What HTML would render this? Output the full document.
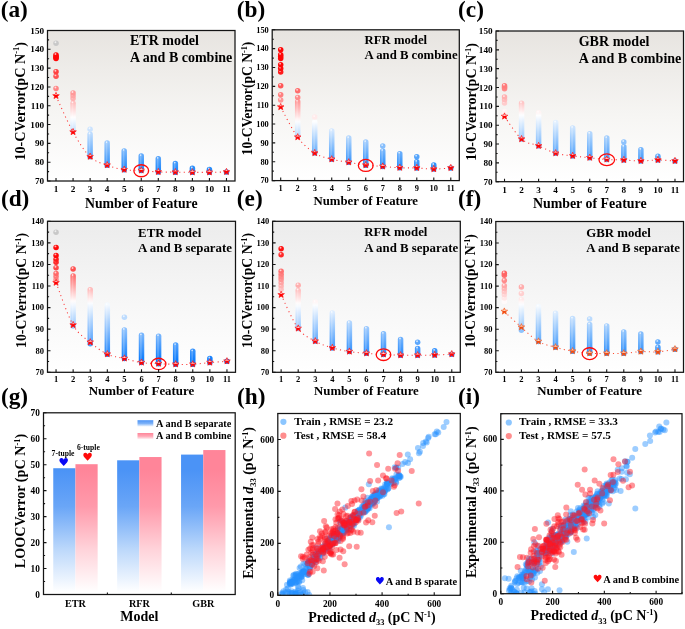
<!DOCTYPE html><html><head><meta charset="utf-8"><style>html,body{margin:0;padding:0;background:#fff;width:685px;height:629px;overflow:hidden}svg{display:block;font-family:"Liberation Serif", serif;will-change:transform}</style></head><body><svg width="685" height="629" viewBox="0 0 685 629"><defs><linearGradient id="bg1" x1="0" y1="0" x2="0" y2="1"><stop offset="0" stop-color="#e7e4e0"/><stop offset="0.55" stop-color="#f6f5f3"/><stop offset="1" stop-color="#ffffff"/></linearGradient>
<linearGradient id="cg2" gradientUnits="userSpaceOnUse" x1="0" y1="103.19" x2="0" y2="131.15"><stop offset="0" stop-color="#ffbfbf"/><stop offset="0.08" stop-color="#ffcaca"/><stop offset="0.17" stop-color="#ffd4d4"/><stop offset="0.25" stop-color="#ffdede"/><stop offset="0.33" stop-color="#ffe8e8"/><stop offset="0.42" stop-color="#fff3f3"/><stop offset="0.5" stop-color="#fffdfd"/><stop offset="0.58" stop-color="#f7fbff"/><stop offset="0.67" stop-color="#ecf5ff"/><stop offset="0.75" stop-color="#e2f0fe"/><stop offset="0.83" stop-color="#d8eafe"/><stop offset="0.92" stop-color="#cee5fe"/><stop offset="1" stop-color="#c4dffe"/></linearGradient>
<linearGradient id="cg3" gradientUnits="userSpaceOnUse" x1="0" y1="134.23" x2="0" y2="156.73"><stop offset="0" stop-color="#bcdbfe"/><stop offset="0.08" stop-color="#b3d6fd"/><stop offset="0.17" stop-color="#abd2fd"/><stop offset="0.25" stop-color="#a3cefd"/><stop offset="0.33" stop-color="#9ac9fd"/><stop offset="0.42" stop-color="#92c5fd"/><stop offset="0.5" stop-color="#8ac0fc"/><stop offset="0.58" stop-color="#81bcfc"/><stop offset="0.67" stop-color="#79b7fc"/><stop offset="0.75" stop-color="#71b3fc"/><stop offset="0.83" stop-color="#68aefc"/><stop offset="0.92" stop-color="#60aafc"/><stop offset="1" stop-color="#58a6fb"/></linearGradient>
<linearGradient id="cg4" gradientUnits="userSpaceOnUse" x1="0" y1="143.07" x2="0" y2="165.2"><stop offset="0" stop-color="#96c7fd"/><stop offset="0.08" stop-color="#8ec3fd"/><stop offset="0.17" stop-color="#86befc"/><stop offset="0.25" stop-color="#7ebafc"/><stop offset="0.33" stop-color="#76b5fc"/><stop offset="0.42" stop-color="#6db1fc"/><stop offset="0.5" stop-color="#65adfc"/><stop offset="0.58" stop-color="#5da8fb"/><stop offset="0.67" stop-color="#55a4fb"/><stop offset="0.75" stop-color="#4da0fb"/><stop offset="0.83" stop-color="#449bfb"/><stop offset="0.92" stop-color="#3c97fb"/><stop offset="1" stop-color="#3492fb"/></linearGradient>
<linearGradient id="cg5" gradientUnits="userSpaceOnUse" x1="0" y1="150.97" x2="0" y2="169.71"><stop offset="0" stop-color="#75b5fc"/><stop offset="0.08" stop-color="#6eb1fc"/><stop offset="0.17" stop-color="#67aefc"/><stop offset="0.25" stop-color="#60aafc"/><stop offset="0.33" stop-color="#59a6fb"/><stop offset="0.42" stop-color="#52a2fb"/><stop offset="0.5" stop-color="#4b9ffb"/><stop offset="0.58" stop-color="#449bfb"/><stop offset="0.67" stop-color="#3d97fb"/><stop offset="0.75" stop-color="#3693fb"/><stop offset="0.83" stop-color="#2f90fa"/><stop offset="0.92" stop-color="#288cfa"/><stop offset="1" stop-color="#2188fa"/></linearGradient>
<linearGradient id="cg6" gradientUnits="userSpaceOnUse" x1="0" y1="156.05" x2="0" y2="170.47"><stop offset="0" stop-color="#60aafc"/><stop offset="0.08" stop-color="#5aa7fb"/><stop offset="0.17" stop-color="#55a4fb"/><stop offset="0.25" stop-color="#4fa1fb"/><stop offset="0.33" stop-color="#4a9efb"/><stop offset="0.42" stop-color="#449bfb"/><stop offset="0.5" stop-color="#3f98fb"/><stop offset="0.58" stop-color="#3995fb"/><stop offset="0.67" stop-color="#3492fb"/><stop offset="0.75" stop-color="#2e8ffa"/><stop offset="0.83" stop-color="#298cfa"/><stop offset="0.92" stop-color="#2389fa"/><stop offset="1" stop-color="#1e87fa"/></linearGradient>
<linearGradient id="cg7" gradientUnits="userSpaceOnUse" x1="0" y1="158.87" x2="0" y2="171.97"><stop offset="0" stop-color="#54a3fb"/><stop offset="0.08" stop-color="#4fa1fb"/><stop offset="0.17" stop-color="#4a9efb"/><stop offset="0.25" stop-color="#459bfb"/><stop offset="0.33" stop-color="#4099fb"/><stop offset="0.42" stop-color="#3b96fb"/><stop offset="0.5" stop-color="#3693fb"/><stop offset="0.58" stop-color="#3191fb"/><stop offset="0.67" stop-color="#2c8efa"/><stop offset="0.75" stop-color="#268bfa"/><stop offset="0.83" stop-color="#2189fa"/><stop offset="0.92" stop-color="#1c86fa"/><stop offset="1" stop-color="#1984fa"/></linearGradient>
<linearGradient id="cg8" gradientUnits="userSpaceOnUse" x1="0" y1="163.58" x2="0" y2="172.16"><stop offset="0" stop-color="#4099fb"/><stop offset="0.08" stop-color="#3c97fb"/><stop offset="0.17" stop-color="#3995fb"/><stop offset="0.25" stop-color="#3693fb"/><stop offset="0.33" stop-color="#3291fb"/><stop offset="0.42" stop-color="#2f90fa"/><stop offset="0.5" stop-color="#2b8efa"/><stop offset="0.58" stop-color="#288cfa"/><stop offset="0.67" stop-color="#248afa"/><stop offset="0.75" stop-color="#2188fa"/><stop offset="0.83" stop-color="#1d86fa"/><stop offset="0.92" stop-color="#1a85fa"/><stop offset="1" stop-color="#1984fa"/></linearGradient>
<linearGradient id="cg9" gradientUnits="userSpaceOnUse" x1="0" y1="168.28" x2="0" y2="172.35"><stop offset="0" stop-color="#2c8efa"/><stop offset="0.08" stop-color="#2a8dfa"/><stop offset="0.17" stop-color="#288cfa"/><stop offset="0.25" stop-color="#268bfa"/><stop offset="0.33" stop-color="#258afa"/><stop offset="0.42" stop-color="#2389fa"/><stop offset="0.5" stop-color="#2188fa"/><stop offset="0.58" stop-color="#1f87fa"/><stop offset="0.67" stop-color="#1d86fa"/><stop offset="0.75" stop-color="#1b85fa"/><stop offset="0.83" stop-color="#1a84fa"/><stop offset="0.92" stop-color="#1984fa"/><stop offset="1" stop-color="#1984fa"/></linearGradient>
<linearGradient id="cg10" gradientUnits="userSpaceOnUse" x1="0" y1="169.41" x2="0" y2="172.35"><stop offset="0" stop-color="#278cfa"/><stop offset="0.08" stop-color="#268bfa"/><stop offset="0.17" stop-color="#248afa"/><stop offset="0.25" stop-color="#2389fa"/><stop offset="0.33" stop-color="#2189fa"/><stop offset="0.42" stop-color="#2088fa"/><stop offset="0.5" stop-color="#1f87fa"/><stop offset="0.58" stop-color="#1d86fa"/><stop offset="0.67" stop-color="#1c85fa"/><stop offset="0.75" stop-color="#1a85fa"/><stop offset="0.83" stop-color="#1984fa"/><stop offset="0.92" stop-color="#1984fa"/><stop offset="1" stop-color="#1984fa"/></linearGradient>
<linearGradient id="sg11" x1="0" y1="0" x2="0" y2="1"><stop offset="0" stop-color="#ffc8c8"/><stop offset="0.44" stop-color="#ffc8c8"/><stop offset="0.5" stop-color="#ff0000"/><stop offset="1" stop-color="#ff0000"/></linearGradient>
<linearGradient id="bg12" x1="0" y1="0" x2="0" y2="1"><stop offset="0" stop-color="#e7e4e0"/><stop offset="0.55" stop-color="#f6f5f3"/><stop offset="1" stop-color="#ffffff"/></linearGradient>
<linearGradient id="cg13" gradientUnits="userSpaceOnUse" x1="0" y1="101.69" x2="0" y2="136.3"><stop offset="0" stop-color="#ff9999"/><stop offset="0.08" stop-color="#ffa7a7"/><stop offset="0.17" stop-color="#ffb5b5"/><stop offset="0.25" stop-color="#ffc4c4"/><stop offset="0.33" stop-color="#ffd3d3"/><stop offset="0.42" stop-color="#ffe2e2"/><stop offset="0.5" stop-color="#fff3f3"/><stop offset="0.58" stop-color="#fafcff"/><stop offset="0.67" stop-color="#ecf5ff"/><stop offset="0.75" stop-color="#deedfe"/><stop offset="0.83" stop-color="#d0e6fe"/><stop offset="0.92" stop-color="#c2defe"/><stop offset="1" stop-color="#b4d7fd"/></linearGradient>
<linearGradient id="cg14" gradientUnits="userSpaceOnUse" x1="0" y1="122.05" x2="0" y2="153.08"><stop offset="0" stop-color="#fcfeff"/><stop offset="0.08" stop-color="#f0f7ff"/><stop offset="0.17" stop-color="#e3f0fe"/><stop offset="0.25" stop-color="#d7e9fe"/><stop offset="0.33" stop-color="#cae3fe"/><stop offset="0.42" stop-color="#bddcfe"/><stop offset="0.5" stop-color="#b1d5fd"/><stop offset="0.58" stop-color="#a4cefd"/><stop offset="0.67" stop-color="#97c8fd"/><stop offset="0.75" stop-color="#8bc1fc"/><stop offset="0.83" stop-color="#7ebafc"/><stop offset="0.92" stop-color="#72b3fc"/><stop offset="1" stop-color="#65adfc"/></linearGradient>
<linearGradient id="cg15" gradientUnits="userSpaceOnUse" x1="0" y1="130.9" x2="0" y2="159.3"><stop offset="0" stop-color="#d3e7fe"/><stop offset="0.08" stop-color="#c7e1fe"/><stop offset="0.17" stop-color="#bcdbfe"/><stop offset="0.25" stop-color="#b0d5fd"/><stop offset="0.33" stop-color="#a4cffd"/><stop offset="0.42" stop-color="#99c8fd"/><stop offset="0.5" stop-color="#8dc2fd"/><stop offset="0.58" stop-color="#82bcfc"/><stop offset="0.67" stop-color="#76b6fc"/><stop offset="0.75" stop-color="#6bb0fc"/><stop offset="0.83" stop-color="#5fa9fc"/><stop offset="0.92" stop-color="#53a3fb"/><stop offset="1" stop-color="#489dfb"/></linearGradient>
<linearGradient id="cg16" gradientUnits="userSpaceOnUse" x1="0" y1="138.07" x2="0" y2="162.32"><stop offset="0" stop-color="#b1d5fd"/><stop offset="0.08" stop-color="#a7d0fd"/><stop offset="0.17" stop-color="#9dcbfd"/><stop offset="0.25" stop-color="#93c5fd"/><stop offset="0.33" stop-color="#89c0fc"/><stop offset="0.42" stop-color="#7fbbfc"/><stop offset="0.5" stop-color="#75b5fc"/><stop offset="0.58" stop-color="#6bb0fc"/><stop offset="0.67" stop-color="#62abfc"/><stop offset="0.75" stop-color="#58a5fb"/><stop offset="0.83" stop-color="#4ea0fb"/><stop offset="0.92" stop-color="#449bfb"/><stop offset="1" stop-color="#3a96fb"/></linearGradient>
<linearGradient id="cg17" gradientUnits="userSpaceOnUse" x1="0" y1="142.03" x2="0" y2="165.14"><stop offset="0" stop-color="#9fcbfd"/><stop offset="0.08" stop-color="#95c6fd"/><stop offset="0.17" stop-color="#8cc1fc"/><stop offset="0.25" stop-color="#82bcfc"/><stop offset="0.33" stop-color="#79b7fc"/><stop offset="0.42" stop-color="#6fb2fc"/><stop offset="0.5" stop-color="#66adfc"/><stop offset="0.58" stop-color="#5ca8fb"/><stop offset="0.67" stop-color="#52a3fb"/><stop offset="0.75" stop-color="#499efb"/><stop offset="0.83" stop-color="#3f99fb"/><stop offset="0.92" stop-color="#3693fb"/><stop offset="1" stop-color="#2c8efa"/></linearGradient>
<linearGradient id="cg18" gradientUnits="userSpaceOnUse" x1="0" y1="150.89" x2="0" y2="166.46"><stop offset="0" stop-color="#75b5fc"/><stop offset="0.08" stop-color="#6eb2fc"/><stop offset="0.17" stop-color="#68aefc"/><stop offset="0.25" stop-color="#61abfc"/><stop offset="0.33" stop-color="#5ba7fb"/><stop offset="0.42" stop-color="#54a4fb"/><stop offset="0.5" stop-color="#4ea0fb"/><stop offset="0.58" stop-color="#479dfb"/><stop offset="0.67" stop-color="#4199fb"/><stop offset="0.75" stop-color="#3a96fb"/><stop offset="0.83" stop-color="#3392fb"/><stop offset="0.92" stop-color="#2d8ffa"/><stop offset="1" stop-color="#268bfa"/></linearGradient>
<linearGradient id="cg19" gradientUnits="userSpaceOnUse" x1="0" y1="153.71" x2="0" y2="167.78"><stop offset="0" stop-color="#68aefc"/><stop offset="0.08" stop-color="#62abfc"/><stop offset="0.17" stop-color="#5ca8fb"/><stop offset="0.25" stop-color="#56a5fb"/><stop offset="0.33" stop-color="#50a1fb"/><stop offset="0.42" stop-color="#4a9efb"/><stop offset="0.5" stop-color="#449bfb"/><stop offset="0.58" stop-color="#3e98fb"/><stop offset="0.67" stop-color="#3895fb"/><stop offset="0.75" stop-color="#3291fb"/><stop offset="0.83" stop-color="#2c8efa"/><stop offset="0.92" stop-color="#268bfa"/><stop offset="1" stop-color="#2088fa"/></linearGradient>
<linearGradient id="cg20" gradientUnits="userSpaceOnUse" x1="0" y1="161.82" x2="0" y2="167.97"><stop offset="0" stop-color="#429afb"/><stop offset="0.08" stop-color="#3f98fb"/><stop offset="0.17" stop-color="#3c97fb"/><stop offset="0.25" stop-color="#3995fb"/><stop offset="0.33" stop-color="#3694fb"/><stop offset="0.42" stop-color="#3392fb"/><stop offset="0.5" stop-color="#3091fb"/><stop offset="0.58" stop-color="#2e8ffa"/><stop offset="0.67" stop-color="#2b8dfa"/><stop offset="0.75" stop-color="#288cfa"/><stop offset="0.83" stop-color="#258afa"/><stop offset="0.92" stop-color="#2289fa"/><stop offset="1" stop-color="#1f87fa"/></linearGradient>
<linearGradient id="cg21" gradientUnits="userSpaceOnUse" x1="0" y1="165.02" x2="0" y2="169.1"><stop offset="0" stop-color="#3392fb"/><stop offset="0.08" stop-color="#3191fb"/><stop offset="0.17" stop-color="#2f90fa"/><stop offset="0.25" stop-color="#2c8efa"/><stop offset="0.33" stop-color="#2a8dfa"/><stop offset="0.42" stop-color="#288cfa"/><stop offset="0.5" stop-color="#268bfa"/><stop offset="0.58" stop-color="#248afa"/><stop offset="0.67" stop-color="#2289fa"/><stop offset="0.75" stop-color="#2088fa"/><stop offset="0.83" stop-color="#1e87fa"/><stop offset="0.92" stop-color="#1c86fa"/><stop offset="1" stop-color="#1a84fa"/></linearGradient>
<linearGradient id="sg22" x1="0" y1="0" x2="0" y2="1"><stop offset="0" stop-color="#ffc8c8"/><stop offset="0.44" stop-color="#ffc8c8"/><stop offset="0.5" stop-color="#ff0000"/><stop offset="1" stop-color="#ff0000"/></linearGradient>
<linearGradient id="bg23" x1="0" y1="0" x2="0" y2="1"><stop offset="0" stop-color="#e7e4e0"/><stop offset="0.55" stop-color="#f6f5f3"/><stop offset="1" stop-color="#ffffff"/></linearGradient>
<linearGradient id="cg24" gradientUnits="userSpaceOnUse" x1="0" y1="103.22" x2="0" y2="139.13"><stop offset="0" stop-color="#ffc7c7"/><stop offset="0.08" stop-color="#ffd6d6"/><stop offset="0.17" stop-color="#ffe4e4"/><stop offset="0.25" stop-color="#fff3f3"/><stop offset="0.33" stop-color="#fdfeff"/><stop offset="0.42" stop-color="#f0f7ff"/><stop offset="0.5" stop-color="#e4f0fe"/><stop offset="0.58" stop-color="#d7eafe"/><stop offset="0.67" stop-color="#cbe3fe"/><stop offset="0.75" stop-color="#bedcfe"/><stop offset="0.83" stop-color="#b1d6fd"/><stop offset="0.92" stop-color="#a5cffd"/><stop offset="1" stop-color="#98c8fd"/></linearGradient>
<linearGradient id="cg25" gradientUnits="userSpaceOnUse" x1="0" y1="112.82" x2="0" y2="145.91"><stop offset="0" stop-color="#fff4f4"/><stop offset="0.08" stop-color="#fdfeff"/><stop offset="0.17" stop-color="#f1f7ff"/><stop offset="0.25" stop-color="#e5f1fe"/><stop offset="0.33" stop-color="#daebfe"/><stop offset="0.42" stop-color="#cee5fe"/><stop offset="0.5" stop-color="#c2dffe"/><stop offset="0.58" stop-color="#b7d8fd"/><stop offset="0.67" stop-color="#abd2fd"/><stop offset="0.75" stop-color="#a0ccfd"/><stop offset="0.83" stop-color="#94c6fd"/><stop offset="0.92" stop-color="#88c0fc"/><stop offset="1" stop-color="#7db9fc"/></linearGradient>
<linearGradient id="cg26" gradientUnits="userSpaceOnUse" x1="0" y1="122.43" x2="0" y2="153.26"><stop offset="0" stop-color="#e1effe"/><stop offset="0.08" stop-color="#d6e9fe"/><stop offset="0.17" stop-color="#cbe3fe"/><stop offset="0.25" stop-color="#c1defe"/><stop offset="0.33" stop-color="#b6d8fd"/><stop offset="0.42" stop-color="#abd2fd"/><stop offset="0.5" stop-color="#a0ccfd"/><stop offset="0.58" stop-color="#95c6fd"/><stop offset="0.67" stop-color="#8ac1fc"/><stop offset="0.75" stop-color="#7fbbfc"/><stop offset="0.83" stop-color="#74b5fc"/><stop offset="0.92" stop-color="#6aaffc"/><stop offset="1" stop-color="#5fa9fc"/></linearGradient>
<linearGradient id="cg27" gradientUnits="userSpaceOnUse" x1="0" y1="127.89" x2="0" y2="155.89"><stop offset="0" stop-color="#cbe3fe"/><stop offset="0.08" stop-color="#c1defe"/><stop offset="0.17" stop-color="#b7d9fd"/><stop offset="0.25" stop-color="#add3fd"/><stop offset="0.33" stop-color="#a3cefd"/><stop offset="0.42" stop-color="#99c9fd"/><stop offset="0.5" stop-color="#8fc3fd"/><stop offset="0.58" stop-color="#86befc"/><stop offset="0.67" stop-color="#7cb9fc"/><stop offset="0.75" stop-color="#72b3fc"/><stop offset="0.83" stop-color="#68aefc"/><stop offset="0.92" stop-color="#5ea9fb"/><stop offset="1" stop-color="#54a4fb"/></linearGradient>
<linearGradient id="cg28" gradientUnits="userSpaceOnUse" x1="0" y1="133.73" x2="0" y2="157.78"><stop offset="0" stop-color="#b3d6fd"/><stop offset="0.08" stop-color="#abd2fd"/><stop offset="0.17" stop-color="#a2cdfd"/><stop offset="0.25" stop-color="#99c9fd"/><stop offset="0.33" stop-color="#91c4fd"/><stop offset="0.42" stop-color="#88c0fc"/><stop offset="0.5" stop-color="#80bbfc"/><stop offset="0.58" stop-color="#77b6fc"/><stop offset="0.67" stop-color="#6fb2fc"/><stop offset="0.75" stop-color="#66adfc"/><stop offset="0.83" stop-color="#5da9fb"/><stop offset="0.92" stop-color="#55a4fb"/><stop offset="1" stop-color="#4c9ffb"/></linearGradient>
<linearGradient id="cg29" gradientUnits="userSpaceOnUse" x1="0" y1="138.07" x2="0" y2="159.47"><stop offset="0" stop-color="#a1cdfd"/><stop offset="0.08" stop-color="#9ac9fd"/><stop offset="0.17" stop-color="#92c5fd"/><stop offset="0.25" stop-color="#8ac1fc"/><stop offset="0.33" stop-color="#83bdfc"/><stop offset="0.42" stop-color="#7bb8fc"/><stop offset="0.5" stop-color="#73b4fc"/><stop offset="0.58" stop-color="#6cb0fc"/><stop offset="0.67" stop-color="#64acfc"/><stop offset="0.75" stop-color="#5ca8fb"/><stop offset="0.83" stop-color="#55a4fb"/><stop offset="0.92" stop-color="#4da0fb"/><stop offset="1" stop-color="#459cfb"/></linearGradient>
<linearGradient id="cg30" gradientUnits="userSpaceOnUse" x1="0" y1="146.73" x2="0" y2="160.04"><stop offset="0" stop-color="#7ebafc"/><stop offset="0.08" stop-color="#79b7fc"/><stop offset="0.17" stop-color="#74b5fc"/><stop offset="0.25" stop-color="#6fb2fc"/><stop offset="0.33" stop-color="#6bb0fc"/><stop offset="0.42" stop-color="#66adfc"/><stop offset="0.5" stop-color="#61aafc"/><stop offset="0.58" stop-color="#5ca8fb"/><stop offset="0.67" stop-color="#57a5fb"/><stop offset="0.75" stop-color="#52a2fb"/><stop offset="0.83" stop-color="#4da0fb"/><stop offset="0.92" stop-color="#489dfb"/><stop offset="1" stop-color="#439bfb"/></linearGradient>
<linearGradient id="cg31" gradientUnits="userSpaceOnUse" x1="0" y1="149.75" x2="0" y2="160.98"><stop offset="0" stop-color="#72b4fc"/><stop offset="0.08" stop-color="#6eb1fc"/><stop offset="0.17" stop-color="#6aaffc"/><stop offset="0.25" stop-color="#65adfc"/><stop offset="0.33" stop-color="#61abfc"/><stop offset="0.42" stop-color="#5da8fb"/><stop offset="0.5" stop-color="#59a6fb"/><stop offset="0.58" stop-color="#54a4fb"/><stop offset="0.67" stop-color="#50a2fb"/><stop offset="0.75" stop-color="#4c9ffb"/><stop offset="0.83" stop-color="#489dfb"/><stop offset="0.92" stop-color="#449bfb"/><stop offset="1" stop-color="#3f98fb"/></linearGradient>
<linearGradient id="cg32" gradientUnits="userSpaceOnUse" x1="0" y1="156.15" x2="0" y2="160.04"><stop offset="0" stop-color="#58a6fb"/><stop offset="0.08" stop-color="#56a5fb"/><stop offset="0.17" stop-color="#54a4fb"/><stop offset="0.25" stop-color="#53a3fb"/><stop offset="0.33" stop-color="#51a2fb"/><stop offset="0.42" stop-color="#4fa1fb"/><stop offset="0.5" stop-color="#4ea0fb"/><stop offset="0.58" stop-color="#4c9ffb"/><stop offset="0.67" stop-color="#4a9efb"/><stop offset="0.75" stop-color="#489dfb"/><stop offset="0.83" stop-color="#479cfb"/><stop offset="0.92" stop-color="#459bfb"/><stop offset="1" stop-color="#439bfb"/></linearGradient>
<linearGradient id="sg33" x1="0" y1="0" x2="0" y2="1"><stop offset="0" stop-color="#ffc8c8"/><stop offset="0.44" stop-color="#ffc8c8"/><stop offset="0.5" stop-color="#ff0000"/><stop offset="1" stop-color="#ff0000"/></linearGradient>
<linearGradient id="bg34" x1="0" y1="0" x2="0" y2="1"><stop offset="0" stop-color="#ececec"/><stop offset="0.55" stop-color="#f7f7f7"/><stop offset="1" stop-color="#ffffff"/></linearGradient>
<linearGradient id="cg35" gradientUnits="userSpaceOnUse" x1="0" y1="276" x2="0" y2="325.92"><stop offset="0" stop-color="#ff7070"/><stop offset="0.08" stop-color="#ff8787"/><stop offset="0.17" stop-color="#ff9e9e"/><stop offset="0.25" stop-color="#ffb5b5"/><stop offset="0.33" stop-color="#ffcccc"/><stop offset="0.42" stop-color="#ffe4e4"/><stop offset="0.5" stop-color="#fffbfb"/><stop offset="0.58" stop-color="#f1f7ff"/><stop offset="0.67" stop-color="#dfeeff"/><stop offset="0.75" stop-color="#cde4fe"/><stop offset="0.83" stop-color="#bcdbfe"/><stop offset="0.92" stop-color="#aad1fe"/><stop offset="1" stop-color="#99c8fe"/></linearGradient>
<linearGradient id="cg36" gradientUnits="userSpaceOnUse" x1="0" y1="289.8" x2="0" y2="343.83"><stop offset="0" stop-color="#ffbbbb"/><stop offset="0.08" stop-color="#ffd4d4"/><stop offset="0.17" stop-color="#ffeded"/><stop offset="0.25" stop-color="#fafcff"/><stop offset="0.33" stop-color="#e7f2ff"/><stop offset="0.42" stop-color="#d4e8fe"/><stop offset="0.5" stop-color="#c1ddfe"/><stop offset="0.58" stop-color="#aed3fe"/><stop offset="0.67" stop-color="#9bc9fe"/><stop offset="0.75" stop-color="#88befe"/><stop offset="0.83" stop-color="#75b4fd"/><stop offset="0.92" stop-color="#62aafd"/><stop offset="1" stop-color="#4fa0fd"/></linearGradient>
<linearGradient id="cg37" gradientUnits="userSpaceOnUse" x1="0" y1="305.12" x2="0" y2="354.18"><stop offset="0" stop-color="#f3f9ff"/><stop offset="0.08" stop-color="#e2efff"/><stop offset="0.17" stop-color="#d1e6fe"/><stop offset="0.25" stop-color="#c0ddfe"/><stop offset="0.33" stop-color="#aed3fe"/><stop offset="0.42" stop-color="#9dcafe"/><stop offset="0.5" stop-color="#8cc1fe"/><stop offset="0.58" stop-color="#7bb7fd"/><stop offset="0.67" stop-color="#69aefd"/><stop offset="0.75" stop-color="#58a5fd"/><stop offset="0.83" stop-color="#479bfd"/><stop offset="0.92" stop-color="#3692fc"/><stop offset="1" stop-color="#2489fc"/></linearGradient>
<linearGradient id="cg38" gradientUnits="userSpaceOnUse" x1="0" y1="329.93" x2="0" y2="358.49"><stop offset="0" stop-color="#8dc1fe"/><stop offset="0.08" stop-color="#83bcfd"/><stop offset="0.17" stop-color="#79b6fd"/><stop offset="0.25" stop-color="#6fb1fd"/><stop offset="0.33" stop-color="#64abfd"/><stop offset="0.42" stop-color="#5aa6fd"/><stop offset="0.5" stop-color="#50a0fd"/><stop offset="0.58" stop-color="#469bfd"/><stop offset="0.67" stop-color="#3b95fd"/><stop offset="0.75" stop-color="#3190fc"/><stop offset="0.83" stop-color="#278afc"/><stop offset="0.92" stop-color="#1d84fc"/><stop offset="1" stop-color="#137ffc"/></linearGradient>
<linearGradient id="cg39" gradientUnits="userSpaceOnUse" x1="0" y1="335.32" x2="0" y2="362.59"><stop offset="0" stop-color="#77b5fd"/><stop offset="0.08" stop-color="#6db0fd"/><stop offset="0.17" stop-color="#63abfd"/><stop offset="0.25" stop-color="#5aa5fd"/><stop offset="0.33" stop-color="#50a0fd"/><stop offset="0.42" stop-color="#469bfd"/><stop offset="0.5" stop-color="#3c96fd"/><stop offset="0.58" stop-color="#3390fc"/><stop offset="0.67" stop-color="#298bfc"/><stop offset="0.75" stop-color="#1f86fc"/><stop offset="0.83" stop-color="#1580fc"/><stop offset="0.92" stop-color="#0f7dfc"/><stop offset="1" stop-color="#0f7dfc"/></linearGradient>
<linearGradient id="cg40" gradientUnits="userSpaceOnUse" x1="0" y1="336.18" x2="0" y2="363.67"><stop offset="0" stop-color="#73b3fd"/><stop offset="0.08" stop-color="#6aaefd"/><stop offset="0.17" stop-color="#60a9fd"/><stop offset="0.25" stop-color="#56a3fd"/><stop offset="0.33" stop-color="#4c9efd"/><stop offset="0.42" stop-color="#4299fd"/><stop offset="0.5" stop-color="#3893fd"/><stop offset="0.58" stop-color="#2e8efc"/><stop offset="0.67" stop-color="#2589fc"/><stop offset="0.75" stop-color="#1b83fc"/><stop offset="0.83" stop-color="#117efc"/><stop offset="0.92" stop-color="#0f7dfc"/><stop offset="1" stop-color="#0f7dfc"/></linearGradient>
<linearGradient id="cg41" gradientUnits="userSpaceOnUse" x1="0" y1="345.03" x2="0" y2="364.32"><stop offset="0" stop-color="#4fa0fd"/><stop offset="0.08" stop-color="#489cfd"/><stop offset="0.17" stop-color="#4198fd"/><stop offset="0.25" stop-color="#3a94fd"/><stop offset="0.33" stop-color="#3390fc"/><stop offset="0.42" stop-color="#2c8dfc"/><stop offset="0.5" stop-color="#2589fc"/><stop offset="0.58" stop-color="#1e85fc"/><stop offset="0.67" stop-color="#1781fc"/><stop offset="0.75" stop-color="#107dfc"/><stop offset="0.83" stop-color="#0f7dfc"/><stop offset="0.92" stop-color="#0f7dfc"/><stop offset="1" stop-color="#0f7dfc"/></linearGradient>
<linearGradient id="cg42" gradientUnits="userSpaceOnUse" x1="0" y1="351.28" x2="0" y2="364.32"><stop offset="0" stop-color="#3592fc"/><stop offset="0.08" stop-color="#308ffc"/><stop offset="0.17" stop-color="#2b8cfc"/><stop offset="0.25" stop-color="#278afc"/><stop offset="0.33" stop-color="#2287fc"/><stop offset="0.42" stop-color="#1d84fc"/><stop offset="0.5" stop-color="#1882fc"/><stop offset="0.58" stop-color="#137ffc"/><stop offset="0.67" stop-color="#0f7dfc"/><stop offset="0.75" stop-color="#0f7dfc"/><stop offset="0.83" stop-color="#0f7dfc"/><stop offset="0.92" stop-color="#0f7dfc"/><stop offset="1" stop-color="#0f7dfc"/></linearGradient>
<linearGradient id="cg43" gradientUnits="userSpaceOnUse" x1="0" y1="358.4" x2="0" y2="362.59"><stop offset="0" stop-color="#1882fc"/><stop offset="0.08" stop-color="#1681fc"/><stop offset="0.17" stop-color="#1480fc"/><stop offset="0.25" stop-color="#127ffc"/><stop offset="0.33" stop-color="#107efc"/><stop offset="0.42" stop-color="#0f7dfc"/><stop offset="0.5" stop-color="#0f7dfc"/><stop offset="0.58" stop-color="#0f7dfc"/><stop offset="0.67" stop-color="#0f7dfc"/><stop offset="0.75" stop-color="#0f7dfc"/><stop offset="0.83" stop-color="#0f7dfc"/><stop offset="0.92" stop-color="#0f7dfc"/><stop offset="1" stop-color="#0f7dfc"/></linearGradient>
<linearGradient id="sg44" x1="0" y1="0" x2="0" y2="1"><stop offset="0" stop-color="#ffc8c8"/><stop offset="0.44" stop-color="#ffc8c8"/><stop offset="0.5" stop-color="#ff0000"/><stop offset="1" stop-color="#ff0000"/></linearGradient>
<linearGradient id="bg45" x1="0" y1="0" x2="0" y2="1"><stop offset="0" stop-color="#ececec"/><stop offset="0.55" stop-color="#f7f7f7"/><stop offset="1" stop-color="#ffffff"/></linearGradient>
<linearGradient id="cg46" gradientUnits="userSpaceOnUse" x1="0" y1="290.45" x2="0" y2="328.51"><stop offset="0" stop-color="#ffc1c1"/><stop offset="0.08" stop-color="#ffd0d0"/><stop offset="0.17" stop-color="#ffdede"/><stop offset="0.25" stop-color="#ffecec"/><stop offset="0.33" stop-color="#fffbfb"/><stop offset="0.42" stop-color="#f5faff"/><stop offset="0.5" stop-color="#e8f2ff"/><stop offset="0.58" stop-color="#daebff"/><stop offset="0.67" stop-color="#cce3fe"/><stop offset="0.75" stop-color="#bedcfe"/><stop offset="0.83" stop-color="#b1d5fe"/><stop offset="0.92" stop-color="#a3cdfe"/><stop offset="1" stop-color="#95c6fe"/></linearGradient>
<linearGradient id="cg47" gradientUnits="userSpaceOnUse" x1="0" y1="302.1" x2="0" y2="341.24"><stop offset="0" stop-color="#fff5f5"/><stop offset="0.08" stop-color="#fbfdff"/><stop offset="0.17" stop-color="#edf5ff"/><stop offset="0.25" stop-color="#dfeeff"/><stop offset="0.33" stop-color="#d1e6fe"/><stop offset="0.42" stop-color="#c3defe"/><stop offset="0.5" stop-color="#b4d7fe"/><stop offset="0.58" stop-color="#a6cffe"/><stop offset="0.67" stop-color="#98c7fe"/><stop offset="0.75" stop-color="#8ac0fe"/><stop offset="0.83" stop-color="#7cb8fd"/><stop offset="0.92" stop-color="#6eb1fd"/><stop offset="1" stop-color="#60a9fd"/></linearGradient>
<linearGradient id="cg48" gradientUnits="userSpaceOnUse" x1="0" y1="312.88" x2="0" y2="347.92"><stop offset="0" stop-color="#dcecff"/><stop offset="0.08" stop-color="#cfe5fe"/><stop offset="0.17" stop-color="#c2defe"/><stop offset="0.25" stop-color="#b6d7fe"/><stop offset="0.33" stop-color="#a9d1fe"/><stop offset="0.42" stop-color="#9ccafe"/><stop offset="0.5" stop-color="#90c3fe"/><stop offset="0.58" stop-color="#83bcfd"/><stop offset="0.67" stop-color="#77b5fd"/><stop offset="0.75" stop-color="#6aaefd"/><stop offset="0.83" stop-color="#5da8fd"/><stop offset="0.92" stop-color="#51a1fd"/><stop offset="1" stop-color="#449afd"/></linearGradient>
<linearGradient id="cg49" gradientUnits="userSpaceOnUse" x1="0" y1="323.02" x2="0" y2="351.59"><stop offset="0" stop-color="#b1d5fe"/><stop offset="0.08" stop-color="#a7cffe"/><stop offset="0.17" stop-color="#9ccafe"/><stop offset="0.25" stop-color="#92c4fe"/><stop offset="0.33" stop-color="#88bffd"/><stop offset="0.42" stop-color="#7db9fd"/><stop offset="0.5" stop-color="#73b3fd"/><stop offset="0.58" stop-color="#69aefd"/><stop offset="0.67" stop-color="#5ea8fd"/><stop offset="0.75" stop-color="#54a2fd"/><stop offset="0.83" stop-color="#499dfd"/><stop offset="0.92" stop-color="#3f97fd"/><stop offset="1" stop-color="#3592fc"/></linearGradient>
<linearGradient id="cg50" gradientUnits="userSpaceOnUse" x1="0" y1="328.63" x2="0" y2="353.32"><stop offset="0" stop-color="#9ac8fe"/><stop offset="0.08" stop-color="#91c3fe"/><stop offset="0.17" stop-color="#88bffd"/><stop offset="0.25" stop-color="#7fbafd"/><stop offset="0.33" stop-color="#76b5fd"/><stop offset="0.42" stop-color="#6db0fd"/><stop offset="0.5" stop-color="#64abfd"/><stop offset="0.58" stop-color="#5aa6fd"/><stop offset="0.67" stop-color="#51a1fd"/><stop offset="0.75" stop-color="#489cfd"/><stop offset="0.83" stop-color="#3f97fd"/><stop offset="0.92" stop-color="#3693fc"/><stop offset="1" stop-color="#2d8efc"/></linearGradient>
<linearGradient id="cg51" gradientUnits="userSpaceOnUse" x1="0" y1="333.81" x2="0" y2="354.4"><stop offset="0" stop-color="#84bdfd"/><stop offset="0.08" stop-color="#7cb8fd"/><stop offset="0.17" stop-color="#75b4fd"/><stop offset="0.25" stop-color="#6db0fd"/><stop offset="0.33" stop-color="#66acfd"/><stop offset="0.42" stop-color="#5ea8fd"/><stop offset="0.5" stop-color="#56a4fd"/><stop offset="0.58" stop-color="#4fa0fd"/><stop offset="0.67" stop-color="#479cfd"/><stop offset="0.75" stop-color="#4098fd"/><stop offset="0.83" stop-color="#3893fc"/><stop offset="0.92" stop-color="#308ffc"/><stop offset="1" stop-color="#298bfc"/></linearGradient>
<linearGradient id="cg52" gradientUnits="userSpaceOnUse" x1="0" y1="339.42" x2="0" y2="355.26"><stop offset="0" stop-color="#6db0fd"/><stop offset="0.08" stop-color="#67adfd"/><stop offset="0.17" stop-color="#61a9fd"/><stop offset="0.25" stop-color="#5ba6fd"/><stop offset="0.33" stop-color="#55a3fd"/><stop offset="0.42" stop-color="#4fa0fd"/><stop offset="0.5" stop-color="#499dfd"/><stop offset="0.58" stop-color="#4399fd"/><stop offset="0.67" stop-color="#3d96fd"/><stop offset="0.75" stop-color="#3793fc"/><stop offset="0.83" stop-color="#3190fc"/><stop offset="0.92" stop-color="#2b8cfc"/><stop offset="1" stop-color="#2589fc"/></linearGradient>
<linearGradient id="cg53" gradientUnits="userSpaceOnUse" x1="0" y1="348.48" x2="0" y2="355.26"><stop offset="0" stop-color="#479bfd"/><stop offset="0.08" stop-color="#449afd"/><stop offset="0.17" stop-color="#4198fd"/><stop offset="0.25" stop-color="#3e97fd"/><stop offset="0.33" stop-color="#3b95fd"/><stop offset="0.42" stop-color="#3994fc"/><stop offset="0.5" stop-color="#3692fc"/><stop offset="0.58" stop-color="#3391fc"/><stop offset="0.67" stop-color="#308ffc"/><stop offset="0.75" stop-color="#2e8efc"/><stop offset="0.83" stop-color="#2b8cfc"/><stop offset="0.92" stop-color="#288bfc"/><stop offset="1" stop-color="#2589fc"/></linearGradient>
<linearGradient id="cg54" gradientUnits="userSpaceOnUse" x1="0" y1="350.85" x2="0" y2="355.04"><stop offset="0" stop-color="#3d96fd"/><stop offset="0.08" stop-color="#3b95fc"/><stop offset="0.17" stop-color="#3994fc"/><stop offset="0.25" stop-color="#3793fc"/><stop offset="0.33" stop-color="#3592fc"/><stop offset="0.42" stop-color="#3391fc"/><stop offset="0.5" stop-color="#3190fc"/><stop offset="0.58" stop-color="#2f8ffc"/><stop offset="0.67" stop-color="#2e8efc"/><stop offset="0.75" stop-color="#2c8dfc"/><stop offset="0.83" stop-color="#2a8cfc"/><stop offset="0.92" stop-color="#288bfc"/><stop offset="1" stop-color="#268afc"/></linearGradient>
<linearGradient id="sg55" x1="0" y1="0" x2="0" y2="1"><stop offset="0" stop-color="#ffc8c8"/><stop offset="0.44" stop-color="#ffc8c8"/><stop offset="0.5" stop-color="#ff0000"/><stop offset="1" stop-color="#ff0000"/></linearGradient>
<linearGradient id="bg56" x1="0" y1="0" x2="0" y2="1"><stop offset="0" stop-color="#ececec"/><stop offset="0.55" stop-color="#f7f7f7"/><stop offset="1" stop-color="#ffffff"/></linearGradient>
<linearGradient id="cg57" gradientUnits="userSpaceOnUse" x1="0" y1="299.39" x2="0" y2="330.29"><stop offset="0" stop-color="#ffe9e9"/><stop offset="0.08" stop-color="#fff7f7"/><stop offset="0.17" stop-color="#fafcff"/><stop offset="0.25" stop-color="#eff7ff"/><stop offset="0.33" stop-color="#e4f1fe"/><stop offset="0.42" stop-color="#daebfe"/><stop offset="0.5" stop-color="#cfe5fe"/><stop offset="0.58" stop-color="#c4dffe"/><stop offset="0.67" stop-color="#b9dafd"/><stop offset="0.75" stop-color="#aed4fd"/><stop offset="0.83" stop-color="#a4cefd"/><stop offset="0.92" stop-color="#99c8fd"/><stop offset="1" stop-color="#8ec3fd"/></linearGradient>
<linearGradient id="cg58" gradientUnits="userSpaceOnUse" x1="0" y1="306.5" x2="0" y2="341.49"><stop offset="0" stop-color="#f3f9ff"/><stop offset="0.08" stop-color="#e7f2fe"/><stop offset="0.17" stop-color="#dbecfe"/><stop offset="0.25" stop-color="#cee5fe"/><stop offset="0.33" stop-color="#c2dffe"/><stop offset="0.42" stop-color="#b6d8fd"/><stop offset="0.5" stop-color="#aad2fd"/><stop offset="0.58" stop-color="#9ecbfd"/><stop offset="0.67" stop-color="#92c5fd"/><stop offset="0.75" stop-color="#85befc"/><stop offset="0.83" stop-color="#79b8fc"/><stop offset="0.92" stop-color="#6db1fc"/><stop offset="1" stop-color="#61abfc"/></linearGradient>
<linearGradient id="cg59" gradientUnits="userSpaceOnUse" x1="0" y1="313.18" x2="0" y2="347.31"><stop offset="0" stop-color="#d8eafe"/><stop offset="0.08" stop-color="#cce4fe"/><stop offset="0.17" stop-color="#c0ddfe"/><stop offset="0.25" stop-color="#b4d7fd"/><stop offset="0.33" stop-color="#a8d1fd"/><stop offset="0.42" stop-color="#9dcafd"/><stop offset="0.5" stop-color="#91c4fd"/><stop offset="0.58" stop-color="#85befc"/><stop offset="0.67" stop-color="#79b7fc"/><stop offset="0.75" stop-color="#6db1fc"/><stop offset="0.83" stop-color="#61abfc"/><stop offset="0.92" stop-color="#55a4fb"/><stop offset="1" stop-color="#4a9efb"/></linearGradient>
<linearGradient id="cg60" gradientUnits="userSpaceOnUse" x1="0" y1="318.57" x2="0" y2="351.19"><stop offset="0" stop-color="#c2dffe"/><stop offset="0.08" stop-color="#b7d8fd"/><stop offset="0.17" stop-color="#acd2fd"/><stop offset="0.25" stop-color="#a0ccfd"/><stop offset="0.33" stop-color="#95c6fd"/><stop offset="0.42" stop-color="#89c0fc"/><stop offset="0.5" stop-color="#7ebafc"/><stop offset="0.58" stop-color="#73b4fc"/><stop offset="0.67" stop-color="#67aefc"/><stop offset="0.75" stop-color="#5ca8fb"/><stop offset="0.83" stop-color="#51a2fb"/><stop offset="0.92" stop-color="#459cfb"/><stop offset="1" stop-color="#3a96fb"/></linearGradient>
<linearGradient id="cg61" gradientUnits="userSpaceOnUse" x1="0" y1="324.38" x2="0" y2="353.34"><stop offset="0" stop-color="#abd2fd"/><stop offset="0.08" stop-color="#a1cdfd"/><stop offset="0.17" stop-color="#97c7fd"/><stop offset="0.25" stop-color="#8cc2fd"/><stop offset="0.33" stop-color="#82bcfc"/><stop offset="0.42" stop-color="#78b7fc"/><stop offset="0.5" stop-color="#6eb1fc"/><stop offset="0.58" stop-color="#64acfc"/><stop offset="0.67" stop-color="#5aa7fb"/><stop offset="0.75" stop-color="#50a1fb"/><stop offset="0.83" stop-color="#469cfb"/><stop offset="0.92" stop-color="#3b96fb"/><stop offset="1" stop-color="#3191fb"/></linearGradient>
<linearGradient id="cg62" gradientUnits="userSpaceOnUse" x1="0" y1="325.89" x2="0" y2="353.34"><stop offset="0" stop-color="#a5cffd"/><stop offset="0.08" stop-color="#9bcafd"/><stop offset="0.17" stop-color="#91c4fd"/><stop offset="0.25" stop-color="#88bffc"/><stop offset="0.33" stop-color="#7ebafc"/><stop offset="0.42" stop-color="#75b5fc"/><stop offset="0.5" stop-color="#6bb0fc"/><stop offset="0.58" stop-color="#61abfc"/><stop offset="0.67" stop-color="#58a6fb"/><stop offset="0.75" stop-color="#4ea0fb"/><stop offset="0.83" stop-color="#459bfb"/><stop offset="0.92" stop-color="#3b96fb"/><stop offset="1" stop-color="#3191fb"/></linearGradient>
<linearGradient id="cg63" gradientUnits="userSpaceOnUse" x1="0" y1="331.92" x2="0" y2="353.34"><stop offset="0" stop-color="#8cc2fd"/><stop offset="0.08" stop-color="#85befc"/><stop offset="0.17" stop-color="#7dbafc"/><stop offset="0.25" stop-color="#76b6fc"/><stop offset="0.33" stop-color="#6eb1fc"/><stop offset="0.42" stop-color="#66adfc"/><stop offset="0.5" stop-color="#5fa9fc"/><stop offset="0.58" stop-color="#57a5fb"/><stop offset="0.67" stop-color="#50a1fb"/><stop offset="0.75" stop-color="#489dfb"/><stop offset="0.83" stop-color="#4099fb"/><stop offset="0.92" stop-color="#3995fb"/><stop offset="1" stop-color="#3191fb"/></linearGradient>
<linearGradient id="cg64" gradientUnits="userSpaceOnUse" x1="0" y1="334.08" x2="0" y2="351.62"><stop offset="0" stop-color="#84bdfc"/><stop offset="0.08" stop-color="#7dbafc"/><stop offset="0.17" stop-color="#77b6fc"/><stop offset="0.25" stop-color="#71b3fc"/><stop offset="0.33" stop-color="#6bb0fc"/><stop offset="0.42" stop-color="#64acfc"/><stop offset="0.5" stop-color="#5ea9fc"/><stop offset="0.58" stop-color="#58a6fb"/><stop offset="0.67" stop-color="#51a2fb"/><stop offset="0.75" stop-color="#4b9ffb"/><stop offset="0.83" stop-color="#459bfb"/><stop offset="0.92" stop-color="#3f98fb"/><stop offset="1" stop-color="#3895fb"/></linearGradient>
<linearGradient id="cg65" gradientUnits="userSpaceOnUse" x1="0" y1="347.22" x2="0" y2="351.83"><stop offset="0" stop-color="#4fa1fb"/><stop offset="0.08" stop-color="#4da0fb"/><stop offset="0.17" stop-color="#4b9ffb"/><stop offset="0.25" stop-color="#499efb"/><stop offset="0.33" stop-color="#479dfb"/><stop offset="0.42" stop-color="#459cfb"/><stop offset="0.5" stop-color="#439bfb"/><stop offset="0.58" stop-color="#4199fb"/><stop offset="0.67" stop-color="#3f98fb"/><stop offset="0.75" stop-color="#3d97fb"/><stop offset="0.83" stop-color="#3b96fb"/><stop offset="0.92" stop-color="#3995fb"/><stop offset="1" stop-color="#3794fb"/></linearGradient>
<linearGradient id="sg66" x1="0" y1="0" x2="0" y2="1"><stop offset="0" stop-color="#ffd8c0"/><stop offset="0.44" stop-color="#ffd8c0"/><stop offset="0.5" stop-color="#f24a10"/><stop offset="1" stop-color="#f24a10"/></linearGradient>
<linearGradient id="gb" gradientUnits="userSpaceOnUse" x1="0" y1="470" x2="0" y2="592"><stop offset="0" stop-color="#4b93f6"/><stop offset="0.3" stop-color="#6aa6f7"/><stop offset="0.65" stop-color="#bcd8fb"/><stop offset="1" stop-color="#ffffff"/></linearGradient>
<linearGradient id="gp" gradientUnits="userSpaceOnUse" x1="0" y1="470" x2="0" y2="592"><stop offset="0" stop-color="#ff8599"/><stop offset="0.3" stop-color="#ff9aab"/><stop offset="0.65" stop-color="#ffd3da"/><stop offset="1" stop-color="#ffffff"/></linearGradient>
<linearGradient id="lgb" x1="0" y1="0" x2="0" y2="1"><stop offset="0" stop-color="#4b93f6"/><stop offset="0.5" stop-color="#7db2f8"/><stop offset="1" stop-color="#ffffff"/></linearGradient>
<linearGradient id="lgp" x1="0" y1="0" x2="0" y2="1"><stop offset="0" stop-color="#ff8599"/><stop offset="0.5" stop-color="#ffa9b7"/><stop offset="1" stop-color="#ffffff"/></linearGradient>
<clipPath id="clip67"><rect x="277.8" y="413.5" width="182.5" height="181.8"/></clipPath>
<clipPath id="clip68"><rect x="500.8" y="413.7" width="181.2" height="180"/></clipPath></defs><rect x="47.5" y="30.5" width="187.5" height="150.5" fill="url(#bg1)"/>
<circle cx="56.02" cy="88.44" r="2.75" fill="#ff8686"/>
<circle cx="55.42" cy="87.44" r="0.95" fill="#fff" opacity="0.7"/>
<circle cx="56.02" cy="76.21" r="2.75" fill="#ff5252"/>
<circle cx="55.42" cy="75.21" r="0.95" fill="#fff" opacity="0.7"/>
<circle cx="56.02" cy="71.7" r="2.75" fill="#ff3f3f"/>
<circle cx="55.42" cy="70.7" r="0.95" fill="#fff" opacity="0.7"/>
<circle cx="56.02" cy="58.53" r="2.75" fill="#ff0808"/>
<circle cx="55.42" cy="57.53" r="0.95" fill="#fff" opacity="0.7"/>
<circle cx="56.02" cy="57.59" r="2.75" fill="#ff0808"/>
<circle cx="55.42" cy="56.59" r="0.95" fill="#fff" opacity="0.7"/>
<circle cx="56.02" cy="56.27" r="2.75" fill="#ff0808"/>
<circle cx="55.42" cy="55.27" r="0.95" fill="#fff" opacity="0.7"/>
<circle cx="56.02" cy="54.96" r="2.75" fill="#ff0808"/>
<circle cx="55.42" cy="53.96" r="0.95" fill="#fff" opacity="0.7"/>
<circle cx="56.02" cy="43.29" r="2.75" fill="#c8c8c8"/>
<circle cx="55.42" cy="42.29" r="0.95" fill="#fff" opacity="0.7"/>
<rect x="70.32" y="100.44" width="5.5" height="33.46" rx="2.75" fill="url(#cg2)"/>
<rect x="71.67" y="102.69" width="1.6" height="27.96" rx="0.8" fill="#fff" opacity="0.22"/>
<circle cx="72.47" cy="102.19" r="0.9" fill="#fff" opacity="0.75"/>
<circle cx="73.07" cy="98.6" r="2.75" fill="#ffb1b1"/>
<circle cx="72.47" cy="97.6" r="0.95" fill="#fff" opacity="0.7"/>
<circle cx="73.07" cy="95.78" r="2.75" fill="#ffa5a5"/>
<circle cx="72.47" cy="94.78" r="0.95" fill="#fff" opacity="0.7"/>
<circle cx="73.07" cy="92.96" r="2.75" fill="#ff9999"/>
<circle cx="72.47" cy="91.96" r="0.95" fill="#fff" opacity="0.7"/>
<rect x="87.36" y="131.48" width="5.5" height="28" rx="2.75" fill="url(#cg3)"/>
<rect x="88.71" y="133.73" width="1.6" height="22.5" rx="0.8" fill="#fff" opacity="0.22"/>
<circle cx="89.51" cy="133.23" r="0.9" fill="#fff" opacity="0.75"/>
<circle cx="90.11" cy="129.27" r="2.75" fill="#cbe3fe"/>
<circle cx="89.51" cy="128.27" r="0.95" fill="#fff" opacity="0.7"/>
<rect x="104.41" y="140.32" width="5.5" height="27.63" rx="2.75" fill="url(#cg4)"/>
<rect x="105.76" y="142.57" width="1.6" height="22.13" rx="0.8" fill="#fff" opacity="0.22"/>
<circle cx="106.56" cy="142.07" r="0.9" fill="#fff" opacity="0.75"/>
<rect x="121.45" y="148.22" width="5.5" height="24.24" rx="2.75" fill="url(#cg5)"/>
<rect x="122.8" y="150.47" width="1.6" height="18.74" rx="0.8" fill="#fff" opacity="0.22"/>
<circle cx="123.6" cy="149.97" r="0.9" fill="#fff" opacity="0.75"/>
<rect x="138.5" y="153.3" width="5.5" height="19.91" rx="2.75" fill="url(#cg6)"/>
<rect x="139.85" y="155.55" width="1.6" height="14.41" rx="0.8" fill="#fff" opacity="0.22"/>
<circle cx="140.65" cy="155.05" r="0.9" fill="#fff" opacity="0.75"/>
<rect x="155.55" y="156.12" width="5.5" height="18.6" rx="2.75" fill="url(#cg7)"/>
<rect x="156.9" y="158.37" width="1.6" height="13.1" rx="0.8" fill="#fff" opacity="0.22"/>
<circle cx="157.7" cy="157.87" r="0.9" fill="#fff" opacity="0.75"/>
<rect x="172.59" y="160.83" width="5.5" height="14.08" rx="2.75" fill="url(#cg8)"/>
<rect x="173.94" y="163.08" width="1.6" height="8.58" rx="0.8" fill="#fff" opacity="0.22"/>
<circle cx="174.74" cy="162.58" r="0.9" fill="#fff" opacity="0.75"/>
<rect x="189.64" y="165.53" width="5.5" height="9.57" rx="2.75" fill="url(#cg9)"/>
<rect x="190.99" y="167.78" width="1.6" height="4.07" rx="0.8" fill="#fff" opacity="0.22"/>
<circle cx="191.79" cy="167.28" r="0.9" fill="#fff" opacity="0.75"/>
<rect x="206.68" y="166.66" width="5.5" height="8.44" rx="2.75" fill="url(#cg10)"/>
<rect x="208.03" y="168.91" width="1.6" height="2.94" rx="0.8" fill="#fff" opacity="0.22"/>
<circle cx="208.83" cy="168.41" r="0.9" fill="#fff" opacity="0.75"/>
<circle cx="226.48" cy="171.97" r="2.75" fill="#1984fa"/>
<circle cx="225.88" cy="170.97" r="0.95" fill="#fff" opacity="0.7"/>
<path d="M56.02,95.97 C58.86,101.99 67.39,121.96 73.07,132.09 C78.75,142.21 84.43,151.21 90.11,156.73 C95.8,162.25 101.48,163.03 107.16,165.2 C112.84,167.36 118.52,168.83 124.2,169.71 C129.89,170.59 135.57,170.09 141.25,170.47 C146.93,170.84 152.61,171.69 158.3,171.97 C163.98,172.25 169.66,172.1 175.34,172.16 C181.02,172.22 186.7,172.31 192.39,172.35 C198.07,172.38 203.75,172.41 209.43,172.35 C215.11,172.28 223.64,172.03 226.48,171.97" fill="none" stroke="#ff2020" stroke-width="1.05" stroke-dasharray="1.1 3.4" opacity="0.9"/>
<path d="M56.02,92.32 L56.9,94.55 L59.3,94.7 L57.45,96.23 L58.05,98.56 L56.02,97.27 L53.99,98.56 L54.6,96.23 L52.74,94.7 L55.14,94.55Z" fill="url(#sg11)" stroke="#ff1010" stroke-width="0.7" stroke-linejoin="round"/>
<path d="M73.07,128.44 L73.95,130.67 L76.35,130.82 L74.49,132.35 L75.1,134.68 L73.07,133.39 L71.04,134.68 L71.64,132.35 L69.79,130.82 L72.19,130.67Z" fill="url(#sg11)" stroke="#ff1010" stroke-width="0.7" stroke-linejoin="round"/>
<path d="M90.11,153.08 L91,155.32 L93.39,155.47 L91.54,157 L92.14,159.32 L90.11,158.03 L88.09,159.32 L88.69,157 L86.83,155.47 L89.23,155.32Z" fill="url(#sg11)" stroke="#ff1010" stroke-width="0.7" stroke-linejoin="round"/>
<path d="M107.16,161.55 L108.04,163.78 L110.44,163.93 L108.59,165.46 L109.19,167.79 L107.16,166.5 L105.13,167.79 L105.73,165.46 L103.88,163.93 L106.28,163.78Z" fill="url(#sg11)" stroke="#ff1010" stroke-width="0.7" stroke-linejoin="round"/>
<path d="M124.2,166.06 L125.09,168.3 L127.49,168.45 L125.63,169.98 L126.23,172.3 L124.2,171.01 L122.18,172.3 L122.78,169.98 L120.92,168.45 L123.32,168.3Z" fill="url(#sg11)" stroke="#ff1010" stroke-width="0.7" stroke-linejoin="round"/>
<path d="M141.25,166.82 L142.13,169.05 L144.53,169.2 L142.68,170.73 L143.28,173.06 L141.25,171.77 L139.22,173.06 L139.82,170.73 L137.97,169.2 L140.37,169.05Z" fill="url(#sg11)" stroke="#ff1010" stroke-width="0.7" stroke-linejoin="round"/>
<path d="M158.3,168.32 L159.18,170.56 L161.58,170.7 L159.72,172.23 L160.32,174.56 L158.3,173.27 L156.27,174.56 L156.87,172.23 L155.01,170.7 L157.41,170.56Z" fill="url(#sg11)" stroke="#ff1010" stroke-width="0.7" stroke-linejoin="round"/>
<path d="M175.34,168.51 L176.22,170.74 L178.62,170.89 L176.77,172.42 L177.37,174.75 L175.34,173.46 L173.31,174.75 L173.91,172.42 L172.06,170.89 L174.46,170.74Z" fill="url(#sg11)" stroke="#ff1010" stroke-width="0.7" stroke-linejoin="round"/>
<path d="M192.39,168.7 L193.27,170.93 L195.67,171.08 L193.81,172.61 L194.41,174.94 L192.39,173.65 L190.36,174.94 L190.96,172.61 L189.11,171.08 L191.5,170.93Z" fill="url(#sg11)" stroke="#ff1010" stroke-width="0.7" stroke-linejoin="round"/>
<path d="M209.43,168.7 L210.31,170.93 L212.71,171.08 L210.86,172.61 L211.46,174.94 L209.43,173.65 L207.4,174.94 L208.01,172.61 L206.15,171.08 L208.55,170.93Z" fill="url(#sg11)" stroke="#ff1010" stroke-width="0.7" stroke-linejoin="round"/>
<path d="M226.48,168.32 L227.36,170.56 L229.76,170.7 L227.9,172.23 L228.51,174.56 L226.48,173.27 L224.45,174.56 L225.05,172.23 L223.2,170.7 L225.6,170.56Z" fill="url(#sg11)" stroke="#ff1010" stroke-width="0.7" stroke-linejoin="round"/>
<ellipse cx="141.25" cy="170.77" rx="7.4" ry="6" fill="none" stroke="#ff0a0a" stroke-width="1.3"/>
<rect x="47.5" y="30.5" width="187.5" height="150.5" fill="none" stroke="#141414" stroke-width="1.25"/>
<path d="M56.02,181v-3 M73.07,181v-3 M90.11,181v-3 M107.16,181v-3 M124.2,181v-3 M141.25,181v-3 M158.3,181v-3 M175.34,181v-3 M192.39,181v-3 M209.43,181v-3 M226.48,181v-3 M47.5,181h3 M47.5,171.59h1.6 M47.5,162.19h3 M47.5,152.78h1.6 M47.5,143.38h3 M47.5,133.97h1.6 M47.5,124.56h3 M47.5,115.16h1.6 M47.5,105.75h3 M47.5,96.34h1.6 M47.5,86.94h3 M47.5,77.53h1.6 M47.5,68.12h3 M47.5,58.72h1.6 M47.5,49.31h3 M47.5,39.91h1.6 M47.5,30.5h3" stroke="#141414" stroke-width="1.1" fill="none"/>
<text x="44.1" y="184.04" font-size="9.2" text-anchor="end" font-weight="bold" fill="#000" >70</text>
<text x="44.1" y="165.22" font-size="9.2" text-anchor="end" font-weight="bold" fill="#000" >80</text>
<text x="44.1" y="146.41" font-size="9.2" text-anchor="end" font-weight="bold" fill="#000" >90</text>
<text x="44.1" y="127.6" font-size="9.2" text-anchor="end" font-weight="bold" fill="#000" >100</text>
<text x="44.1" y="108.79" font-size="9.2" text-anchor="end" font-weight="bold" fill="#000" >110</text>
<text x="44.1" y="89.97" font-size="9.2" text-anchor="end" font-weight="bold" fill="#000" >120</text>
<text x="44.1" y="71.16" font-size="9.2" text-anchor="end" font-weight="bold" fill="#000" >130</text>
<text x="44.1" y="52.35" font-size="9.2" text-anchor="end" font-weight="bold" fill="#000" >140</text>
<text x="44.1" y="33.54" font-size="9.2" text-anchor="end" font-weight="bold" fill="#000" >150</text>
<text x="56.02" y="192.4" font-size="9.2" text-anchor="middle" font-weight="bold" fill="#000" >1</text>
<text x="73.07" y="192.4" font-size="9.2" text-anchor="middle" font-weight="bold" fill="#000" >2</text>
<text x="90.11" y="192.4" font-size="9.2" text-anchor="middle" font-weight="bold" fill="#000" >3</text>
<text x="107.16" y="192.4" font-size="9.2" text-anchor="middle" font-weight="bold" fill="#000" >4</text>
<text x="124.2" y="192.4" font-size="9.2" text-anchor="middle" font-weight="bold" fill="#000" >5</text>
<text x="141.25" y="192.4" font-size="9.2" text-anchor="middle" font-weight="bold" fill="#000" >6</text>
<text x="158.3" y="192.4" font-size="9.2" text-anchor="middle" font-weight="bold" fill="#000" >7</text>
<text x="175.34" y="192.4" font-size="9.2" text-anchor="middle" font-weight="bold" fill="#000" >8</text>
<text x="192.39" y="192.4" font-size="9.2" text-anchor="middle" font-weight="bold" fill="#000" >9</text>
<text x="209.43" y="192.4" font-size="9.2" text-anchor="middle" font-weight="bold" fill="#000" >10</text>
<text x="226.48" y="192.4" font-size="9.2" text-anchor="middle" font-weight="bold" fill="#000" >11</text>
<text x="141.25" y="207.8" font-size="13.76" text-anchor="middle" font-weight="bold" fill="#000" >Number of Feature</text>
<text transform="translate(24.6,101.3) rotate(-90)" font-size="14.2" font-weight="bold" text-anchor="middle">10-CVerror(pC N<tspan font-size="8.52" dy="-5.11">-1</tspan><tspan dy="5.11">)</tspan></text>
<text x="130" y="45.2" font-size="14" text-anchor="start" font-weight="bold" fill="#000" >ETR model</text>
<text x="130" y="62.2" font-size="14" text-anchor="start" font-weight="bold" fill="#000" >A and B combine</text>
<rect x="272.2" y="29.8" width="187.1" height="150.8" fill="url(#bg12)"/>
<circle cx="280.7" cy="99.92" r="2.75" fill="#ff9696"/>
<circle cx="280.1" cy="98.92" r="0.95" fill="#fff" opacity="0.7"/>
<circle cx="280.7" cy="94.83" r="2.75" fill="#ff7f7f"/>
<circle cx="280.1" cy="93.83" r="0.95" fill="#fff" opacity="0.7"/>
<circle cx="280.7" cy="85.78" r="2.75" fill="#ff5757"/>
<circle cx="280.1" cy="84.78" r="0.95" fill="#fff" opacity="0.7"/>
<circle cx="280.7" cy="72.02" r="2.75" fill="#ff1b1b"/>
<circle cx="280.1" cy="71.02" r="0.95" fill="#fff" opacity="0.7"/>
<circle cx="280.7" cy="68.44" r="2.75" fill="#ff0c0c"/>
<circle cx="280.1" cy="67.44" r="0.95" fill="#fff" opacity="0.7"/>
<circle cx="280.7" cy="64.67" r="2.75" fill="#ff0808"/>
<circle cx="280.1" cy="63.67" r="0.95" fill="#fff" opacity="0.7"/>
<circle cx="280.7" cy="58.45" r="2.75" fill="#ff0808"/>
<circle cx="280.1" cy="57.45" r="0.95" fill="#fff" opacity="0.7"/>
<circle cx="280.7" cy="56.57" r="2.75" fill="#ff0808"/>
<circle cx="280.1" cy="55.57" r="0.95" fill="#fff" opacity="0.7"/>
<circle cx="280.7" cy="54.87" r="2.75" fill="#ff0808"/>
<circle cx="280.1" cy="53.87" r="0.95" fill="#fff" opacity="0.7"/>
<circle cx="280.7" cy="49.78" r="2.75" fill="#ff0808"/>
<circle cx="280.1" cy="48.78" r="0.95" fill="#fff" opacity="0.7"/>
<rect x="294.96" y="98.94" width="5.5" height="40.12" rx="2.75" fill="url(#cg13)"/>
<rect x="296.31" y="101.19" width="1.6" height="34.62" rx="0.8" fill="#fff" opacity="0.22"/>
<circle cx="297.11" cy="100.69" r="0.9" fill="#fff" opacity="0.75"/>
<circle cx="297.71" cy="97.47" r="2.75" fill="#ff8b8b"/>
<circle cx="297.11" cy="96.47" r="0.95" fill="#fff" opacity="0.7"/>
<circle cx="297.71" cy="90.87" r="2.75" fill="#ff6d6d"/>
<circle cx="297.11" cy="89.87" r="0.95" fill="#fff" opacity="0.7"/>
<rect x="311.97" y="119.3" width="5.5" height="36.53" rx="2.75" fill="url(#cg14)"/>
<rect x="313.32" y="121.55" width="1.6" height="31.03" rx="0.8" fill="#fff" opacity="0.22"/>
<circle cx="314.12" cy="121.05" r="0.9" fill="#fff" opacity="0.75"/>
<circle cx="314.72" cy="117.08" r="2.75" fill="#ffebeb"/>
<circle cx="314.12" cy="116.08" r="0.95" fill="#fff" opacity="0.7"/>
<rect x="328.98" y="128.15" width="5.5" height="33.89" rx="2.75" fill="url(#cg15)"/>
<rect x="330.33" y="130.4" width="1.6" height="28.39" rx="0.8" fill="#fff" opacity="0.22"/>
<circle cx="331.13" cy="129.9" r="0.9" fill="#fff" opacity="0.75"/>
<rect x="345.99" y="135.32" width="5.5" height="29.75" rx="2.75" fill="url(#cg16)"/>
<rect x="347.34" y="137.57" width="1.6" height="24.25" rx="0.8" fill="#fff" opacity="0.22"/>
<circle cx="348.14" cy="137.07" r="0.9" fill="#fff" opacity="0.75"/>
<rect x="363" y="139.28" width="5.5" height="28.62" rx="2.75" fill="url(#cg17)"/>
<rect x="364.35" y="141.53" width="1.6" height="23.12" rx="0.8" fill="#fff" opacity="0.22"/>
<circle cx="365.15" cy="141.03" r="0.9" fill="#fff" opacity="0.75"/>
<rect x="380.01" y="148.14" width="5.5" height="21.08" rx="2.75" fill="url(#cg18)"/>
<rect x="381.36" y="150.39" width="1.6" height="15.58" rx="0.8" fill="#fff" opacity="0.22"/>
<circle cx="382.16" cy="149.89" r="0.9" fill="#fff" opacity="0.75"/>
<circle cx="382.76" cy="146.1" r="2.75" fill="#86befc"/>
<circle cx="382.16" cy="145.1" r="0.95" fill="#fff" opacity="0.7"/>
<rect x="397.02" y="150.96" width="5.5" height="19.57" rx="2.75" fill="url(#cg19)"/>
<rect x="398.37" y="153.21" width="1.6" height="14.07" rx="0.8" fill="#fff" opacity="0.22"/>
<circle cx="399.17" cy="152.71" r="0.9" fill="#fff" opacity="0.75"/>
<rect x="414.03" y="159.07" width="5.5" height="11.65" rx="2.75" fill="url(#cg20)"/>
<rect x="415.38" y="161.32" width="1.6" height="6.15" rx="0.8" fill="#fff" opacity="0.22"/>
<circle cx="416.18" cy="160.82" r="0.9" fill="#fff" opacity="0.75"/>
<circle cx="416.78" cy="156.66" r="2.75" fill="#54a4fb"/>
<circle cx="416.18" cy="155.66" r="0.95" fill="#fff" opacity="0.7"/>
<rect x="431.04" y="162.27" width="5.5" height="9.58" rx="2.75" fill="url(#cg21)"/>
<rect x="432.39" y="164.52" width="1.6" height="4.08" rx="0.8" fill="#fff" opacity="0.22"/>
<circle cx="433.19" cy="164.02" r="0.9" fill="#fff" opacity="0.75"/>
<circle cx="450.8" cy="167.97" r="2.75" fill="#1f87fa"/>
<circle cx="450.2" cy="166.97" r="0.95" fill="#fff" opacity="0.7"/>
<path d="M280.7,107.09 C283.54,112.11 292.04,129.58 297.71,137.25 C303.38,144.91 309.05,149.4 314.72,153.08 C320.39,156.75 326.06,157.76 331.73,159.3 C337.4,160.84 343.07,161.34 348.74,162.32 C354.41,163.29 360.08,164.45 365.75,165.14 C371.42,165.83 377.09,166.02 382.76,166.46 C388.43,166.9 394.1,167.53 399.77,167.78 C405.44,168.03 411.11,167.75 416.78,167.97 C422.45,168.19 428.12,169.1 433.79,169.1 C439.46,169.1 447.96,168.16 450.8,167.97" fill="none" stroke="#ff2020" stroke-width="1.05" stroke-dasharray="1.1 3.4" opacity="0.9"/>
<path d="M280.7,103.44 L281.59,105.67 L283.99,105.82 L282.13,107.35 L282.73,109.68 L280.7,108.39 L278.68,109.68 L279.28,107.35 L277.42,105.82 L279.82,105.67Z" fill="url(#sg22)" stroke="#ff1010" stroke-width="0.7" stroke-linejoin="round"/>
<path d="M297.71,133.6 L298.6,135.83 L300.99,135.98 L299.14,137.51 L299.74,139.84 L297.71,138.55 L295.69,139.84 L296.29,137.51 L294.43,135.98 L296.83,135.83Z" fill="url(#sg22)" stroke="#ff1010" stroke-width="0.7" stroke-linejoin="round"/>
<path d="M314.72,149.43 L315.6,151.67 L318,151.81 L316.15,153.34 L316.75,155.67 L314.72,154.38 L312.69,155.67 L313.3,153.34 L311.44,151.81 L313.84,151.67Z" fill="url(#sg22)" stroke="#ff1010" stroke-width="0.7" stroke-linejoin="round"/>
<path d="M331.73,155.65 L332.61,157.89 L335.01,158.03 L333.16,159.56 L333.76,161.89 L331.73,160.6 L329.7,161.89 L330.31,159.56 L328.45,158.03 L330.85,157.89Z" fill="url(#sg22)" stroke="#ff1010" stroke-width="0.7" stroke-linejoin="round"/>
<path d="M348.74,158.67 L349.62,160.9 L352.02,161.05 L350.17,162.58 L350.77,164.91 L348.74,163.62 L346.71,164.91 L347.31,162.58 L345.46,161.05 L347.86,160.9Z" fill="url(#sg22)" stroke="#ff1010" stroke-width="0.7" stroke-linejoin="round"/>
<path d="M365.75,161.49 L366.63,163.73 L369.03,163.88 L367.18,165.41 L367.78,167.73 L365.75,166.44 L363.72,167.73 L364.32,165.41 L362.47,163.88 L364.87,163.73Z" fill="url(#sg22)" stroke="#ff1010" stroke-width="0.7" stroke-linejoin="round"/>
<path d="M382.76,162.81 L383.64,165.05 L386.04,165.2 L384.19,166.73 L384.79,169.05 L382.76,167.76 L380.73,169.05 L381.33,166.73 L379.48,165.2 L381.88,165.05Z" fill="url(#sg22)" stroke="#ff1010" stroke-width="0.7" stroke-linejoin="round"/>
<path d="M399.77,164.13 L400.65,166.37 L403.05,166.52 L401.19,168.05 L401.8,170.37 L399.77,169.08 L397.74,170.37 L398.34,168.05 L396.49,166.52 L398.89,166.37Z" fill="url(#sg22)" stroke="#ff1010" stroke-width="0.7" stroke-linejoin="round"/>
<path d="M416.78,164.32 L417.66,166.56 L420.06,166.7 L418.2,168.23 L418.81,170.56 L416.78,169.27 L414.75,170.56 L415.35,168.23 L413.5,166.7 L415.9,166.56Z" fill="url(#sg22)" stroke="#ff1010" stroke-width="0.7" stroke-linejoin="round"/>
<path d="M433.79,165.45 L434.67,167.69 L437.07,167.84 L435.21,169.37 L435.81,171.69 L433.79,170.4 L431.76,171.69 L432.36,169.37 L430.51,167.84 L432.9,167.69Z" fill="url(#sg22)" stroke="#ff1010" stroke-width="0.7" stroke-linejoin="round"/>
<path d="M450.8,164.32 L451.68,166.56 L454.08,166.7 L452.22,168.23 L452.82,170.56 L450.8,169.27 L448.77,170.56 L449.37,168.23 L447.51,166.7 L449.91,166.56Z" fill="url(#sg22)" stroke="#ff1010" stroke-width="0.7" stroke-linejoin="round"/>
<ellipse cx="365.75" cy="165.44" rx="7.4" ry="6" fill="none" stroke="#ff0a0a" stroke-width="1.3"/>
<rect x="272.2" y="29.8" width="187.1" height="150.8" fill="none" stroke="#141414" stroke-width="1.25"/>
<path d="M280.7,180.6v-3 M297.71,180.6v-3 M314.72,180.6v-3 M331.73,180.6v-3 M348.74,180.6v-3 M365.75,180.6v-3 M382.76,180.6v-3 M399.77,180.6v-3 M416.78,180.6v-3 M433.79,180.6v-3 M450.8,180.6v-3 M272.2,180.6h3 M272.2,171.17h1.6 M272.2,161.75h3 M272.2,152.32h1.6 M272.2,142.9h3 M272.2,133.47h1.6 M272.2,124.05h3 M272.2,114.62h1.6 M272.2,105.2h3 M272.2,95.78h1.6 M272.2,86.35h3 M272.2,76.93h1.6 M272.2,67.5h3 M272.2,58.08h1.6 M272.2,48.65h3 M272.2,39.23h1.6 M272.2,29.8h3" stroke="#141414" stroke-width="1.1" fill="none"/>
<text x="268.8" y="183.37" font-size="8.4" text-anchor="end" font-weight="bold" fill="#000" >70</text>
<text x="268.8" y="164.52" font-size="8.4" text-anchor="end" font-weight="bold" fill="#000" >80</text>
<text x="268.8" y="145.67" font-size="8.4" text-anchor="end" font-weight="bold" fill="#000" >90</text>
<text x="268.8" y="126.82" font-size="8.4" text-anchor="end" font-weight="bold" fill="#000" >100</text>
<text x="268.8" y="107.97" font-size="8.4" text-anchor="end" font-weight="bold" fill="#000" >110</text>
<text x="268.8" y="89.12" font-size="8.4" text-anchor="end" font-weight="bold" fill="#000" >120</text>
<text x="268.8" y="70.27" font-size="8.4" text-anchor="end" font-weight="bold" fill="#000" >130</text>
<text x="268.8" y="51.42" font-size="8.4" text-anchor="end" font-weight="bold" fill="#000" >140</text>
<text x="268.8" y="32.57" font-size="8.4" text-anchor="end" font-weight="bold" fill="#000" >150</text>
<text x="280.7" y="191.1" font-size="8.4" text-anchor="middle" font-weight="bold" fill="#000" >1</text>
<text x="297.71" y="191.1" font-size="8.4" text-anchor="middle" font-weight="bold" fill="#000" >2</text>
<text x="314.72" y="191.1" font-size="8.4" text-anchor="middle" font-weight="bold" fill="#000" >3</text>
<text x="331.73" y="191.1" font-size="8.4" text-anchor="middle" font-weight="bold" fill="#000" >4</text>
<text x="348.74" y="191.1" font-size="8.4" text-anchor="middle" font-weight="bold" fill="#000" >5</text>
<text x="365.75" y="191.1" font-size="8.4" text-anchor="middle" font-weight="bold" fill="#000" >6</text>
<text x="382.76" y="191.1" font-size="8.4" text-anchor="middle" font-weight="bold" fill="#000" >7</text>
<text x="399.77" y="191.1" font-size="8.4" text-anchor="middle" font-weight="bold" fill="#000" >8</text>
<text x="416.78" y="191.1" font-size="8.4" text-anchor="middle" font-weight="bold" fill="#000" >9</text>
<text x="433.79" y="191.1" font-size="8.4" text-anchor="middle" font-weight="bold" fill="#000" >10</text>
<text x="450.8" y="191.1" font-size="8.4" text-anchor="middle" font-weight="bold" fill="#000" >11</text>
<text x="365.75" y="205.1" font-size="12.77" text-anchor="middle" font-weight="bold" fill="#000" >Number of Feature</text>
<text transform="translate(252.3,98.5) rotate(-90)" font-size="13.6" font-weight="bold" text-anchor="middle">10-CVerror(pC N<tspan font-size="8.16" dy="-4.9">-1</tspan><tspan dy="4.9">)</tspan></text>
<text x="364.6" y="43.9" font-size="12.72" text-anchor="start" font-weight="bold" fill="#000" >RFR model</text>
<text x="364.6" y="59.4" font-size="12.72" text-anchor="start" font-weight="bold" fill="#000" >A and B combine</text>
<rect x="496" y="31" width="187.5" height="150.7" fill="url(#bg23)"/>
<circle cx="504.52" cy="111.62" r="2.75" fill="#fff4f4"/>
<circle cx="503.92" cy="110.62" r="0.95" fill="#fff" opacity="0.7"/>
<circle cx="504.52" cy="102.96" r="2.75" fill="#ffcccc"/>
<circle cx="503.92" cy="101.96" r="0.95" fill="#fff" opacity="0.7"/>
<circle cx="504.52" cy="99.76" r="2.75" fill="#ffbdbd"/>
<circle cx="503.92" cy="98.76" r="0.95" fill="#fff" opacity="0.7"/>
<circle cx="504.52" cy="97.12" r="2.75" fill="#ffb0b0"/>
<circle cx="503.92" cy="96.12" r="0.95" fill="#fff" opacity="0.7"/>
<circle cx="504.52" cy="88.83" r="2.75" fill="#ff8a8a"/>
<circle cx="503.92" cy="87.83" r="0.95" fill="#fff" opacity="0.7"/>
<circle cx="504.52" cy="87.14" r="2.75" fill="#ff8282"/>
<circle cx="503.92" cy="86.14" r="0.95" fill="#fff" opacity="0.7"/>
<circle cx="504.52" cy="85.63" r="2.75" fill="#ff7b7b"/>
<circle cx="503.92" cy="84.63" r="0.95" fill="#fff" opacity="0.7"/>
<rect x="518.82" y="100.47" width="5.5" height="41.41" rx="2.75" fill="url(#cg24)"/>
<rect x="520.17" y="102.72" width="1.6" height="35.91" rx="0.8" fill="#fff" opacity="0.22"/>
<circle cx="520.97" cy="102.22" r="0.9" fill="#fff" opacity="0.75"/>
<rect x="535.86" y="110.07" width="5.5" height="38.58" rx="2.75" fill="url(#cg25)"/>
<rect x="537.21" y="112.32" width="1.6" height="33.08" rx="0.8" fill="#fff" opacity="0.22"/>
<circle cx="538.01" cy="111.82" r="0.9" fill="#fff" opacity="0.75"/>
<rect x="552.91" y="119.68" width="5.5" height="36.32" rx="2.75" fill="url(#cg26)"/>
<rect x="554.26" y="121.93" width="1.6" height="30.82" rx="0.8" fill="#fff" opacity="0.22"/>
<circle cx="555.06" cy="121.43" r="0.9" fill="#fff" opacity="0.75"/>
<rect x="569.95" y="125.14" width="5.5" height="33.5" rx="2.75" fill="url(#cg27)"/>
<rect x="571.3" y="127.39" width="1.6" height="28" rx="0.8" fill="#fff" opacity="0.22"/>
<circle cx="572.1" cy="126.89" r="0.9" fill="#fff" opacity="0.75"/>
<rect x="587" y="130.98" width="5.5" height="29.54" rx="2.75" fill="url(#cg28)"/>
<rect x="588.35" y="133.23" width="1.6" height="24.04" rx="0.8" fill="#fff" opacity="0.22"/>
<circle cx="589.15" cy="132.73" r="0.9" fill="#fff" opacity="0.75"/>
<rect x="604.05" y="135.32" width="5.5" height="26.91" rx="2.75" fill="url(#cg29)"/>
<rect x="605.4" y="137.57" width="1.6" height="21.41" rx="0.8" fill="#fff" opacity="0.22"/>
<circle cx="606.2" cy="137.07" r="0.9" fill="#fff" opacity="0.75"/>
<rect x="621.09" y="143.98" width="5.5" height="18.8" rx="2.75" fill="url(#cg30)"/>
<rect x="622.44" y="146.23" width="1.6" height="13.3" rx="0.8" fill="#fff" opacity="0.22"/>
<circle cx="623.24" cy="145.73" r="0.9" fill="#fff" opacity="0.75"/>
<circle cx="623.84" cy="141.95" r="2.75" fill="#8dc2fd"/>
<circle cx="623.24" cy="140.95" r="0.95" fill="#fff" opacity="0.7"/>
<rect x="638.14" y="147" width="5.5" height="16.73" rx="2.75" fill="url(#cg31)"/>
<rect x="639.49" y="149.25" width="1.6" height="11.23" rx="0.8" fill="#fff" opacity="0.22"/>
<circle cx="640.29" cy="148.75" r="0.9" fill="#fff" opacity="0.75"/>
<rect x="655.18" y="153.4" width="5.5" height="9.39" rx="2.75" fill="url(#cg32)"/>
<rect x="656.53" y="155.65" width="1.6" height="3.89" rx="0.8" fill="#fff" opacity="0.22"/>
<circle cx="657.33" cy="155.15" r="0.9" fill="#fff" opacity="0.75"/>
<circle cx="674.98" cy="160.98" r="2.75" fill="#3f98fb"/>
<circle cx="674.38" cy="159.98" r="0.95" fill="#fff" opacity="0.7"/>
<path d="M504.52,116.52 C507.36,120.29 515.89,134.23 521.57,139.13 C527.25,144.03 532.93,143.55 538.61,145.91 C544.3,148.26 549.98,151.59 555.66,153.26 C561.34,154.92 567.02,155.14 572.7,155.89 C578.39,156.65 584.07,157.18 589.75,157.78 C595.43,158.37 601.11,159.09 606.8,159.47 C612.48,159.85 618.16,159.79 623.84,160.04 C629.52,160.29 635.2,160.98 640.89,160.98 C646.57,160.98 652.25,160.04 657.93,160.04 C663.61,160.04 672.14,160.82 674.98,160.98" fill="none" stroke="#ff2020" stroke-width="1.05" stroke-dasharray="1.1 3.4" opacity="0.9"/>
<path d="M504.52,112.87 L505.4,115.11 L507.8,115.26 L505.95,116.79 L506.55,119.11 L504.52,117.82 L502.49,119.11 L503.1,116.79 L501.24,115.26 L503.64,115.11Z" fill="url(#sg33)" stroke="#ff1010" stroke-width="0.7" stroke-linejoin="round"/>
<path d="M521.57,135.48 L522.45,137.71 L524.85,137.86 L522.99,139.39 L523.6,141.72 L521.57,140.43 L519.54,141.72 L520.14,139.39 L518.29,137.86 L520.69,137.71Z" fill="url(#sg33)" stroke="#ff1010" stroke-width="0.7" stroke-linejoin="round"/>
<path d="M538.61,142.26 L539.5,144.5 L541.89,144.64 L540.04,146.17 L540.64,148.5 L538.61,147.21 L536.59,148.5 L537.19,146.17 L535.33,144.64 L537.73,144.5Z" fill="url(#sg33)" stroke="#ff1010" stroke-width="0.7" stroke-linejoin="round"/>
<path d="M555.66,149.61 L556.54,151.84 L558.94,151.99 L557.09,153.52 L557.69,155.85 L555.66,154.56 L553.63,155.85 L554.23,153.52 L552.38,151.99 L554.78,151.84Z" fill="url(#sg33)" stroke="#ff1010" stroke-width="0.7" stroke-linejoin="round"/>
<path d="M572.7,152.24 L573.59,154.48 L575.99,154.63 L574.13,156.16 L574.73,158.48 L572.7,157.19 L570.68,158.48 L571.28,156.16 L569.42,154.63 L571.82,154.48Z" fill="url(#sg33)" stroke="#ff1010" stroke-width="0.7" stroke-linejoin="round"/>
<path d="M589.75,154.13 L590.63,156.36 L593.03,156.51 L591.18,158.04 L591.78,160.37 L589.75,159.08 L587.72,160.37 L588.32,158.04 L586.47,156.51 L588.87,156.36Z" fill="url(#sg33)" stroke="#ff1010" stroke-width="0.7" stroke-linejoin="round"/>
<path d="M606.8,155.82 L607.68,158.06 L610.08,158.21 L608.22,159.74 L608.82,162.06 L606.8,160.77 L604.77,162.06 L605.37,159.74 L603.51,158.21 L605.91,158.06Z" fill="url(#sg33)" stroke="#ff1010" stroke-width="0.7" stroke-linejoin="round"/>
<path d="M623.84,156.39 L624.72,158.62 L627.12,158.77 L625.27,160.3 L625.87,162.63 L623.84,161.34 L621.81,162.63 L622.41,160.3 L620.56,158.77 L622.96,158.62Z" fill="url(#sg33)" stroke="#ff1010" stroke-width="0.7" stroke-linejoin="round"/>
<path d="M640.89,157.33 L641.77,159.57 L644.17,159.71 L642.31,161.24 L642.91,163.57 L640.89,162.28 L638.86,163.57 L639.46,161.24 L637.61,159.71 L640,159.57Z" fill="url(#sg33)" stroke="#ff1010" stroke-width="0.7" stroke-linejoin="round"/>
<path d="M657.93,156.39 L658.81,158.62 L661.21,158.77 L659.36,160.3 L659.96,162.63 L657.93,161.34 L655.9,162.63 L656.51,160.3 L654.65,158.77 L657.05,158.62Z" fill="url(#sg33)" stroke="#ff1010" stroke-width="0.7" stroke-linejoin="round"/>
<path d="M674.98,157.33 L675.86,159.57 L678.26,159.71 L676.4,161.24 L677.01,163.57 L674.98,162.28 L672.95,163.57 L673.55,161.24 L671.7,159.71 L674.1,159.57Z" fill="url(#sg33)" stroke="#ff1010" stroke-width="0.7" stroke-linejoin="round"/>
<ellipse cx="606.8" cy="159.77" rx="7.8" ry="5.8" fill="none" stroke="#ff0a0a" stroke-width="1.3"/>
<rect x="496" y="31" width="187.5" height="150.7" fill="none" stroke="#141414" stroke-width="1.25"/>
<path d="M504.52,181.7v-3 M521.57,181.7v-3 M538.61,181.7v-3 M555.66,181.7v-3 M572.7,181.7v-3 M589.75,181.7v-3 M606.8,181.7v-3 M623.84,181.7v-3 M640.89,181.7v-3 M657.93,181.7v-3 M674.98,181.7v-3 M496,181.7h3 M496,172.28h1.6 M496,162.86h3 M496,153.44h1.6 M496,144.02h3 M496,134.61h1.6 M496,125.19h3 M496,115.77h1.6 M496,106.35h3 M496,96.93h1.6 M496,87.51h3 M496,78.09h1.6 M496,68.67h3 M496,59.26h1.6 M496,49.84h3 M496,40.42h1.6 M496,31h3" stroke="#141414" stroke-width="1.1" fill="none"/>
<text x="492.6" y="184.74" font-size="9.2" text-anchor="end" font-weight="bold" fill="#000" >70</text>
<text x="492.6" y="165.9" font-size="9.2" text-anchor="end" font-weight="bold" fill="#000" >80</text>
<text x="492.6" y="147.06" font-size="9.2" text-anchor="end" font-weight="bold" fill="#000" >90</text>
<text x="492.6" y="128.22" font-size="9.2" text-anchor="end" font-weight="bold" fill="#000" >100</text>
<text x="492.6" y="109.39" font-size="9.2" text-anchor="end" font-weight="bold" fill="#000" >110</text>
<text x="492.6" y="90.55" font-size="9.2" text-anchor="end" font-weight="bold" fill="#000" >120</text>
<text x="492.6" y="71.71" font-size="9.2" text-anchor="end" font-weight="bold" fill="#000" >130</text>
<text x="492.6" y="52.87" font-size="9.2" text-anchor="end" font-weight="bold" fill="#000" >140</text>
<text x="492.6" y="34.04" font-size="9.2" text-anchor="end" font-weight="bold" fill="#000" >150</text>
<text x="504.52" y="193.1" font-size="9.2" text-anchor="middle" font-weight="bold" fill="#000" >1</text>
<text x="521.57" y="193.1" font-size="9.2" text-anchor="middle" font-weight="bold" fill="#000" >2</text>
<text x="538.61" y="193.1" font-size="9.2" text-anchor="middle" font-weight="bold" fill="#000" >3</text>
<text x="555.66" y="193.1" font-size="9.2" text-anchor="middle" font-weight="bold" fill="#000" >4</text>
<text x="572.7" y="193.1" font-size="9.2" text-anchor="middle" font-weight="bold" fill="#000" >5</text>
<text x="589.75" y="193.1" font-size="9.2" text-anchor="middle" font-weight="bold" fill="#000" >6</text>
<text x="606.8" y="193.1" font-size="9.2" text-anchor="middle" font-weight="bold" fill="#000" >7</text>
<text x="623.84" y="193.1" font-size="9.2" text-anchor="middle" font-weight="bold" fill="#000" >8</text>
<text x="640.89" y="193.1" font-size="9.2" text-anchor="middle" font-weight="bold" fill="#000" >9</text>
<text x="657.93" y="193.1" font-size="9.2" text-anchor="middle" font-weight="bold" fill="#000" >10</text>
<text x="674.98" y="193.1" font-size="9.2" text-anchor="middle" font-weight="bold" fill="#000" >11</text>
<text x="589.75" y="208.4" font-size="13.9" text-anchor="middle" font-weight="bold" fill="#000" >Number of Feature</text>
<text transform="translate(475.6,101.9) rotate(-90)" font-size="14.1" font-weight="bold" text-anchor="middle">10-CVerror(pC N<tspan font-size="8.46" dy="-5.08">-1</tspan><tspan dy="5.08">)</tspan></text>
<text x="578.7" y="46.3" font-size="14.05" text-anchor="start" font-weight="bold" fill="#000" >GBR model</text>
<text x="578.7" y="63" font-size="14.05" text-anchor="start" font-weight="bold" fill="#000" >A and B combine</text>
<rect x="47.5" y="221.3" width="188" height="151" fill="url(#bg34)"/>
<circle cx="56.05" cy="279.76" r="2.75" fill="#ff8b8b"/>
<circle cx="55.45" cy="278.76" r="0.95" fill="#fff" opacity="0.7"/>
<circle cx="56.05" cy="276.52" r="2.75" fill="#ff7979"/>
<circle cx="55.45" cy="275.52" r="0.95" fill="#fff" opacity="0.7"/>
<circle cx="56.05" cy="273.5" r="2.75" fill="#ff6868"/>
<circle cx="55.45" cy="272.5" r="0.95" fill="#fff" opacity="0.7"/>
<circle cx="56.05" cy="267.68" r="2.75" fill="#ff4949"/>
<circle cx="55.45" cy="266.68" r="0.95" fill="#fff" opacity="0.7"/>
<circle cx="56.05" cy="262.29" r="2.75" fill="#ff2b2b"/>
<circle cx="55.45" cy="261.29" r="0.95" fill="#fff" opacity="0.7"/>
<circle cx="56.05" cy="259.27" r="2.75" fill="#ff1b1b"/>
<circle cx="55.45" cy="258.27" r="0.95" fill="#fff" opacity="0.7"/>
<circle cx="56.05" cy="255.38" r="2.75" fill="#ff0808"/>
<circle cx="55.45" cy="254.38" r="0.95" fill="#fff" opacity="0.7"/>
<circle cx="56.05" cy="247.4" r="2.75" fill="#ff0808"/>
<circle cx="55.45" cy="246.4" r="0.95" fill="#fff" opacity="0.7"/>
<circle cx="56.05" cy="232.3" r="2.75" fill="#c8c8c8"/>
<circle cx="55.45" cy="231.3" r="0.95" fill="#fff" opacity="0.7"/>
<rect x="70.39" y="273.25" width="5.5" height="55.42" rx="2.75" fill="url(#cg35)"/>
<rect x="71.74" y="275.5" width="1.6" height="49.92" rx="0.8" fill="#fff" opacity="0.22"/>
<circle cx="72.54" cy="275" r="0.9" fill="#fff" opacity="0.75"/>
<circle cx="73.14" cy="268.97" r="2.75" fill="#ff5050"/>
<circle cx="72.54" cy="267.97" r="0.95" fill="#fff" opacity="0.7"/>
<rect x="87.48" y="287.05" width="5.5" height="59.52" rx="2.75" fill="url(#cg36)"/>
<rect x="88.83" y="289.3" width="1.6" height="54.02" rx="0.8" fill="#fff" opacity="0.22"/>
<circle cx="89.63" cy="288.8" r="0.9" fill="#fff" opacity="0.75"/>
<rect x="104.57" y="302.37" width="5.5" height="54.56" rx="2.75" fill="url(#cg37)"/>
<rect x="105.92" y="304.62" width="1.6" height="49.06" rx="0.8" fill="#fff" opacity="0.22"/>
<circle cx="106.72" cy="304.12" r="0.9" fill="#fff" opacity="0.75"/>
<rect x="121.66" y="327.18" width="5.5" height="34.07" rx="2.75" fill="url(#cg38)"/>
<rect x="123.01" y="329.43" width="1.6" height="28.57" rx="0.8" fill="#fff" opacity="0.22"/>
<circle cx="123.81" cy="328.93" r="0.9" fill="#fff" opacity="0.75"/>
<circle cx="124.41" cy="317.29" r="2.75" fill="#bcdbfe"/>
<circle cx="123.81" cy="316.29" r="0.95" fill="#fff" opacity="0.7"/>
<rect x="138.75" y="332.57" width="5.5" height="32.77" rx="2.75" fill="url(#cg39)"/>
<rect x="140.1" y="334.82" width="1.6" height="27.27" rx="0.8" fill="#fff" opacity="0.22"/>
<circle cx="140.9" cy="334.32" r="0.9" fill="#fff" opacity="0.75"/>
<rect x="155.84" y="333.43" width="5.5" height="32.99" rx="2.75" fill="url(#cg40)"/>
<rect x="157.19" y="335.68" width="1.6" height="27.49" rx="0.8" fill="#fff" opacity="0.22"/>
<circle cx="157.99" cy="335.18" r="0.9" fill="#fff" opacity="0.75"/>
<rect x="172.93" y="342.28" width="5.5" height="24.79" rx="2.75" fill="url(#cg41)"/>
<rect x="174.28" y="344.53" width="1.6" height="19.29" rx="0.8" fill="#fff" opacity="0.22"/>
<circle cx="175.08" cy="344.03" r="0.9" fill="#fff" opacity="0.75"/>
<rect x="190.02" y="348.53" width="5.5" height="18.54" rx="2.75" fill="url(#cg42)"/>
<rect x="191.37" y="350.78" width="1.6" height="13.04" rx="0.8" fill="#fff" opacity="0.22"/>
<circle cx="192.17" cy="350.28" r="0.9" fill="#fff" opacity="0.75"/>
<rect x="207.11" y="355.65" width="5.5" height="9.69" rx="2.75" fill="url(#cg43)"/>
<rect x="208.46" y="357.9" width="1.6" height="4.19" rx="0.8" fill="#fff" opacity="0.22"/>
<circle cx="209.26" cy="357.4" r="0.9" fill="#fff" opacity="0.75"/>
<circle cx="226.95" cy="361.3" r="2.75" fill="#0f7dfc"/>
<circle cx="226.35" cy="360.3" r="0.95" fill="#fff" opacity="0.7"/>
<path d="M56.05,282.78 C58.89,289.83 67.44,315.14 73.14,325.06 C78.83,334.98 84.53,337.46 90.23,342.32 C95.92,347.17 101.62,351.48 107.32,354.18 C113.02,356.88 118.71,357.09 124.41,358.49 C130.11,359.9 135.8,361.73 141.5,362.59 C147.2,363.46 152.89,363.38 158.59,363.67 C164.29,363.96 169.98,364.21 175.68,364.32 C181.38,364.43 187.08,364.61 192.77,364.32 C198.47,364.03 204.17,363.1 209.86,362.59 C215.56,362.09 224.11,361.51 226.95,361.3" fill="none" stroke="#ff2020" stroke-width="1.05" stroke-dasharray="1.1 3.4" opacity="0.9"/>
<path d="M56.05,279.13 L56.93,281.37 L59.33,281.51 L57.47,283.04 L58.07,285.37 L56.05,284.08 L54.02,285.37 L54.62,283.04 L52.76,281.51 L55.16,281.37Z" fill="url(#sg44)" stroke="#ff1010" stroke-width="0.7" stroke-linejoin="round"/>
<path d="M73.14,321.41 L74.02,323.65 L76.42,323.79 L74.56,325.32 L75.16,327.65 L73.14,326.36 L71.11,327.65 L71.71,325.32 L69.86,323.79 L72.25,323.65Z" fill="url(#sg44)" stroke="#ff1010" stroke-width="0.7" stroke-linejoin="round"/>
<path d="M90.23,338.67 L91.11,340.9 L93.51,341.05 L91.65,342.58 L92.26,344.91 L90.23,343.62 L88.2,344.91 L88.8,342.58 L86.95,341.05 L89.35,340.9Z" fill="url(#sg44)" stroke="#ff1010" stroke-width="0.7" stroke-linejoin="round"/>
<path d="M107.32,350.53 L108.2,352.77 L110.6,352.91 L108.74,354.44 L109.35,356.77 L107.32,355.48 L105.29,356.77 L105.89,354.44 L104.04,352.91 L106.44,352.77Z" fill="url(#sg44)" stroke="#ff1010" stroke-width="0.7" stroke-linejoin="round"/>
<path d="M124.41,354.84 L125.29,357.08 L127.69,357.23 L125.84,358.76 L126.44,361.09 L124.41,359.79 L122.38,361.09 L122.98,358.76 L121.13,357.23 L123.53,357.08Z" fill="url(#sg44)" stroke="#ff1010" stroke-width="0.7" stroke-linejoin="round"/>
<path d="M141.5,358.94 L142.38,361.18 L144.78,361.33 L142.93,362.86 L143.53,365.18 L141.5,363.89 L139.47,365.18 L140.07,362.86 L138.22,361.33 L140.62,361.18Z" fill="url(#sg44)" stroke="#ff1010" stroke-width="0.7" stroke-linejoin="round"/>
<path d="M158.59,360.02 L159.47,362.26 L161.87,362.41 L160.02,363.93 L160.62,366.26 L158.59,364.97 L156.56,366.26 L157.16,363.93 L155.31,362.41 L157.71,362.26Z" fill="url(#sg44)" stroke="#ff1010" stroke-width="0.7" stroke-linejoin="round"/>
<path d="M175.68,360.67 L176.56,362.91 L178.96,363.05 L177.11,364.58 L177.71,366.91 L175.68,365.62 L173.65,366.91 L174.26,364.58 L172.4,363.05 L174.8,362.91Z" fill="url(#sg44)" stroke="#ff1010" stroke-width="0.7" stroke-linejoin="round"/>
<path d="M192.77,360.67 L193.65,362.91 L196.05,363.05 L194.2,364.58 L194.8,366.91 L192.77,365.62 L190.74,366.91 L191.35,364.58 L189.49,363.05 L191.89,362.91Z" fill="url(#sg44)" stroke="#ff1010" stroke-width="0.7" stroke-linejoin="round"/>
<path d="M209.86,358.94 L210.75,361.18 L213.14,361.33 L211.29,362.86 L211.89,365.18 L209.86,363.89 L207.84,365.18 L208.44,362.86 L206.58,361.33 L208.98,361.18Z" fill="url(#sg44)" stroke="#ff1010" stroke-width="0.7" stroke-linejoin="round"/>
<path d="M226.95,357.65 L227.84,359.89 L230.24,360.03 L228.38,361.56 L228.98,363.89 L226.95,362.6 L224.93,363.89 L225.53,361.56 L223.67,360.03 L226.07,359.89Z" fill="url(#sg44)" stroke="#ff1010" stroke-width="0.7" stroke-linejoin="round"/>
<ellipse cx="158.59" cy="363.97" rx="7.3" ry="5.7" fill="none" stroke="#ff0a0a" stroke-width="1.3"/>
<rect x="47.5" y="221.3" width="188" height="151" fill="none" stroke="#141414" stroke-width="1.25"/>
<path d="M56.05,372.3v-3 M73.14,372.3v-3 M90.23,372.3v-3 M107.32,372.3v-3 M124.41,372.3v-3 M141.5,372.3v-3 M158.59,372.3v-3 M175.68,372.3v-3 M192.77,372.3v-3 M209.86,372.3v-3 M226.95,372.3v-3 M47.5,372.3h3 M47.5,361.51h1.6 M47.5,350.73h3 M47.5,339.94h1.6 M47.5,329.16h3 M47.5,318.37h1.6 M47.5,307.59h3 M47.5,296.8h1.6 M47.5,286.01h3 M47.5,275.23h1.6 M47.5,264.44h3 M47.5,253.66h1.6 M47.5,242.87h3 M47.5,232.09h1.6 M47.5,221.3h3" stroke="#141414" stroke-width="1.1" fill="none"/>
<text x="44.1" y="375.11" font-size="8.5" text-anchor="end" font-weight="bold" fill="#000" >70</text>
<text x="44.1" y="353.53" font-size="8.5" text-anchor="end" font-weight="bold" fill="#000" >80</text>
<text x="44.1" y="331.96" font-size="8.5" text-anchor="end" font-weight="bold" fill="#000" >90</text>
<text x="44.1" y="310.39" font-size="8.5" text-anchor="end" font-weight="bold" fill="#000" >100</text>
<text x="44.1" y="288.82" font-size="8.5" text-anchor="end" font-weight="bold" fill="#000" >110</text>
<text x="44.1" y="267.25" font-size="8.5" text-anchor="end" font-weight="bold" fill="#000" >120</text>
<text x="44.1" y="245.68" font-size="8.5" text-anchor="end" font-weight="bold" fill="#000" >130</text>
<text x="44.1" y="224.11" font-size="8.5" text-anchor="end" font-weight="bold" fill="#000" >140</text>
<text x="56.05" y="382.3" font-size="8.5" text-anchor="middle" font-weight="bold" fill="#000" >1</text>
<text x="73.14" y="382.3" font-size="8.5" text-anchor="middle" font-weight="bold" fill="#000" >2</text>
<text x="90.23" y="382.3" font-size="8.5" text-anchor="middle" font-weight="bold" fill="#000" >3</text>
<text x="107.32" y="382.3" font-size="8.5" text-anchor="middle" font-weight="bold" fill="#000" >4</text>
<text x="124.41" y="382.3" font-size="8.5" text-anchor="middle" font-weight="bold" fill="#000" >5</text>
<text x="141.5" y="382.3" font-size="8.5" text-anchor="middle" font-weight="bold" fill="#000" >6</text>
<text x="158.59" y="382.3" font-size="8.5" text-anchor="middle" font-weight="bold" fill="#000" >7</text>
<text x="175.68" y="382.3" font-size="8.5" text-anchor="middle" font-weight="bold" fill="#000" >8</text>
<text x="192.77" y="382.3" font-size="8.5" text-anchor="middle" font-weight="bold" fill="#000" >9</text>
<text x="209.86" y="382.3" font-size="8.5" text-anchor="middle" font-weight="bold" fill="#000" >10</text>
<text x="226.95" y="382.3" font-size="8.5" text-anchor="middle" font-weight="bold" fill="#000" >11</text>
<text x="141.5" y="394.9" font-size="12.9" text-anchor="middle" font-weight="bold" fill="#000" >Number of Feature</text>
<text transform="translate(25.8,290.4) rotate(-90)" font-size="13.75" font-weight="bold" text-anchor="middle">10-CVerror(pC N<tspan font-size="8.25" dy="-4.95">-1</tspan><tspan dy="4.95">)</tspan></text>
<text x="138.1" y="236.5" font-size="12.85" text-anchor="start" font-weight="bold" fill="#000" >ETR model</text>
<text x="138.1" y="251.9" font-size="12.85" text-anchor="start" font-weight="bold" fill="#000" >A and B separate</text>
<rect x="272.6" y="221.3" width="187.7" height="151" fill="url(#bg45)"/>
<circle cx="281.13" cy="289.25" r="2.75" fill="#ffc1c1"/>
<circle cx="280.53" cy="288.25" r="0.95" fill="#fff" opacity="0.7"/>
<circle cx="281.13" cy="286.01" r="2.75" fill="#ffb3b3"/>
<circle cx="280.53" cy="285.01" r="0.95" fill="#fff" opacity="0.7"/>
<circle cx="281.13" cy="282.78" r="2.75" fill="#ffa5a5"/>
<circle cx="280.53" cy="281.78" r="0.95" fill="#fff" opacity="0.7"/>
<circle cx="281.13" cy="279.54" r="2.75" fill="#ff9696"/>
<circle cx="280.53" cy="278.54" r="0.95" fill="#fff" opacity="0.7"/>
<circle cx="281.13" cy="276.95" r="2.75" fill="#ff8b8b"/>
<circle cx="280.53" cy="275.95" r="0.95" fill="#fff" opacity="0.7"/>
<circle cx="281.13" cy="274.15" r="2.75" fill="#ff7f7f"/>
<circle cx="280.53" cy="273.15" r="0.95" fill="#fff" opacity="0.7"/>
<circle cx="281.13" cy="271.35" r="2.75" fill="#ff7272"/>
<circle cx="280.53" cy="270.35" r="0.95" fill="#fff" opacity="0.7"/>
<circle cx="281.13" cy="254.74" r="2.75" fill="#ff2929"/>
<circle cx="280.53" cy="253.74" r="0.95" fill="#fff" opacity="0.7"/>
<circle cx="281.13" cy="248.7" r="2.75" fill="#ff0f0f"/>
<circle cx="280.53" cy="247.7" r="0.95" fill="#fff" opacity="0.7"/>
<rect x="295.45" y="287.7" width="5.5" height="43.56" rx="2.75" fill="url(#cg46)"/>
<rect x="296.8" y="289.95" width="1.6" height="38.06" rx="0.8" fill="#fff" opacity="0.22"/>
<circle cx="297.6" cy="289.45" r="0.9" fill="#fff" opacity="0.75"/>
<circle cx="298.2" cy="285.15" r="2.75" fill="#ffafaf"/>
<circle cx="297.6" cy="284.15" r="0.95" fill="#fff" opacity="0.7"/>
<rect x="312.51" y="299.35" width="5.5" height="44.64" rx="2.75" fill="url(#cg47)"/>
<rect x="313.86" y="301.6" width="1.6" height="39.14" rx="0.8" fill="#fff" opacity="0.22"/>
<circle cx="314.66" cy="301.1" r="0.9" fill="#fff" opacity="0.75"/>
<rect x="329.57" y="310.13" width="5.5" height="40.54" rx="2.75" fill="url(#cg48)"/>
<rect x="330.92" y="312.38" width="1.6" height="35.04" rx="0.8" fill="#fff" opacity="0.22"/>
<circle cx="331.72" cy="311.88" r="0.9" fill="#fff" opacity="0.75"/>
<rect x="346.64" y="320.27" width="5.5" height="34.07" rx="2.75" fill="url(#cg49)"/>
<rect x="347.99" y="322.52" width="1.6" height="28.57" rx="0.8" fill="#fff" opacity="0.22"/>
<circle cx="348.79" cy="322.02" r="0.9" fill="#fff" opacity="0.75"/>
<rect x="363.7" y="325.88" width="5.5" height="30.19" rx="2.75" fill="url(#cg50)"/>
<rect x="365.05" y="328.13" width="1.6" height="24.69" rx="0.8" fill="#fff" opacity="0.22"/>
<circle cx="365.85" cy="327.63" r="0.9" fill="#fff" opacity="0.75"/>
<rect x="380.76" y="331.06" width="5.5" height="26.09" rx="2.75" fill="url(#cg51)"/>
<rect x="382.11" y="333.31" width="1.6" height="20.59" rx="0.8" fill="#fff" opacity="0.22"/>
<circle cx="382.91" cy="332.81" r="0.9" fill="#fff" opacity="0.75"/>
<rect x="397.83" y="336.67" width="5.5" height="21.34" rx="2.75" fill="url(#cg52)"/>
<rect x="399.18" y="338.92" width="1.6" height="15.84" rx="0.8" fill="#fff" opacity="0.22"/>
<circle cx="399.98" cy="338.42" r="0.9" fill="#fff" opacity="0.75"/>
<rect x="414.89" y="345.73" width="5.5" height="12.28" rx="2.75" fill="url(#cg53)"/>
<rect x="416.24" y="347.98" width="1.6" height="6.78" rx="0.8" fill="#fff" opacity="0.22"/>
<circle cx="417.04" cy="347.48" r="0.9" fill="#fff" opacity="0.75"/>
<circle cx="417.64" cy="342.32" r="2.75" fill="#5ba7fd"/>
<circle cx="417.04" cy="341.32" r="0.95" fill="#fff" opacity="0.7"/>
<rect x="431.95" y="348.1" width="5.5" height="9.69" rx="2.75" fill="url(#cg54)"/>
<rect x="433.3" y="350.35" width="1.6" height="4.19" rx="0.8" fill="#fff" opacity="0.22"/>
<circle cx="434.1" cy="349.85" r="0.9" fill="#fff" opacity="0.75"/>
<circle cx="451.77" cy="354.18" r="2.75" fill="#2a8cfc"/>
<circle cx="451.17" cy="353.18" r="0.95" fill="#fff" opacity="0.7"/>
<path d="M281.13,294.86 C283.98,300.47 292.51,320.78 298.2,328.51 C303.88,336.24 309.57,338 315.26,341.24 C320.95,344.47 326.63,346.2 332.32,347.92 C338.01,349.65 343.7,350.69 349.39,351.59 C355.07,352.49 360.76,352.85 366.45,353.32 C372.14,353.78 377.83,354.07 383.51,354.4 C389.2,354.72 394.89,355.11 400.58,355.26 C406.27,355.4 411.95,355.29 417.64,355.26 C423.33,355.22 429.02,355.22 434.7,355.04 C440.39,354.86 448.92,354.32 451.77,354.18" fill="none" stroke="#ff2020" stroke-width="1.05" stroke-dasharray="1.1 3.4" opacity="0.9"/>
<path d="M281.13,291.21 L282.01,293.45 L284.41,293.59 L282.56,295.12 L283.16,297.45 L281.13,296.16 L279.1,297.45 L279.71,295.12 L277.85,293.59 L280.25,293.45Z" fill="url(#sg55)" stroke="#ff1010" stroke-width="0.7" stroke-linejoin="round"/>
<path d="M298.2,324.86 L299.08,327.1 L301.48,327.24 L299.62,328.77 L300.22,331.1 L298.2,329.81 L296.17,331.1 L296.77,328.77 L294.91,327.24 L297.31,327.1Z" fill="url(#sg55)" stroke="#ff1010" stroke-width="0.7" stroke-linejoin="round"/>
<path d="M315.26,337.59 L316.14,339.82 L318.54,339.97 L316.69,341.5 L317.29,343.83 L315.26,342.54 L313.23,343.83 L313.83,341.5 L311.98,339.97 L314.38,339.82Z" fill="url(#sg55)" stroke="#ff1010" stroke-width="0.7" stroke-linejoin="round"/>
<path d="M332.32,344.27 L333.2,346.51 L335.6,346.66 L333.75,348.19 L334.35,350.52 L332.32,349.22 L330.29,350.52 L330.9,348.19 L329.04,346.66 L331.44,346.51Z" fill="url(#sg55)" stroke="#ff1010" stroke-width="0.7" stroke-linejoin="round"/>
<path d="M349.39,347.94 L350.27,350.18 L352.67,350.33 L350.81,351.85 L351.41,354.18 L349.39,352.89 L347.36,354.18 L347.96,351.85 L346.11,350.33 L348.5,350.18Z" fill="url(#sg55)" stroke="#ff1010" stroke-width="0.7" stroke-linejoin="round"/>
<path d="M366.45,349.67 L367.33,351.9 L369.73,352.05 L367.88,353.58 L368.48,355.91 L366.45,354.62 L364.42,355.91 L365.02,353.58 L363.17,352.05 L365.57,351.9Z" fill="url(#sg55)" stroke="#ff1010" stroke-width="0.7" stroke-linejoin="round"/>
<path d="M383.51,350.75 L384.4,352.98 L386.79,353.13 L384.94,354.66 L385.54,356.99 L383.51,355.7 L381.49,356.99 L382.09,354.66 L380.23,353.13 L382.63,352.98Z" fill="url(#sg55)" stroke="#ff1010" stroke-width="0.7" stroke-linejoin="round"/>
<path d="M400.58,351.61 L401.46,353.85 L403.86,353.99 L402,355.52 L402.61,357.85 L400.58,356.56 L398.55,357.85 L399.15,355.52 L397.3,353.99 L399.7,353.85Z" fill="url(#sg55)" stroke="#ff1010" stroke-width="0.7" stroke-linejoin="round"/>
<path d="M417.64,351.61 L418.52,353.85 L420.92,353.99 L419.07,355.52 L419.67,357.85 L417.64,356.56 L415.61,357.85 L416.21,355.52 L414.36,353.99 L416.76,353.85Z" fill="url(#sg55)" stroke="#ff1010" stroke-width="0.7" stroke-linejoin="round"/>
<path d="M434.7,351.39 L435.59,353.63 L437.99,353.78 L436.13,355.31 L436.73,357.63 L434.7,356.34 L432.68,357.63 L433.28,355.31 L431.42,353.78 L433.82,353.63Z" fill="url(#sg55)" stroke="#ff1010" stroke-width="0.7" stroke-linejoin="round"/>
<path d="M451.77,350.53 L452.65,352.77 L455.05,352.91 L453.19,354.44 L453.8,356.77 L451.77,355.48 L449.74,356.77 L450.34,354.44 L448.49,352.91 L450.89,352.77Z" fill="url(#sg55)" stroke="#ff1010" stroke-width="0.7" stroke-linejoin="round"/>
<ellipse cx="383.51" cy="354.7" rx="7.3" ry="5.8" fill="none" stroke="#ff0a0a" stroke-width="1.3"/>
<rect x="272.6" y="221.3" width="187.7" height="151" fill="none" stroke="#141414" stroke-width="1.25"/>
<path d="M281.13,372.3v-3 M298.2,372.3v-3 M315.26,372.3v-3 M332.32,372.3v-3 M349.39,372.3v-3 M366.45,372.3v-3 M383.51,372.3v-3 M400.58,372.3v-3 M417.64,372.3v-3 M434.7,372.3v-3 M451.77,372.3v-3 M272.6,372.3h3 M272.6,361.51h1.6 M272.6,350.73h3 M272.6,339.94h1.6 M272.6,329.16h3 M272.6,318.37h1.6 M272.6,307.59h3 M272.6,296.8h1.6 M272.6,286.01h3 M272.6,275.23h1.6 M272.6,264.44h3 M272.6,253.66h1.6 M272.6,242.87h3 M272.6,232.09h1.6 M272.6,221.3h3" stroke="#141414" stroke-width="1.1" fill="none"/>
<text x="269.2" y="375.11" font-size="8.5" text-anchor="end" font-weight="bold" fill="#000" >70</text>
<text x="269.2" y="353.53" font-size="8.5" text-anchor="end" font-weight="bold" fill="#000" >80</text>
<text x="269.2" y="331.96" font-size="8.5" text-anchor="end" font-weight="bold" fill="#000" >90</text>
<text x="269.2" y="310.39" font-size="8.5" text-anchor="end" font-weight="bold" fill="#000" >100</text>
<text x="269.2" y="288.82" font-size="8.5" text-anchor="end" font-weight="bold" fill="#000" >110</text>
<text x="269.2" y="267.25" font-size="8.5" text-anchor="end" font-weight="bold" fill="#000" >120</text>
<text x="269.2" y="245.68" font-size="8.5" text-anchor="end" font-weight="bold" fill="#000" >130</text>
<text x="269.2" y="224.11" font-size="8.5" text-anchor="end" font-weight="bold" fill="#000" >140</text>
<text x="281.13" y="382.3" font-size="8.5" text-anchor="middle" font-weight="bold" fill="#000" >1</text>
<text x="298.2" y="382.3" font-size="8.5" text-anchor="middle" font-weight="bold" fill="#000" >2</text>
<text x="315.26" y="382.3" font-size="8.5" text-anchor="middle" font-weight="bold" fill="#000" >3</text>
<text x="332.32" y="382.3" font-size="8.5" text-anchor="middle" font-weight="bold" fill="#000" >4</text>
<text x="349.39" y="382.3" font-size="8.5" text-anchor="middle" font-weight="bold" fill="#000" >5</text>
<text x="366.45" y="382.3" font-size="8.5" text-anchor="middle" font-weight="bold" fill="#000" >6</text>
<text x="383.51" y="382.3" font-size="8.5" text-anchor="middle" font-weight="bold" fill="#000" >7</text>
<text x="400.58" y="382.3" font-size="8.5" text-anchor="middle" font-weight="bold" fill="#000" >8</text>
<text x="417.64" y="382.3" font-size="8.5" text-anchor="middle" font-weight="bold" fill="#000" >9</text>
<text x="434.7" y="382.3" font-size="8.5" text-anchor="middle" font-weight="bold" fill="#000" >10</text>
<text x="451.77" y="382.3" font-size="8.5" text-anchor="middle" font-weight="bold" fill="#000" >11</text>
<text x="366.45" y="394.8" font-size="12.8" text-anchor="middle" font-weight="bold" fill="#000" >Number of Feature</text>
<text transform="translate(252.4,290.4) rotate(-90)" font-size="13.75" font-weight="bold" text-anchor="middle">10-CVerror(pC N<tspan font-size="8.25" dy="-4.95">-1</tspan><tspan dy="4.95">)</tspan></text>
<text x="364.3" y="236.3" font-size="12.85" text-anchor="start" font-weight="bold" fill="#000" >RFR model</text>
<text x="364.3" y="251.7" font-size="12.85" text-anchor="start" font-weight="bold" fill="#000" >A and B separate</text>
<rect x="495.8" y="221.5" width="187.7" height="150.8" fill="url(#bg56)"/>
<circle cx="504.33" cy="301.42" r="2.75" fill="#fffafa"/>
<circle cx="503.73" cy="300.42" r="0.95" fill="#fff" opacity="0.7"/>
<circle cx="504.33" cy="297.98" r="2.75" fill="#ffe8e8"/>
<circle cx="503.73" cy="296.98" r="0.95" fill="#fff" opacity="0.7"/>
<circle cx="504.33" cy="294.75" r="2.75" fill="#ffd7d7"/>
<circle cx="503.73" cy="293.75" r="0.95" fill="#fff" opacity="0.7"/>
<circle cx="504.33" cy="291.73" r="2.75" fill="#ffc7c7"/>
<circle cx="503.73" cy="290.73" r="0.95" fill="#fff" opacity="0.7"/>
<circle cx="504.33" cy="288.71" r="2.75" fill="#ffb7b7"/>
<circle cx="503.73" cy="287.71" r="0.95" fill="#fff" opacity="0.7"/>
<circle cx="504.33" cy="285.7" r="2.75" fill="#ffa7a7"/>
<circle cx="503.73" cy="284.7" r="0.95" fill="#fff" opacity="0.7"/>
<circle cx="504.33" cy="280.53" r="2.75" fill="#ff8b8b"/>
<circle cx="503.73" cy="279.53" r="0.95" fill="#fff" opacity="0.7"/>
<circle cx="504.33" cy="275.14" r="2.75" fill="#ff6e6e"/>
<circle cx="503.73" cy="274.14" r="0.95" fill="#fff" opacity="0.7"/>
<circle cx="504.33" cy="273.2" r="2.75" fill="#ff6464"/>
<circle cx="503.73" cy="272.2" r="0.95" fill="#fff" opacity="0.7"/>
<rect x="518.65" y="296.64" width="5.5" height="36.4" rx="2.75" fill="url(#cg57)"/>
<rect x="520" y="298.89" width="1.6" height="30.9" rx="0.8" fill="#fff" opacity="0.22"/>
<circle cx="520.8" cy="298.39" r="0.9" fill="#fff" opacity="0.75"/>
<circle cx="521.4" cy="293.45" r="2.75" fill="#ffd0d0"/>
<circle cx="520.8" cy="292.45" r="0.95" fill="#fff" opacity="0.7"/>
<circle cx="521.4" cy="286.99" r="2.75" fill="#ffadad"/>
<circle cx="520.8" cy="285.99" r="0.95" fill="#fff" opacity="0.7"/>
<rect x="535.71" y="303.75" width="5.5" height="40.49" rx="2.75" fill="url(#cg58)"/>
<rect x="537.06" y="306" width="1.6" height="34.99" rx="0.8" fill="#fff" opacity="0.22"/>
<circle cx="537.86" cy="305.5" r="0.9" fill="#fff" opacity="0.75"/>
<rect x="552.77" y="310.43" width="5.5" height="39.63" rx="2.75" fill="url(#cg59)"/>
<rect x="554.12" y="312.68" width="1.6" height="34.13" rx="0.8" fill="#fff" opacity="0.22"/>
<circle cx="554.92" cy="312.18" r="0.9" fill="#fff" opacity="0.75"/>
<rect x="569.84" y="315.82" width="5.5" height="38.12" rx="2.75" fill="url(#cg60)"/>
<rect x="571.19" y="318.07" width="1.6" height="32.62" rx="0.8" fill="#fff" opacity="0.22"/>
<circle cx="571.99" cy="317.57" r="0.9" fill="#fff" opacity="0.75"/>
<rect x="586.9" y="321.63" width="5.5" height="34.46" rx="2.75" fill="url(#cg61)"/>
<rect x="588.25" y="323.88" width="1.6" height="28.96" rx="0.8" fill="#fff" opacity="0.22"/>
<circle cx="589.05" cy="323.38" r="0.9" fill="#fff" opacity="0.75"/>
<circle cx="589.65" cy="319.09" r="2.75" fill="#bbdbfe"/>
<circle cx="589.05" cy="318.09" r="0.95" fill="#fff" opacity="0.7"/>
<rect x="603.96" y="323.14" width="5.5" height="32.95" rx="2.75" fill="url(#cg62)"/>
<rect x="605.31" y="325.39" width="1.6" height="27.45" rx="0.8" fill="#fff" opacity="0.22"/>
<circle cx="606.11" cy="324.89" r="0.9" fill="#fff" opacity="0.75"/>
<rect x="621.03" y="329.17" width="5.5" height="26.92" rx="2.75" fill="url(#cg63)"/>
<rect x="622.38" y="331.42" width="1.6" height="21.42" rx="0.8" fill="#fff" opacity="0.22"/>
<circle cx="623.18" cy="330.92" r="0.9" fill="#fff" opacity="0.75"/>
<rect x="638.09" y="331.33" width="5.5" height="23.04" rx="2.75" fill="url(#cg64)"/>
<rect x="639.44" y="333.58" width="1.6" height="17.54" rx="0.8" fill="#fff" opacity="0.22"/>
<circle cx="640.24" cy="333.08" r="0.9" fill="#fff" opacity="0.75"/>
<rect x="655.15" y="344.47" width="5.5" height="10.12" rx="2.75" fill="url(#cg65)"/>
<rect x="656.5" y="346.72" width="1.6" height="4.62" rx="0.8" fill="#fff" opacity="0.22"/>
<circle cx="657.3" cy="346.22" r="0.9" fill="#fff" opacity="0.75"/>
<circle cx="657.9" cy="341.92" r="2.75" fill="#5faafc"/>
<circle cx="657.3" cy="340.92" r="0.95" fill="#fff" opacity="0.7"/>
<circle cx="674.97" cy="349.25" r="2.75" fill="#429afb"/>
<circle cx="674.37" cy="348.25" r="0.95" fill="#fff" opacity="0.7"/>
<path d="M504.33,311.55 C507.18,314.17 515.71,322.28 521.4,327.28 C527.08,332.27 532.77,338.15 538.46,341.49 C544.15,344.83 549.83,345.69 555.52,347.31 C561.21,348.93 566.9,350.18 572.59,351.19 C578.27,352.19 583.96,352.98 589.65,353.34 C595.34,353.7 601.03,353.34 606.71,353.34 C612.4,353.34 618.09,353.63 623.78,353.34 C629.47,353.06 635.15,351.87 640.84,351.62 C646.53,351.37 652.22,352.23 657.9,351.83 C663.59,351.44 672.12,349.68 674.97,349.25" fill="none" stroke="#ff3a1a" stroke-width="1.05" stroke-dasharray="1.1 3.4" opacity="0.9"/>
<path d="M504.33,307.9 L505.21,310.14 L507.61,310.28 L505.76,311.81 L506.36,314.14 L504.33,312.85 L502.3,314.14 L502.91,311.81 L501.05,310.28 L503.45,310.14Z" fill="url(#sg66)" stroke="#f25a20" stroke-width="0.7" stroke-linejoin="round"/>
<path d="M521.4,323.63 L522.28,325.86 L524.68,326.01 L522.82,327.54 L523.42,329.87 L521.4,328.58 L519.37,329.87 L519.97,327.54 L518.11,326.01 L520.51,325.86Z" fill="url(#sg66)" stroke="#f25a20" stroke-width="0.7" stroke-linejoin="round"/>
<path d="M538.46,337.84 L539.34,340.08 L541.74,340.23 L539.89,341.76 L540.49,344.08 L538.46,342.79 L536.43,344.08 L537.03,341.76 L535.18,340.23 L537.58,340.08Z" fill="url(#sg66)" stroke="#f25a20" stroke-width="0.7" stroke-linejoin="round"/>
<path d="M555.52,343.66 L556.4,345.9 L558.8,346.04 L556.95,347.57 L557.55,349.9 L555.52,348.61 L553.49,349.9 L554.1,347.57 L552.24,346.04 L554.64,345.9Z" fill="url(#sg66)" stroke="#f25a20" stroke-width="0.7" stroke-linejoin="round"/>
<path d="M572.59,347.54 L573.47,349.77 L575.87,349.92 L574.01,351.45 L574.61,353.78 L572.59,352.49 L570.56,353.78 L571.16,351.45 L569.31,349.92 L571.7,349.77Z" fill="url(#sg66)" stroke="#f25a20" stroke-width="0.7" stroke-linejoin="round"/>
<path d="M589.65,349.69 L590.53,351.93 L592.93,352.08 L591.08,353.61 L591.68,355.93 L589.65,354.64 L587.62,355.93 L588.22,353.61 L586.37,352.08 L588.77,351.93Z" fill="url(#sg66)" stroke="#f25a20" stroke-width="0.7" stroke-linejoin="round"/>
<path d="M606.71,349.69 L607.6,351.93 L609.99,352.08 L608.14,353.61 L608.74,355.93 L606.71,354.64 L604.69,355.93 L605.29,353.61 L603.43,352.08 L605.83,351.93Z" fill="url(#sg66)" stroke="#f25a20" stroke-width="0.7" stroke-linejoin="round"/>
<path d="M623.78,349.69 L624.66,351.93 L627.06,352.08 L625.2,353.61 L625.81,355.93 L623.78,354.64 L621.75,355.93 L622.35,353.61 L620.5,352.08 L622.9,351.93Z" fill="url(#sg66)" stroke="#f25a20" stroke-width="0.7" stroke-linejoin="round"/>
<path d="M640.84,347.97 L641.72,350.21 L644.12,350.35 L642.27,351.88 L642.87,354.21 L640.84,352.92 L638.81,354.21 L639.41,351.88 L637.56,350.35 L639.96,350.21Z" fill="url(#sg66)" stroke="#f25a20" stroke-width="0.7" stroke-linejoin="round"/>
<path d="M657.9,348.18 L658.79,350.42 L661.19,350.57 L659.33,352.1 L659.93,354.43 L657.9,353.13 L655.88,354.43 L656.48,352.1 L654.62,350.57 L657.02,350.42Z" fill="url(#sg66)" stroke="#f25a20" stroke-width="0.7" stroke-linejoin="round"/>
<path d="M674.97,345.6 L675.85,347.84 L678.25,347.98 L676.39,349.51 L677,351.84 L674.97,350.55 L672.94,351.84 L673.54,349.51 L671.69,347.98 L674.09,347.84Z" fill="url(#sg66)" stroke="#f25a20" stroke-width="0.7" stroke-linejoin="round"/>
<ellipse cx="589.65" cy="353.64" rx="7.5" ry="5.9" fill="none" stroke="#ff0a0a" stroke-width="1.3"/>
<rect x="495.8" y="221.5" width="187.7" height="150.8" fill="none" stroke="#141414" stroke-width="1.25"/>
<path d="M504.33,372.3v-3 M521.4,372.3v-3 M538.46,372.3v-3 M555.52,372.3v-3 M572.59,372.3v-3 M589.65,372.3v-3 M606.71,372.3v-3 M623.78,372.3v-3 M640.84,372.3v-3 M657.9,372.3v-3 M674.97,372.3v-3 M495.8,372.3h3 M495.8,361.53h1.6 M495.8,350.76h3 M495.8,339.99h1.6 M495.8,329.21h3 M495.8,318.44h1.6 M495.8,307.67h3 M495.8,296.9h1.6 M495.8,286.13h3 M495.8,275.36h1.6 M495.8,264.59h3 M495.8,253.81h1.6 M495.8,243.04h3 M495.8,232.27h1.6 M495.8,221.5h3" stroke="#141414" stroke-width="1.1" fill="none"/>
<text x="492.4" y="375.11" font-size="8.5" text-anchor="end" font-weight="bold" fill="#000" >70</text>
<text x="492.4" y="353.56" font-size="8.5" text-anchor="end" font-weight="bold" fill="#000" >80</text>
<text x="492.4" y="332.02" font-size="8.5" text-anchor="end" font-weight="bold" fill="#000" >90</text>
<text x="492.4" y="310.48" font-size="8.5" text-anchor="end" font-weight="bold" fill="#000" >100</text>
<text x="492.4" y="288.93" font-size="8.5" text-anchor="end" font-weight="bold" fill="#000" >110</text>
<text x="492.4" y="267.39" font-size="8.5" text-anchor="end" font-weight="bold" fill="#000" >120</text>
<text x="492.4" y="245.85" font-size="8.5" text-anchor="end" font-weight="bold" fill="#000" >130</text>
<text x="492.4" y="224.31" font-size="8.5" text-anchor="end" font-weight="bold" fill="#000" >140</text>
<text x="504.33" y="382.3" font-size="8.5" text-anchor="middle" font-weight="bold" fill="#000" >1</text>
<text x="521.4" y="382.3" font-size="8.5" text-anchor="middle" font-weight="bold" fill="#000" >2</text>
<text x="538.46" y="382.3" font-size="8.5" text-anchor="middle" font-weight="bold" fill="#000" >3</text>
<text x="555.52" y="382.3" font-size="8.5" text-anchor="middle" font-weight="bold" fill="#000" >4</text>
<text x="572.59" y="382.3" font-size="8.5" text-anchor="middle" font-weight="bold" fill="#000" >5</text>
<text x="589.65" y="382.3" font-size="8.5" text-anchor="middle" font-weight="bold" fill="#000" >6</text>
<text x="606.71" y="382.3" font-size="8.5" text-anchor="middle" font-weight="bold" fill="#000" >7</text>
<text x="623.78" y="382.3" font-size="8.5" text-anchor="middle" font-weight="bold" fill="#000" >8</text>
<text x="640.84" y="382.3" font-size="8.5" text-anchor="middle" font-weight="bold" fill="#000" >9</text>
<text x="657.9" y="382.3" font-size="8.5" text-anchor="middle" font-weight="bold" fill="#000" >10</text>
<text x="674.97" y="382.3" font-size="8.5" text-anchor="middle" font-weight="bold" fill="#000" >11</text>
<text x="589.65" y="394.8" font-size="12.8" text-anchor="middle" font-weight="bold" fill="#000" >Number of Feature</text>
<text transform="translate(475.3,291) rotate(-90)" font-size="13.6" font-weight="bold" text-anchor="middle">10-CVerror(pC N<tspan font-size="8.16" dy="-4.9">-1</tspan><tspan dy="4.9">)</tspan></text>
<text x="586.2" y="236.9" font-size="12.85" text-anchor="start" font-weight="bold" fill="#000" >GBR model</text>
<text x="586.2" y="252.2" font-size="12.85" text-anchor="start" font-weight="bold" fill="#000" >A and B separate</text>
<rect x="53.25" y="468.22" width="22.2" height="126.28" fill="url(#gb)"/>
<rect x="75.45" y="464.2" width="22.2" height="130.3" fill="url(#gp)"/>
<rect x="117.15" y="460.3" width="22.2" height="134.2" fill="url(#gb)"/>
<rect x="139.35" y="457.03" width="22.2" height="137.47" fill="url(#gp)"/>
<rect x="181.05" y="454.59" width="22.2" height="139.91" fill="url(#gb)"/>
<rect x="203.25" y="450.05" width="22.2" height="144.45" fill="url(#gp)"/>
<rect x="43.5" y="412.8" width="191.7" height="181.7" fill="none" stroke="#141414" stroke-width="1.25"/>
<path d="M43.5,594.5h3 M43.5,581.52h1.6 M43.5,568.54h3 M43.5,555.56h1.6 M43.5,542.59h3 M43.5,529.61h1.6 M43.5,516.63h3 M43.5,503.65h1.6 M43.5,490.67h3 M43.5,477.69h1.6 M43.5,464.71h3 M43.5,451.74h1.6 M43.5,438.76h3 M43.5,425.78h1.6 M43.5,412.8h3 M107.4,594.5v-2 M171.3,594.5v-2" stroke="#141414" stroke-width="1.1" fill="none"/>
<text x="39.9" y="597.57" font-size="9.3" text-anchor="end" font-weight="bold" fill="#000" >0</text>
<text x="39.9" y="571.61" font-size="9.3" text-anchor="end" font-weight="bold" fill="#000" >10</text>
<text x="39.9" y="545.65" font-size="9.3" text-anchor="end" font-weight="bold" fill="#000" >20</text>
<text x="39.9" y="519.7" font-size="9.3" text-anchor="end" font-weight="bold" fill="#000" >30</text>
<text x="39.9" y="493.74" font-size="9.3" text-anchor="end" font-weight="bold" fill="#000" >40</text>
<text x="39.9" y="467.78" font-size="9.3" text-anchor="end" font-weight="bold" fill="#000" >50</text>
<text x="39.9" y="441.83" font-size="9.3" text-anchor="end" font-weight="bold" fill="#000" >60</text>
<text x="39.9" y="415.87" font-size="9.3" text-anchor="end" font-weight="bold" fill="#000" >70</text>
<text x="75.45" y="606.6" font-size="10.2" text-anchor="middle" font-weight="bold" fill="#000" >ETR</text>
<text x="139.35" y="606.6" font-size="10.2" text-anchor="middle" font-weight="bold" fill="#000" >RFR</text>
<text x="203.25" y="606.6" font-size="10.2" text-anchor="middle" font-weight="bold" fill="#000" >GBR</text>
<text x="139.35" y="620.7" font-size="14" text-anchor="middle" font-weight="bold" fill="#000" >Model</text>
<text transform="translate(24.7,501) rotate(-90)" font-size="14.2" font-weight="bold" text-anchor="middle">LOOCVerror (pC N<tspan font-size="8.4" dy="-5">-1</tspan><tspan dy="5">)</tspan></text>
<rect x="137.5" y="420.2" width="15.8" height="6.6" fill="url(#lgb)"/>
<rect x="137.5" y="433" width="15.8" height="6.6" fill="url(#lgp)"/>
<text x="156.1" y="426.6" font-size="10.3" text-anchor="start" font-weight="bold" fill="#000" >A and B separate</text>
<text x="156.1" y="439.4" font-size="10.3" text-anchor="start" font-weight="bold" fill="#000" >A and B combine</text>
<text x="63" y="456" font-size="7.6" text-anchor="middle" font-weight="bold" fill="#000" >7-tuple</text>
<text x="88.4" y="449.9" font-size="7.6" text-anchor="middle" font-weight="bold" fill="#000" >6-tuple</text>
<path transform="translate(59.4,457.7) scale(8.6)" d="M0.5,0.97 L0.12,0.56 C-0.06,0.37 -0.02,0.06 0.23,0.04 C0.36,0.03 0.46,0.12 0.5,0.23 C0.54,0.12 0.64,0.03 0.77,0.04 C1.02,0.06 1.06,0.37 0.88,0.56 Z" fill="#0808f5"/>
<path transform="translate(83.3,452.5) scale(8.6)" d="M0.5,0.97 L0.12,0.56 C-0.06,0.37 -0.02,0.06 0.23,0.04 C0.36,0.03 0.46,0.12 0.5,0.23 C0.54,0.12 0.64,0.03 0.77,0.04 C1.02,0.06 1.06,0.37 0.88,0.56 Z" fill="#ff0a0a"/>
<g clip-path="url(#clip67)">
<g fill="#2591ff" fill-opacity="0.45">
<circle cx="282.3" cy="594.37" r="3"/>
<circle cx="289.94" cy="593.44" r="3"/>
<circle cx="291.71" cy="591.26" r="3"/>
<circle cx="282.77" cy="593.76" r="3"/>
<circle cx="286.23" cy="589.24" r="3"/>
<circle cx="305.12" cy="592.19" r="3"/>
<circle cx="307.57" cy="592.07" r="3"/>
<circle cx="287.96" cy="593.6" r="3"/>
<circle cx="301.68" cy="594.18" r="3"/>
<circle cx="295.57" cy="593.87" r="3"/>
<circle cx="282.04" cy="593.04" r="3"/>
<circle cx="285.78" cy="592.61" r="3"/>
<circle cx="295.67" cy="593.67" r="3"/>
<circle cx="288.22" cy="591.82" r="3"/>
<circle cx="295.38" cy="593.75" r="3"/>
<circle cx="303.22" cy="589.88" r="3"/>
<circle cx="309.25" cy="594.91" r="3"/>
<circle cx="300.15" cy="592.33" r="3"/>
<circle cx="297.83" cy="592.87" r="3"/>
<circle cx="295.35" cy="591.86" r="3"/>
<circle cx="295.9" cy="593.06" r="3"/>
<circle cx="292.3" cy="593.08" r="3"/>
<circle cx="297.72" cy="590.61" r="3"/>
<circle cx="298.7" cy="587.91" r="3"/>
<circle cx="287.83" cy="588.39" r="3"/>
<circle cx="297.84" cy="586.14" r="3"/>
<circle cx="283.46" cy="591.29" r="3"/>
<circle cx="300.44" cy="594.73" r="3"/>
<circle cx="303.13" cy="593.41" r="3"/>
<circle cx="292.12" cy="593.31" r="3"/>
<circle cx="302.93" cy="588.12" r="3"/>
<circle cx="291.23" cy="593" r="3"/>
<circle cx="362.26" cy="506.29" r="3"/>
<circle cx="292" cy="584" r="3"/>
<circle cx="348.55" cy="524.28" r="3"/>
<circle cx="336.36" cy="534.16" r="3"/>
<circle cx="383.56" cy="488.28" r="3"/>
<circle cx="354.68" cy="517.81" r="3"/>
<circle cx="367.86" cy="506.06" r="3"/>
<circle cx="340.38" cy="530.39" r="3"/>
<circle cx="303.21" cy="571.51" r="3"/>
<circle cx="291.1" cy="583.11" r="3"/>
<circle cx="290.62" cy="584.68" r="3"/>
<circle cx="369.54" cy="504.23" r="3"/>
<circle cx="379.24" cy="495.32" r="3"/>
<circle cx="332.98" cy="540.81" r="3"/>
<circle cx="387.06" cy="485.82" r="3"/>
<circle cx="344.1" cy="529.36" r="3"/>
<circle cx="339.4" cy="538.28" r="3"/>
<circle cx="376.18" cy="497.7" r="3"/>
<circle cx="351.69" cy="523.77" r="3"/>
<circle cx="307.95" cy="574.41" r="3"/>
<circle cx="331.99" cy="539.75" r="3"/>
<circle cx="373.14" cy="495.39" r="3"/>
<circle cx="332.52" cy="541.07" r="3"/>
<circle cx="399.8" cy="476.08" r="3"/>
<circle cx="350.26" cy="522.48" r="3"/>
<circle cx="325.66" cy="546.72" r="3"/>
<circle cx="293.63" cy="581.19" r="3"/>
<circle cx="385.4" cy="486.83" r="3"/>
<circle cx="328.93" cy="543.36" r="3"/>
<circle cx="340.45" cy="534.07" r="3"/>
<circle cx="309.42" cy="559.37" r="3"/>
<circle cx="350.93" cy="522.41" r="3"/>
<circle cx="391.24" cy="483.71" r="3"/>
<circle cx="371.7" cy="497.01" r="3"/>
<circle cx="353.37" cy="523.63" r="3"/>
<circle cx="343.74" cy="522.51" r="3"/>
<circle cx="310.06" cy="566.29" r="3"/>
<circle cx="375.93" cy="498.22" r="3"/>
<circle cx="309.08" cy="564.13" r="3"/>
<circle cx="367.36" cy="509.33" r="3"/>
<circle cx="333.1" cy="538.38" r="3"/>
<circle cx="309.96" cy="562.33" r="3"/>
<circle cx="337.19" cy="534.61" r="3"/>
<circle cx="353.99" cy="515.38" r="3"/>
<circle cx="339.26" cy="535.72" r="3"/>
<circle cx="325.82" cy="545.9" r="3"/>
<circle cx="364.77" cy="512.32" r="3"/>
<circle cx="318.15" cy="555.48" r="3"/>
<circle cx="345.78" cy="529.84" r="3"/>
<circle cx="317.94" cy="554.16" r="3"/>
<circle cx="301.15" cy="576.8" r="3"/>
<circle cx="334.38" cy="534.3" r="3"/>
<circle cx="339.96" cy="531.41" r="3"/>
<circle cx="354.3" cy="518.84" r="3"/>
<circle cx="330.02" cy="542.78" r="3"/>
<circle cx="379.34" cy="490.3" r="3"/>
<circle cx="372.65" cy="502.69" r="3"/>
<circle cx="359.9" cy="509.88" r="3"/>
<circle cx="367.46" cy="502.4" r="3"/>
<circle cx="346.71" cy="529.89" r="3"/>
<circle cx="365.04" cy="509.76" r="3"/>
<circle cx="337.61" cy="539.86" r="3"/>
<circle cx="336.26" cy="534.81" r="3"/>
<circle cx="298.97" cy="582.24" r="3"/>
<circle cx="382.93" cy="492.38" r="3"/>
<circle cx="393.27" cy="483.1" r="3"/>
<circle cx="395.59" cy="478.66" r="3"/>
<circle cx="367.28" cy="497.8" r="3"/>
<circle cx="376.07" cy="498.34" r="3"/>
<circle cx="350.45" cy="521.5" r="3"/>
<circle cx="345.9" cy="526.85" r="3"/>
<circle cx="333.72" cy="538.61" r="3"/>
<circle cx="336.11" cy="534.48" r="3"/>
<circle cx="308.57" cy="561.94" r="3"/>
<circle cx="377.56" cy="495.19" r="3"/>
<circle cx="364.7" cy="509.32" r="3"/>
<circle cx="350.48" cy="524.36" r="3"/>
<circle cx="373.96" cy="497.16" r="3"/>
<circle cx="305.3" cy="563.74" r="3"/>
<circle cx="363.53" cy="507.65" r="3"/>
<circle cx="373.12" cy="502.52" r="3"/>
<circle cx="372.01" cy="499.9" r="3"/>
<circle cx="399.36" cy="475.79" r="3"/>
<circle cx="329.5" cy="546.07" r="3"/>
<circle cx="371.65" cy="502.64" r="3"/>
<circle cx="339.04" cy="535.02" r="3"/>
<circle cx="347.77" cy="525.62" r="3"/>
<circle cx="332.44" cy="544.48" r="3"/>
<circle cx="327.45" cy="545.32" r="3"/>
<circle cx="349.27" cy="523.81" r="3"/>
<circle cx="305.36" cy="568.82" r="3"/>
<circle cx="371.99" cy="504.72" r="3"/>
<circle cx="350.21" cy="517.73" r="3"/>
<circle cx="334.2" cy="534.64" r="3"/>
<circle cx="367.51" cy="502.72" r="3"/>
<circle cx="392.02" cy="479.26" r="3"/>
<circle cx="326.52" cy="547.54" r="3"/>
<circle cx="306.2" cy="568.6" r="3"/>
<circle cx="365.66" cy="509.78" r="3"/>
<circle cx="363.69" cy="507.37" r="3"/>
<circle cx="335.39" cy="540.19" r="3"/>
<circle cx="301.79" cy="576.65" r="3"/>
<circle cx="377.31" cy="495.89" r="3"/>
<circle cx="377.76" cy="495.13" r="3"/>
<circle cx="334.77" cy="535" r="3"/>
<circle cx="339.92" cy="532.64" r="3"/>
<circle cx="339.42" cy="535.61" r="3"/>
<circle cx="324.13" cy="550.03" r="3"/>
<circle cx="319.11" cy="551.99" r="3"/>
<circle cx="355.19" cy="514.24" r="3"/>
<circle cx="362.83" cy="511.56" r="3"/>
<circle cx="388.1" cy="488.27" r="3"/>
<circle cx="398.69" cy="475.69" r="3"/>
<circle cx="351.84" cy="517.99" r="3"/>
<circle cx="384.77" cy="490.65" r="3"/>
<circle cx="347.57" cy="521.24" r="3"/>
<circle cx="342.18" cy="527.88" r="3"/>
<circle cx="365.76" cy="505.4" r="3"/>
<circle cx="332.9" cy="543.8" r="3"/>
<circle cx="352.92" cy="517.42" r="3"/>
<circle cx="356.45" cy="516.22" r="3"/>
<circle cx="371.18" cy="501.72" r="3"/>
<circle cx="318.23" cy="553.99" r="3"/>
<circle cx="366.66" cy="506.25" r="3"/>
<circle cx="343.17" cy="529.44" r="3"/>
<circle cx="364.51" cy="511.4" r="3"/>
<circle cx="330.55" cy="538.33" r="3"/>
<circle cx="371.22" cy="498.95" r="3"/>
<circle cx="286.98" cy="584.79" r="3"/>
<circle cx="368.09" cy="508.01" r="3"/>
<circle cx="316.91" cy="553.95" r="3"/>
<circle cx="350.92" cy="521.15" r="3"/>
<circle cx="354.2" cy="517.39" r="3"/>
<circle cx="374.91" cy="500.3" r="3"/>
<circle cx="292.59" cy="581.68" r="3"/>
<circle cx="344.42" cy="528.21" r="3"/>
<circle cx="381.75" cy="492.07" r="3"/>
<circle cx="307.69" cy="574.52" r="3"/>
<circle cx="300.82" cy="566.44" r="3"/>
<circle cx="370.14" cy="503.44" r="3"/>
<circle cx="370.64" cy="502.52" r="3"/>
<circle cx="335.34" cy="535.36" r="3"/>
<circle cx="295.95" cy="579.43" r="3"/>
<circle cx="395.08" cy="477.99" r="3"/>
<circle cx="399.09" cy="478.02" r="3"/>
<circle cx="379.55" cy="492.17" r="3"/>
<circle cx="302.2" cy="580.24" r="3"/>
<circle cx="326.87" cy="546.81" r="3"/>
<circle cx="380.14" cy="491.48" r="3"/>
<circle cx="372.66" cy="499.98" r="3"/>
<circle cx="351.3" cy="517.02" r="3"/>
<circle cx="398.15" cy="476.28" r="3"/>
<circle cx="355.47" cy="520.46" r="3"/>
<circle cx="368.58" cy="508.37" r="3"/>
<circle cx="345.07" cy="527.83" r="3"/>
<circle cx="320.43" cy="557.97" r="3"/>
<circle cx="300.77" cy="575.93" r="3"/>
<circle cx="327.18" cy="538.5" r="3"/>
<circle cx="328.04" cy="542.91" r="3"/>
<circle cx="330.76" cy="542.99" r="3"/>
<circle cx="351.61" cy="526.7" r="3"/>
<circle cx="349.19" cy="529.22" r="3"/>
<circle cx="364.1" cy="509.25" r="3"/>
<circle cx="350.58" cy="523.56" r="3"/>
<circle cx="295.95" cy="582.29" r="3"/>
<circle cx="387.43" cy="483.28" r="3"/>
<circle cx="343.97" cy="527.17" r="3"/>
<circle cx="299.36" cy="581.24" r="3"/>
<circle cx="295.42" cy="575.08" r="3"/>
<circle cx="314.59" cy="558.16" r="3"/>
<circle cx="357.9" cy="519.82" r="3"/>
<circle cx="363.84" cy="509.72" r="3"/>
<circle cx="373.98" cy="501.3" r="3"/>
<circle cx="329.05" cy="546.32" r="3"/>
<circle cx="373.5" cy="501.79" r="3"/>
<circle cx="346.07" cy="526.79" r="3"/>
<circle cx="303.79" cy="574.56" r="3"/>
<circle cx="363.77" cy="505.45" r="3"/>
<circle cx="354.5" cy="519.25" r="3"/>
<circle cx="310.06" cy="567.47" r="3"/>
<circle cx="373.56" cy="500.76" r="3"/>
<circle cx="378.6" cy="493.97" r="3"/>
<circle cx="300.75" cy="574.51" r="3"/>
<circle cx="344.23" cy="532.08" r="3"/>
<circle cx="289.86" cy="580.58" r="3"/>
<circle cx="378.11" cy="492.98" r="3"/>
<circle cx="342.96" cy="533.8" r="3"/>
<circle cx="334.29" cy="541.53" r="3"/>
<circle cx="371.67" cy="499.51" r="3"/>
<circle cx="378.13" cy="496.5" r="3"/>
<circle cx="294.94" cy="579.59" r="3"/>
<circle cx="383.75" cy="493.63" r="3"/>
<circle cx="361.37" cy="511.48" r="3"/>
<circle cx="365.56" cy="511.81" r="3"/>
<circle cx="346.3" cy="530.86" r="3"/>
<circle cx="353.81" cy="518.16" r="3"/>
<circle cx="342.62" cy="532.87" r="3"/>
<circle cx="378.32" cy="494.18" r="3"/>
<circle cx="353.86" cy="525.85" r="3"/>
<circle cx="297.07" cy="576.98" r="3"/>
<circle cx="396.21" cy="482.84" r="3"/>
<circle cx="339.09" cy="536.13" r="3"/>
<circle cx="293.68" cy="580.09" r="3"/>
<circle cx="324.23" cy="548.62" r="3"/>
<circle cx="334.41" cy="534.53" r="3"/>
<circle cx="315.42" cy="562.51" r="3"/>
<circle cx="323" cy="553.53" r="3"/>
<circle cx="367.32" cy="505.94" r="3"/>
<circle cx="316.97" cy="559.94" r="3"/>
<circle cx="319.49" cy="557.42" r="3"/>
<circle cx="296.99" cy="577.6" r="3"/>
<circle cx="386.84" cy="482.06" r="3"/>
<circle cx="331.1" cy="536.13" r="3"/>
<circle cx="338.24" cy="541.04" r="3"/>
<circle cx="373.52" cy="503.54" r="3"/>
<circle cx="337.25" cy="535.78" r="3"/>
<circle cx="386.88" cy="484.28" r="3"/>
<circle cx="381.77" cy="491.5" r="3"/>
<circle cx="372.89" cy="498.32" r="3"/>
<circle cx="339.9" cy="535.67" r="3"/>
<circle cx="345.47" cy="526.65" r="3"/>
<circle cx="364.37" cy="503.72" r="3"/>
<circle cx="359.7" cy="511.75" r="3"/>
<circle cx="323.06" cy="553.15" r="3"/>
<circle cx="289.66" cy="583.43" r="3"/>
<circle cx="299.08" cy="573.74" r="3"/>
<circle cx="313.19" cy="554.37" r="3"/>
<circle cx="343.53" cy="528.59" r="3"/>
<circle cx="317.61" cy="551.99" r="3"/>
<circle cx="381.03" cy="491.88" r="3"/>
<circle cx="346.97" cy="529.48" r="3"/>
<circle cx="355.63" cy="514.95" r="3"/>
<circle cx="366.1" cy="507.43" r="3"/>
<circle cx="351.53" cy="524.41" r="3"/>
<circle cx="362.7" cy="509" r="3"/>
<circle cx="382.02" cy="489.08" r="3"/>
<circle cx="366.09" cy="502.28" r="3"/>
<circle cx="295.56" cy="575.86" r="3"/>
<circle cx="374.29" cy="498.28" r="3"/>
<circle cx="345.82" cy="528.17" r="3"/>
<circle cx="339.47" cy="530.36" r="3"/>
<circle cx="346.51" cy="524.22" r="3"/>
<circle cx="337.6" cy="529.03" r="3"/>
<circle cx="301.19" cy="572.55" r="3"/>
<circle cx="289.79" cy="583.24" r="3"/>
<circle cx="329.7" cy="541.66" r="3"/>
<circle cx="294.06" cy="579.88" r="3"/>
<circle cx="329.15" cy="544.54" r="3"/>
<circle cx="329.66" cy="539.98" r="3"/>
<circle cx="331.98" cy="539.94" r="3"/>
<circle cx="329.32" cy="540.95" r="3"/>
<circle cx="329.57" cy="549.22" r="3"/>
<circle cx="322.81" cy="548.95" r="3"/>
<circle cx="365.33" cy="500.99" r="3"/>
<circle cx="349.44" cy="527.38" r="3"/>
<circle cx="371.12" cy="502.03" r="3"/>
<circle cx="341.67" cy="528.76" r="3"/>
<circle cx="363.23" cy="510.06" r="3"/>
<circle cx="295.85" cy="573.77" r="3"/>
<circle cx="344.69" cy="526.03" r="3"/>
<circle cx="297.19" cy="581.08" r="3"/>
<circle cx="385.96" cy="488.94" r="3"/>
<circle cx="380.08" cy="492.54" r="3"/>
<circle cx="312.57" cy="563.09" r="3"/>
<circle cx="308.69" cy="563.55" r="3"/>
<circle cx="353.13" cy="517.69" r="3"/>
<circle cx="388.46" cy="488.4" r="3"/>
<circle cx="315.11" cy="560.46" r="3"/>
<circle cx="376.92" cy="497.71" r="3"/>
<circle cx="321.66" cy="550.8" r="3"/>
<circle cx="289.95" cy="582.07" r="3"/>
<circle cx="309.78" cy="568.4" r="3"/>
<circle cx="303.07" cy="572.46" r="3"/>
<circle cx="368.51" cy="506.96" r="3"/>
<circle cx="318.47" cy="555.98" r="3"/>
<circle cx="334.31" cy="538.7" r="3"/>
<circle cx="360.78" cy="512.24" r="3"/>
<circle cx="371.27" cy="498.84" r="3"/>
<circle cx="330.11" cy="542.88" r="3"/>
<circle cx="301.27" cy="577.06" r="3"/>
<circle cx="303.29" cy="571.45" r="3"/>
<circle cx="371.03" cy="498.85" r="3"/>
<circle cx="293.87" cy="575.07" r="3"/>
<circle cx="399.81" cy="477.46" r="3"/>
<circle cx="373.12" cy="502.37" r="3"/>
<circle cx="384.35" cy="494.21" r="3"/>
<circle cx="329.31" cy="544.9" r="3"/>
<circle cx="292.48" cy="579.24" r="3"/>
<circle cx="307.59" cy="564.36" r="3"/>
<circle cx="308.28" cy="575.11" r="3"/>
<circle cx="338.83" cy="537.06" r="3"/>
<circle cx="347.28" cy="525.95" r="3"/>
<circle cx="357.46" cy="513.9" r="3"/>
<circle cx="387.41" cy="489.57" r="3"/>
<circle cx="302.4" cy="574.33" r="3"/>
<circle cx="321.35" cy="546.68" r="3"/>
<circle cx="308.38" cy="561.73" r="3"/>
<circle cx="353.83" cy="521.91" r="3"/>
<circle cx="357.53" cy="515.15" r="3"/>
<circle cx="335.99" cy="534.02" r="3"/>
<circle cx="336.23" cy="535.76" r="3"/>
<circle cx="374.39" cy="502.27" r="3"/>
<circle cx="351" cy="519.9" r="3"/>
<circle cx="341.35" cy="531.48" r="3"/>
<circle cx="303.65" cy="572.01" r="3"/>
<circle cx="295.57" cy="582.61" r="3"/>
<circle cx="330.27" cy="544.43" r="3"/>
<circle cx="343.35" cy="526.49" r="3"/>
<circle cx="324.68" cy="545.99" r="3"/>
<circle cx="307.36" cy="563.27" r="3"/>
<circle cx="342.34" cy="531.43" r="3"/>
<circle cx="385.13" cy="484.59" r="3"/>
<circle cx="337.43" cy="535.78" r="3"/>
<circle cx="357.9" cy="514.07" r="3"/>
<circle cx="341.61" cy="533.33" r="3"/>
<circle cx="377.07" cy="501.51" r="3"/>
<circle cx="297.13" cy="574.31" r="3"/>
<circle cx="380.31" cy="495.94" r="3"/>
<circle cx="373.63" cy="500.4" r="3"/>
<circle cx="374.86" cy="494.37" r="3"/>
<circle cx="371.26" cy="502.7" r="3"/>
<circle cx="354.44" cy="523.63" r="3"/>
<circle cx="380.1" cy="492.81" r="3"/>
<circle cx="369.47" cy="503.38" r="3"/>
<circle cx="353.32" cy="517.78" r="3"/>
<circle cx="290.96" cy="582.47" r="3"/>
<circle cx="333.17" cy="535.62" r="3"/>
<circle cx="366.46" cy="504.48" r="3"/>
<circle cx="313.66" cy="560.84" r="3"/>
<circle cx="338.81" cy="537.71" r="3"/>
<circle cx="382.47" cy="495.75" r="3"/>
<circle cx="297.46" cy="581.71" r="3"/>
<circle cx="392.22" cy="478.32" r="3"/>
<circle cx="366.17" cy="507.14" r="3"/>
<circle cx="362.1" cy="507.14" r="3"/>
<circle cx="307.52" cy="572.88" r="3"/>
<circle cx="316.25" cy="555.94" r="3"/>
<circle cx="318.03" cy="555.56" r="3"/>
<circle cx="312.27" cy="563.97" r="3"/>
<circle cx="303.92" cy="571.84" r="3"/>
<circle cx="364.72" cy="507.16" r="3"/>
<circle cx="359.45" cy="509.43" r="3"/>
<circle cx="302.16" cy="572.7" r="3"/>
<circle cx="395.95" cy="481.86" r="3"/>
<circle cx="383.92" cy="490.23" r="3"/>
<circle cx="335.22" cy="538.11" r="3"/>
<circle cx="375" cy="499.36" r="3"/>
<circle cx="350.87" cy="520.54" r="3"/>
<circle cx="371.35" cy="500.02" r="3"/>
<circle cx="332.81" cy="542.45" r="3"/>
<circle cx="292.38" cy="581.81" r="3"/>
<circle cx="364.54" cy="511.37" r="3"/>
<circle cx="366.85" cy="505.6" r="3"/>
<circle cx="330.45" cy="538.21" r="3"/>
<circle cx="346.81" cy="525.13" r="3"/>
<circle cx="319.33" cy="554.15" r="3"/>
<circle cx="366.43" cy="506.55" r="3"/>
<circle cx="338.49" cy="534.87" r="3"/>
<circle cx="293.26" cy="575.42" r="3"/>
<circle cx="380.63" cy="495.13" r="3"/>
<circle cx="341.46" cy="529.61" r="3"/>
<circle cx="370.81" cy="503.89" r="3"/>
<circle cx="364.23" cy="508.7" r="3"/>
<circle cx="395.43" cy="479.83" r="3"/>
<circle cx="372.21" cy="497.18" r="3"/>
<circle cx="326.01" cy="548.27" r="3"/>
<circle cx="399.69" cy="476.16" r="3"/>
<circle cx="292.24" cy="583.19" r="3"/>
<circle cx="372.2" cy="502.15" r="3"/>
<circle cx="325.36" cy="543.14" r="3"/>
<circle cx="364.94" cy="506.52" r="3"/>
<circle cx="328.54" cy="547.04" r="3"/>
<circle cx="393.91" cy="479.03" r="3"/>
<circle cx="328.22" cy="545.05" r="3"/>
<circle cx="298.82" cy="576.21" r="3"/>
<circle cx="344.06" cy="530.83" r="3"/>
<circle cx="374.49" cy="497.21" r="3"/>
<circle cx="290.16" cy="582.06" r="3"/>
<circle cx="356.74" cy="518.78" r="3"/>
<circle cx="303.97" cy="572.38" r="3"/>
<circle cx="370.76" cy="503.35" r="3"/>
<circle cx="314.05" cy="559.9" r="3"/>
<circle cx="295.49" cy="583.18" r="3"/>
<circle cx="299" cy="577.93" r="3"/>
<circle cx="348.41" cy="523.04" r="3"/>
<circle cx="369.41" cy="500" r="3"/>
<circle cx="381.34" cy="488.57" r="3"/>
<circle cx="377.46" cy="493.86" r="3"/>
<circle cx="379.33" cy="496.91" r="3"/>
<circle cx="356.57" cy="518.66" r="3"/>
<circle cx="351.67" cy="519.04" r="3"/>
<circle cx="376.91" cy="498.27" r="3"/>
<circle cx="378.92" cy="493.21" r="3"/>
<circle cx="313.24" cy="556.94" r="3"/>
<circle cx="375.14" cy="494.53" r="3"/>
<circle cx="384.29" cy="490.25" r="3"/>
<circle cx="387.9" cy="482.79" r="3"/>
<circle cx="385.01" cy="491.14" r="3"/>
<circle cx="343.12" cy="530.93" r="3"/>
<circle cx="307.08" cy="571.86" r="3"/>
<circle cx="378.55" cy="490.72" r="3"/>
<circle cx="366.91" cy="503.36" r="3"/>
<circle cx="370.12" cy="503.8" r="3"/>
<circle cx="360.36" cy="512.64" r="3"/>
<circle cx="363.28" cy="509.08" r="3"/>
<circle cx="341.11" cy="531.37" r="3"/>
<circle cx="335.21" cy="534.06" r="3"/>
<circle cx="348.66" cy="524.02" r="3"/>
<circle cx="384.28" cy="491.66" r="3"/>
<circle cx="331.01" cy="542.59" r="3"/>
<circle cx="325.55" cy="550.3" r="3"/>
<circle cx="387.21" cy="483.85" r="3"/>
<circle cx="325.1" cy="548.67" r="3"/>
<circle cx="374" cy="495.86" r="3"/>
<circle cx="348.71" cy="522.02" r="3"/>
<circle cx="343.33" cy="532.98" r="3"/>
<circle cx="359.43" cy="514.67" r="3"/>
<circle cx="327.23" cy="545.48" r="3"/>
<circle cx="357.89" cy="519.15" r="3"/>
<circle cx="337.74" cy="535.14" r="3"/>
<circle cx="347.15" cy="522.36" r="3"/>
<circle cx="376.12" cy="492.97" r="3"/>
<circle cx="400.79" cy="476.83" r="3"/>
<circle cx="380.88" cy="492.4" r="3"/>
<circle cx="363.12" cy="509.48" r="3"/>
<circle cx="309.51" cy="562.85" r="3"/>
<circle cx="372.34" cy="501.8" r="3"/>
<circle cx="291.58" cy="582.44" r="3"/>
<circle cx="358.5" cy="514.8" r="3"/>
<circle cx="359.21" cy="510.17" r="3"/>
<circle cx="359.01" cy="517.48" r="3"/>
<circle cx="356.82" cy="517.36" r="3"/>
<circle cx="359.83" cy="512.92" r="3"/>
<circle cx="353.83" cy="517.13" r="3"/>
<circle cx="335.03" cy="539.71" r="3"/>
<circle cx="299.86" cy="576.07" r="3"/>
<circle cx="317.8" cy="554.97" r="3"/>
<circle cx="398.81" cy="474.44" r="3"/>
<circle cx="314.39" cy="556.86" r="3"/>
<circle cx="362.5" cy="512.32" r="3"/>
<circle cx="391" cy="483.71" r="3"/>
<circle cx="391.13" cy="482.52" r="3"/>
<circle cx="381.83" cy="490.18" r="3"/>
<circle cx="354.46" cy="518.21" r="3"/>
<circle cx="394.32" cy="479.58" r="3"/>
<circle cx="360.47" cy="516.82" r="3"/>
<circle cx="318.89" cy="554.35" r="3"/>
<circle cx="377.58" cy="498.07" r="3"/>
<circle cx="308" cy="563.08" r="3"/>
<circle cx="342.37" cy="528.13" r="3"/>
<circle cx="337.79" cy="538.08" r="3"/>
<circle cx="352.98" cy="516.09" r="3"/>
<circle cx="333.85" cy="540.94" r="3"/>
<circle cx="315.68" cy="553.64" r="3"/>
<circle cx="306.37" cy="569.1" r="3"/>
<circle cx="326" cy="548.45" r="3"/>
<circle cx="368.54" cy="501.44" r="3"/>
<circle cx="360.91" cy="515.01" r="3"/>
<circle cx="357.73" cy="512.35" r="3"/>
<circle cx="319.21" cy="552.77" r="3"/>
<circle cx="357.87" cy="510.76" r="3"/>
<circle cx="290.16" cy="583.86" r="3"/>
<circle cx="387.14" cy="483.91" r="3"/>
<circle cx="345.24" cy="523.5" r="3"/>
<circle cx="338.78" cy="536.23" r="3"/>
<circle cx="332.83" cy="542.46" r="3"/>
<circle cx="375.18" cy="497.42" r="3"/>
<circle cx="345.19" cy="527.97" r="3"/>
<circle cx="339.88" cy="530.28" r="3"/>
<circle cx="352.89" cy="520.21" r="3"/>
<circle cx="375.1" cy="495.07" r="3"/>
<circle cx="331.69" cy="541.73" r="3"/>
<circle cx="374.52" cy="499.88" r="3"/>
<circle cx="369.67" cy="508.14" r="3"/>
<circle cx="312.3" cy="565.09" r="3"/>
<circle cx="368.92" cy="504.21" r="3"/>
<circle cx="366.93" cy="510.25" r="3"/>
<circle cx="381.39" cy="494.17" r="3"/>
<circle cx="302.3" cy="571.66" r="3"/>
<circle cx="347.33" cy="524.7" r="3"/>
<circle cx="370.31" cy="502.25" r="3"/>
<circle cx="304.07" cy="571.06" r="3"/>
<circle cx="368.42" cy="507.11" r="3"/>
<circle cx="366.41" cy="508.82" r="3"/>
<circle cx="339.1" cy="530.09" r="3"/>
<circle cx="309.46" cy="567.06" r="3"/>
<circle cx="358.93" cy="512" r="3"/>
<circle cx="339.63" cy="527.09" r="3"/>
<circle cx="359.36" cy="512.65" r="3"/>
<circle cx="309.04" cy="562.25" r="3"/>
<circle cx="303.53" cy="563.53" r="3"/>
<circle cx="344.97" cy="526.07" r="3"/>
<circle cx="331.2" cy="543.51" r="3"/>
<circle cx="357.67" cy="510.78" r="3"/>
<circle cx="352.89" cy="519.95" r="3"/>
<circle cx="335.07" cy="534.68" r="3"/>
<circle cx="380.64" cy="492.92" r="3"/>
<circle cx="370.38" cy="504.53" r="3"/>
<circle cx="307.39" cy="564.55" r="3"/>
<circle cx="396.51" cy="474.23" r="3"/>
<circle cx="407.8" cy="454.55" r="3"/>
<circle cx="396.16" cy="467.67" r="3"/>
<circle cx="405.19" cy="461.89" r="3"/>
<circle cx="435.81" cy="434.33" r="3"/>
<circle cx="425.82" cy="441.52" r="3"/>
<circle cx="428.13" cy="437.97" r="3"/>
<circle cx="410.13" cy="459.17" r="3"/>
<circle cx="434.68" cy="434.29" r="3"/>
<circle cx="398.21" cy="467.54" r="3"/>
<circle cx="436.79" cy="431.51" r="3"/>
<circle cx="423.19" cy="442.88" r="3"/>
<circle cx="443.71" cy="426.98" r="3"/>
<circle cx="417.93" cy="448.05" r="3"/>
<circle cx="426.68" cy="442.4" r="3"/>
<circle cx="407.98" cy="462.88" r="3"/>
<circle cx="428.72" cy="436.79" r="3"/>
<circle cx="419.91" cy="451.76" r="3"/>
<circle cx="422.98" cy="446.01" r="3"/>
<circle cx="446.48" cy="421.95" r="3"/>
<circle cx="418.95" cy="453.19" r="3"/>
<circle cx="438.27" cy="432.47" r="3"/>
<circle cx="402.53" cy="464.11" r="3"/>
<circle cx="340.51" cy="520.57" r="3"/>
<circle cx="394.72" cy="467.36" r="3"/>
<circle cx="339.91" cy="521.99" r="3"/>
<circle cx="366.86" cy="508.47" r="3"/>
<circle cx="368.83" cy="484.22" r="3"/>
<circle cx="299.59" cy="567.9" r="3"/>
<circle cx="316.14" cy="547.6" r="3"/>
<circle cx="388.94" cy="527.36" r="3"/>
<circle cx="396.26" cy="467.73" r="3"/>
<circle cx="345.28" cy="507.58" r="3"/>
</g><g fill="#ff1420" fill-opacity="0.45">
<circle cx="346.61" cy="521.04" r="3"/>
<circle cx="382.99" cy="475.58" r="3"/>
<circle cx="310.1" cy="548.56" r="3"/>
<circle cx="340.55" cy="549.49" r="3"/>
<circle cx="355.41" cy="519.88" r="3"/>
<circle cx="351.35" cy="501" r="3"/>
<circle cx="394.68" cy="485.36" r="3"/>
<circle cx="350.57" cy="517.19" r="3"/>
<circle cx="344.52" cy="525.49" r="3"/>
<circle cx="337.5" cy="532.65" r="3"/>
<circle cx="331.28" cy="533.26" r="3"/>
<circle cx="395.07" cy="468.78" r="3"/>
<circle cx="333.4" cy="533.24" r="3"/>
<circle cx="313.62" cy="560.65" r="3"/>
<circle cx="349.19" cy="521.78" r="3"/>
<circle cx="352.77" cy="524.26" r="3"/>
<circle cx="367.56" cy="505.4" r="3"/>
<circle cx="335.54" cy="543.26" r="3"/>
<circle cx="316.37" cy="549.2" r="3"/>
<circle cx="357.21" cy="499.6" r="3"/>
<circle cx="311.35" cy="552.42" r="3"/>
<circle cx="337.46" cy="503.41" r="3"/>
<circle cx="359.55" cy="513.55" r="3"/>
<circle cx="357.59" cy="518.73" r="3"/>
<circle cx="358.44" cy="520.48" r="3"/>
<circle cx="355.85" cy="519.42" r="3"/>
<circle cx="330.22" cy="545.47" r="3"/>
<circle cx="336.99" cy="532.79" r="3"/>
<circle cx="308.17" cy="560.93" r="3"/>
<circle cx="317.29" cy="548.41" r="3"/>
<circle cx="350.24" cy="533.03" r="3"/>
<circle cx="353.37" cy="531.77" r="3"/>
<circle cx="342.91" cy="535.88" r="3"/>
<circle cx="335.08" cy="509.1" r="3"/>
<circle cx="334.54" cy="542.76" r="3"/>
<circle cx="331.02" cy="529.14" r="3"/>
<circle cx="346.77" cy="528.39" r="3"/>
<circle cx="321.14" cy="551.51" r="3"/>
<circle cx="361.71" cy="500.44" r="3"/>
<circle cx="324.82" cy="546.96" r="3"/>
<circle cx="372.85" cy="491.06" r="3"/>
<circle cx="367.62" cy="502.46" r="3"/>
<circle cx="337.59" cy="514.32" r="3"/>
<circle cx="351.5" cy="521.71" r="3"/>
<circle cx="325.56" cy="543.22" r="3"/>
<circle cx="358.08" cy="518.07" r="3"/>
<circle cx="318.23" cy="544.31" r="3"/>
<circle cx="342.86" cy="521.85" r="3"/>
<circle cx="368.22" cy="520.25" r="3"/>
<circle cx="323.79" cy="570.52" r="3"/>
<circle cx="309.33" cy="573.75" r="3"/>
<circle cx="391.63" cy="480.57" r="3"/>
<circle cx="324.15" cy="521.12" r="3"/>
<circle cx="346.13" cy="516.32" r="3"/>
<circle cx="336.49" cy="550.09" r="3"/>
<circle cx="314.19" cy="565.92" r="3"/>
<circle cx="336.27" cy="522.75" r="3"/>
<circle cx="363.51" cy="512.66" r="3"/>
<circle cx="357.64" cy="532.58" r="3"/>
<circle cx="318.36" cy="550.82" r="3"/>
<circle cx="324.78" cy="556.74" r="3"/>
<circle cx="312.76" cy="548.27" r="3"/>
<circle cx="323.47" cy="547.86" r="3"/>
<circle cx="343.5" cy="525.2" r="3"/>
<circle cx="346.2" cy="520.73" r="3"/>
<circle cx="329.8" cy="546.11" r="3"/>
<circle cx="329.48" cy="535.27" r="3"/>
<circle cx="306.61" cy="554.78" r="3"/>
<circle cx="343.3" cy="522.89" r="3"/>
<circle cx="328.28" cy="542.46" r="3"/>
<circle cx="344.86" cy="524.39" r="3"/>
<circle cx="332.55" cy="543.87" r="3"/>
<circle cx="327.18" cy="546.9" r="3"/>
<circle cx="333.16" cy="530.66" r="3"/>
<circle cx="313.19" cy="545.11" r="3"/>
<circle cx="338.92" cy="517.79" r="3"/>
<circle cx="320.17" cy="538.97" r="3"/>
<circle cx="301.06" cy="556.34" r="3"/>
<circle cx="312.65" cy="571.83" r="3"/>
<circle cx="325.55" cy="531.42" r="3"/>
<circle cx="354.83" cy="511.81" r="3"/>
<circle cx="316.3" cy="562.2" r="3"/>
<circle cx="324.4" cy="541.54" r="3"/>
<circle cx="311.83" cy="545.3" r="3"/>
<circle cx="318.73" cy="560.73" r="3"/>
<circle cx="340.62" cy="541.06" r="3"/>
<circle cx="337.61" cy="528.11" r="3"/>
<circle cx="353.45" cy="514.69" r="3"/>
<circle cx="335.5" cy="519.3" r="3"/>
<circle cx="326.8" cy="543.7" r="3"/>
<circle cx="310.77" cy="541.74" r="3"/>
<circle cx="323.07" cy="552.44" r="3"/>
<circle cx="318.24" cy="553.99" r="3"/>
<circle cx="351.08" cy="530.05" r="3"/>
<circle cx="342.87" cy="539" r="3"/>
<circle cx="349.19" cy="546.36" r="3"/>
<circle cx="312.65" cy="550.53" r="3"/>
<circle cx="329.6" cy="546.06" r="3"/>
<circle cx="353.89" cy="518.54" r="3"/>
<circle cx="388.19" cy="468.77" r="3"/>
<circle cx="361.43" cy="489.26" r="3"/>
<circle cx="335.15" cy="530.85" r="3"/>
<circle cx="310.13" cy="571.77" r="3"/>
<circle cx="370.23" cy="501.7" r="3"/>
<circle cx="328.46" cy="540.17" r="3"/>
<circle cx="322.3" cy="547.36" r="3"/>
<circle cx="310.53" cy="559.99" r="3"/>
<circle cx="356.04" cy="520.22" r="3"/>
<circle cx="336.79" cy="534.21" r="3"/>
<circle cx="324.88" cy="537.29" r="3"/>
<circle cx="302.77" cy="558.77" r="3"/>
<circle cx="325.85" cy="526.34" r="3"/>
<circle cx="337.71" cy="518.63" r="3"/>
<circle cx="343.48" cy="514.1" r="3"/>
<circle cx="360.73" cy="532.77" r="3"/>
<circle cx="307.73" cy="563.32" r="3"/>
<circle cx="349.87" cy="522.98" r="3"/>
<circle cx="354.48" cy="500.44" r="3"/>
<circle cx="382.97" cy="492.23" r="3"/>
<circle cx="323.03" cy="549.42" r="3"/>
<circle cx="356.93" cy="520.08" r="3"/>
<circle cx="325.44" cy="538.65" r="3"/>
<circle cx="331.36" cy="534.97" r="3"/>
<circle cx="325.41" cy="532.32" r="3"/>
<circle cx="347.5" cy="515.73" r="3"/>
<circle cx="330.33" cy="544.58" r="3"/>
<circle cx="316.76" cy="555.67" r="3"/>
<circle cx="330.11" cy="553.37" r="3"/>
<circle cx="340.78" cy="523.68" r="3"/>
<circle cx="311.95" cy="560.29" r="3"/>
<circle cx="363.45" cy="496.48" r="3"/>
<circle cx="321.73" cy="533.45" r="3"/>
<circle cx="317.55" cy="538.92" r="3"/>
<circle cx="331.83" cy="547.07" r="3"/>
<circle cx="327.87" cy="551.09" r="3"/>
<circle cx="315.51" cy="554.78" r="3"/>
<circle cx="335.24" cy="543.26" r="3"/>
<circle cx="347.15" cy="533.38" r="3"/>
<circle cx="345.68" cy="524.39" r="3"/>
<circle cx="350.53" cy="526.49" r="3"/>
<circle cx="397.57" cy="463.24" r="3"/>
<circle cx="309.28" cy="557.32" r="3"/>
<circle cx="317.59" cy="559.06" r="3"/>
<circle cx="339.72" cy="511.45" r="3"/>
<circle cx="319.99" cy="531.27" r="3"/>
<circle cx="349.27" cy="522.22" r="3"/>
<circle cx="336.59" cy="538.51" r="3"/>
<circle cx="339.13" cy="514.92" r="3"/>
<circle cx="332.84" cy="532.1" r="3"/>
<circle cx="315.95" cy="559.15" r="3"/>
<circle cx="333.39" cy="528.64" r="3"/>
<circle cx="386.02" cy="478.14" r="3"/>
<circle cx="332.71" cy="543.57" r="3"/>
<circle cx="398.07" cy="470.77" r="3"/>
<circle cx="318.43" cy="541.7" r="3"/>
<circle cx="378.13" cy="480.43" r="3"/>
<circle cx="322.83" cy="561.33" r="3"/>
<circle cx="352.26" cy="529.74" r="3"/>
<circle cx="364.72" cy="507.05" r="3"/>
<circle cx="325.76" cy="551.59" r="3"/>
<circle cx="347.27" cy="527.34" r="3"/>
<circle cx="322.31" cy="535.95" r="3"/>
<circle cx="328.38" cy="547.09" r="3"/>
<circle cx="308.38" cy="549.77" r="3"/>
<circle cx="339.01" cy="534.2" r="3"/>
<circle cx="352.69" cy="515.49" r="3"/>
<circle cx="302.87" cy="556.81" r="3"/>
<circle cx="338.58" cy="518.15" r="3"/>
<circle cx="340.39" cy="535.69" r="3"/>
<circle cx="335.47" cy="526.96" r="3"/>
<circle cx="322.81" cy="551.87" r="3"/>
<circle cx="344.02" cy="523.02" r="3"/>
<circle cx="352.07" cy="503.89" r="3"/>
<circle cx="386.64" cy="478.48" r="3"/>
<circle cx="341.54" cy="519.17" r="3"/>
<circle cx="343.05" cy="537.72" r="3"/>
<circle cx="304.48" cy="557.51" r="3"/>
<circle cx="354.57" cy="512.04" r="3"/>
<circle cx="311.95" cy="564.42" r="3"/>
<circle cx="366.04" cy="522.55" r="3"/>
<circle cx="327.35" cy="540.98" r="3"/>
<circle cx="312.68" cy="554.5" r="3"/>
<circle cx="330.43" cy="552.23" r="3"/>
<circle cx="317.29" cy="568.21" r="3"/>
<circle cx="376.16" cy="490.1" r="3"/>
<circle cx="322.48" cy="547.72" r="3"/>
<circle cx="322.93" cy="549.16" r="3"/>
<circle cx="321.23" cy="549.25" r="3"/>
<circle cx="333.22" cy="554.53" r="3"/>
<circle cx="331.77" cy="554.6" r="3"/>
<circle cx="320.11" cy="536.67" r="3"/>
<circle cx="333.95" cy="536.32" r="3"/>
<circle cx="341.53" cy="520.65" r="3"/>
<circle cx="326.71" cy="527.46" r="3"/>
<circle cx="399.69" cy="455.05" r="3"/>
<circle cx="377.07" cy="465.01" r="3"/>
<circle cx="374.76" cy="515.65" r="3"/>
<circle cx="418.75" cy="503.58" r="3"/>
<circle cx="339.58" cy="557.87" r="3"/>
<circle cx="343.24" cy="551.33" r="3"/>
<circle cx="375.4" cy="500.49" r="3"/>
<circle cx="356.72" cy="546.81" r="3"/>
<circle cx="348.24" cy="532.73" r="3"/>
<circle cx="312.25" cy="537.59" r="3"/>
<circle cx="393.85" cy="486.76" r="3"/>
<circle cx="355.77" cy="522.59" r="3"/>
<circle cx="344.65" cy="564.32" r="3"/>
<circle cx="331.32" cy="551.53" r="3"/>
<circle cx="351.97" cy="523.8" r="3"/>
<circle cx="342.38" cy="509.53" r="3"/>
<circle cx="396.63" cy="512.99" r="3"/>
<circle cx="369.12" cy="453.55" r="3"/>
<circle cx="411.73" cy="471.11" r="3"/>
<circle cx="365.42" cy="506.6" r="3"/>
<circle cx="401.22" cy="511.41" r="3"/>
<circle cx="370.13" cy="481.08" r="3"/>
<circle cx="347.81" cy="505.98" r="3"/>
<circle cx="330.87" cy="553.56" r="3"/>
<circle cx="375.17" cy="506.04" r="3"/>
<circle cx="372.29" cy="522.33" r="3"/>
</g></g>
<rect x="277.8" y="413.5" width="182.5" height="181.8" fill="none" stroke="#141414" stroke-width="1.25"/>
<path d="M277.8,595.3h3 M277.8,595.3v-3 M277.8,569.33h1.6 M303.87,595.3v-1.6 M277.8,543.36h3 M329.94,595.3v-3 M277.8,517.39h1.6 M356.01,595.3v-1.6 M277.8,491.41h3 M382.09,595.3v-3 M277.8,465.44h1.6 M408.16,595.3v-1.6 M277.8,439.47h3 M434.23,595.3v-3 M277.8,413.5h1.6 M460.3,595.3v-1.6" stroke="#141414" stroke-width="1.1" fill="none"/>
<text x="274.2" y="598.37" font-size="9.3" text-anchor="end" font-weight="bold" fill="#000" >0</text>
<text x="277.8" y="606.5" font-size="9.3" text-anchor="middle" font-weight="bold" fill="#000" >0</text>
<text x="274.2" y="546.43" font-size="9.3" text-anchor="end" font-weight="bold" fill="#000" >200</text>
<text x="329.94" y="606.5" font-size="9.3" text-anchor="middle" font-weight="bold" fill="#000" >200</text>
<text x="274.2" y="494.48" font-size="9.3" text-anchor="end" font-weight="bold" fill="#000" >400</text>
<text x="382.09" y="606.5" font-size="9.3" text-anchor="middle" font-weight="bold" fill="#000" >400</text>
<text x="274.2" y="442.54" font-size="9.3" text-anchor="end" font-weight="bold" fill="#000" >600</text>
<text x="434.23" y="606.5" font-size="9.3" text-anchor="middle" font-weight="bold" fill="#000" >600</text>
<circle cx="283.4" cy="421.8" r="3.1" fill="#8cc6ff"/>
<circle cx="283.4" cy="435.7" r="3.1" fill="#ff8e8e"/>
<text x="294.3" y="424.7" font-size="11.2" text-anchor="start" font-weight="bold" fill="#000" >Train , RMSE = 23.2</text>
<text x="294.3" y="438.6" font-size="11.2" text-anchor="start" font-weight="bold" fill="#000" >Test , RMSE = 58.4</text>
<path transform="translate(375.9,576.7) scale(8)" d="M0.5,0.97 L0.12,0.56 C-0.06,0.37 -0.02,0.06 0.23,0.04 C0.36,0.03 0.46,0.12 0.5,0.23 C0.54,0.12 0.64,0.03 0.77,0.04 C1.02,0.06 1.06,0.37 0.88,0.56 Z" fill="#0808f5"/>
<text x="385.8" y="584.5" font-size="10.4" text-anchor="start" font-weight="bold" fill="#000" >A and B sparate</text>
<text x="371.95" y="621.6" font-size="14" font-weight="bold" text-anchor="middle">Predicted <tspan font-style="italic">d</tspan><tspan font-size="8.4" dy="3.5">33</tspan><tspan dy="-3.5"> (pC N</tspan><tspan font-size="8.4" dy="-5">-1</tspan><tspan dy="5">)</tspan></text>
<text transform="translate(252.5,502.9) rotate(-90)" font-size="14" font-weight="bold" text-anchor="middle">Experimental <tspan font-style="italic">d</tspan><tspan font-size="8.4" dy="3.5">33</tspan><tspan dy="-3.5"> (pC N</tspan><tspan font-size="8.4" dy="-5">-1</tspan><tspan dy="5">)</tspan></text>
<g clip-path="url(#clip68)">
<g fill="#2591ff" fill-opacity="0.45">
<circle cx="547.89" cy="589.29" r="3"/>
<circle cx="524.53" cy="592.34" r="3"/>
<circle cx="530.12" cy="591.98" r="3"/>
<circle cx="516.81" cy="589.75" r="3"/>
<circle cx="509.7" cy="588.18" r="3"/>
<circle cx="559.52" cy="590.16" r="3"/>
<circle cx="508.97" cy="590.87" r="3"/>
<circle cx="510.18" cy="589.6" r="3"/>
<circle cx="521.18" cy="592.72" r="3"/>
<circle cx="531.46" cy="591.21" r="3"/>
<circle cx="526.57" cy="588.59" r="3"/>
<circle cx="516.13" cy="593.08" r="3"/>
<circle cx="517.13" cy="583.98" r="3"/>
<circle cx="516.42" cy="593.53" r="3"/>
<circle cx="531.58" cy="588.15" r="3"/>
<circle cx="534.61" cy="591.08" r="3"/>
<circle cx="533.31" cy="593.63" r="3"/>
<circle cx="535.21" cy="593.6" r="3"/>
<circle cx="529.73" cy="592.58" r="3"/>
<circle cx="510.93" cy="592.86" r="3"/>
<circle cx="511.77" cy="589.1" r="3"/>
<circle cx="511.31" cy="585.64" r="3"/>
<circle cx="523.77" cy="587.72" r="3"/>
<circle cx="513.75" cy="591.34" r="3"/>
<circle cx="511.73" cy="593.48" r="3"/>
<circle cx="514.35" cy="591.8" r="3"/>
<circle cx="544.13" cy="592.51" r="3"/>
<circle cx="541.95" cy="584.2" r="3"/>
<circle cx="511.29" cy="588.14" r="3"/>
<circle cx="542.01" cy="589.34" r="3"/>
<circle cx="516.62" cy="593.38" r="3"/>
<circle cx="511.02" cy="587.51" r="3"/>
<circle cx="568.26" cy="533.64" r="3"/>
<circle cx="532.68" cy="571.9" r="3"/>
<circle cx="565.89" cy="528" r="3"/>
<circle cx="534.38" cy="562.74" r="3"/>
<circle cx="549.96" cy="545.2" r="3"/>
<circle cx="539.99" cy="571.12" r="3"/>
<circle cx="552.45" cy="544.39" r="3"/>
<circle cx="597.95" cy="498.72" r="3"/>
<circle cx="588.21" cy="510.53" r="3"/>
<circle cx="545.83" cy="553.15" r="3"/>
<circle cx="527.14" cy="581.1" r="3"/>
<circle cx="583.98" cy="509.76" r="3"/>
<circle cx="596.54" cy="500.39" r="3"/>
<circle cx="556.72" cy="539.69" r="3"/>
<circle cx="551.84" cy="548.21" r="3"/>
<circle cx="534.96" cy="577.49" r="3"/>
<circle cx="567.65" cy="526.24" r="3"/>
<circle cx="612.4" cy="482.66" r="3"/>
<circle cx="597.68" cy="498.28" r="3"/>
<circle cx="572.91" cy="523.89" r="3"/>
<circle cx="567.51" cy="528.45" r="3"/>
<circle cx="549.24" cy="537.26" r="3"/>
<circle cx="580.29" cy="508.33" r="3"/>
<circle cx="587.47" cy="513.97" r="3"/>
<circle cx="601.91" cy="491" r="3"/>
<circle cx="602.83" cy="489.06" r="3"/>
<circle cx="585.04" cy="514.94" r="3"/>
<circle cx="615.87" cy="483.44" r="3"/>
<circle cx="606.89" cy="484.51" r="3"/>
<circle cx="553.67" cy="536.47" r="3"/>
<circle cx="563.23" cy="531.15" r="3"/>
<circle cx="615.1" cy="482.28" r="3"/>
<circle cx="571.11" cy="531.6" r="3"/>
<circle cx="528.56" cy="560.67" r="3"/>
<circle cx="574.75" cy="521.53" r="3"/>
<circle cx="600.14" cy="498.6" r="3"/>
<circle cx="582.77" cy="509.31" r="3"/>
<circle cx="590.99" cy="510.87" r="3"/>
<circle cx="539.21" cy="559.91" r="3"/>
<circle cx="602.3" cy="490.96" r="3"/>
<circle cx="560.14" cy="537.94" r="3"/>
<circle cx="569.78" cy="518.95" r="3"/>
<circle cx="604.83" cy="490.3" r="3"/>
<circle cx="550.58" cy="546.34" r="3"/>
<circle cx="545.88" cy="553.1" r="3"/>
<circle cx="557.23" cy="546.33" r="3"/>
<circle cx="590.17" cy="506.45" r="3"/>
<circle cx="538.71" cy="563.71" r="3"/>
<circle cx="564.83" cy="528.31" r="3"/>
<circle cx="570.78" cy="532.42" r="3"/>
<circle cx="531.05" cy="564.87" r="3"/>
<circle cx="533.16" cy="570.28" r="3"/>
<circle cx="573.9" cy="515.55" r="3"/>
<circle cx="588.54" cy="504.9" r="3"/>
<circle cx="562.95" cy="533.57" r="3"/>
<circle cx="556.5" cy="536.72" r="3"/>
<circle cx="553.39" cy="548.06" r="3"/>
<circle cx="536.87" cy="554.06" r="3"/>
<circle cx="560.93" cy="525.81" r="3"/>
<circle cx="533.25" cy="562.09" r="3"/>
<circle cx="546.5" cy="542.57" r="3"/>
<circle cx="528.97" cy="558.58" r="3"/>
<circle cx="587.37" cy="513.32" r="3"/>
<circle cx="591.54" cy="506.55" r="3"/>
<circle cx="612.49" cy="479.4" r="3"/>
<circle cx="552.17" cy="553.62" r="3"/>
<circle cx="563.96" cy="524.46" r="3"/>
<circle cx="562.36" cy="540.84" r="3"/>
<circle cx="549.11" cy="550.83" r="3"/>
<circle cx="570.28" cy="526.29" r="3"/>
<circle cx="527.12" cy="565.42" r="3"/>
<circle cx="604.53" cy="495.18" r="3"/>
<circle cx="602.08" cy="496.03" r="3"/>
<circle cx="548.15" cy="539.44" r="3"/>
<circle cx="608.94" cy="485.6" r="3"/>
<circle cx="605.26" cy="492.55" r="3"/>
<circle cx="561.99" cy="540.78" r="3"/>
<circle cx="566.67" cy="528.09" r="3"/>
<circle cx="559.61" cy="540.27" r="3"/>
<circle cx="601.15" cy="493.29" r="3"/>
<circle cx="610.98" cy="484.23" r="3"/>
<circle cx="572.4" cy="528.76" r="3"/>
<circle cx="557.82" cy="537.45" r="3"/>
<circle cx="580.25" cy="515.36" r="3"/>
<circle cx="577.78" cy="516.3" r="3"/>
<circle cx="613.44" cy="485.02" r="3"/>
<circle cx="592.62" cy="500.86" r="3"/>
<circle cx="553.78" cy="542.48" r="3"/>
<circle cx="566.1" cy="521.26" r="3"/>
<circle cx="559.84" cy="538.68" r="3"/>
<circle cx="600.66" cy="494.49" r="3"/>
<circle cx="604.69" cy="491.93" r="3"/>
<circle cx="552.51" cy="539.8" r="3"/>
<circle cx="554.62" cy="539.86" r="3"/>
<circle cx="610.89" cy="489.01" r="3"/>
<circle cx="572.65" cy="528.44" r="3"/>
<circle cx="553.18" cy="545.88" r="3"/>
<circle cx="569.52" cy="528.95" r="3"/>
<circle cx="579.62" cy="512.33" r="3"/>
<circle cx="567.99" cy="522.42" r="3"/>
<circle cx="551.72" cy="536.19" r="3"/>
<circle cx="593.55" cy="506.08" r="3"/>
<circle cx="620.6" cy="491.06" r="3"/>
<circle cx="604.47" cy="494.16" r="3"/>
<circle cx="596.62" cy="501.51" r="3"/>
<circle cx="576.54" cy="523.14" r="3"/>
<circle cx="522.04" cy="576.4" r="3"/>
<circle cx="602.37" cy="503.59" r="3"/>
<circle cx="524.1" cy="573.62" r="3"/>
<circle cx="554.8" cy="538.48" r="3"/>
<circle cx="519.03" cy="578.04" r="3"/>
<circle cx="514.78" cy="582.29" r="3"/>
<circle cx="525.2" cy="571.72" r="3"/>
<circle cx="573.26" cy="524.51" r="3"/>
<circle cx="544.17" cy="552.73" r="3"/>
<circle cx="558.9" cy="536.59" r="3"/>
<circle cx="597.74" cy="496.14" r="3"/>
<circle cx="555.84" cy="535.61" r="3"/>
<circle cx="575.39" cy="525.15" r="3"/>
<circle cx="534.78" cy="563.16" r="3"/>
<circle cx="570.87" cy="522.06" r="3"/>
<circle cx="537.36" cy="545.97" r="3"/>
<circle cx="593.43" cy="502.21" r="3"/>
<circle cx="600.85" cy="497.11" r="3"/>
<circle cx="586.62" cy="514.38" r="3"/>
<circle cx="580.42" cy="516.06" r="3"/>
<circle cx="584.2" cy="515.49" r="3"/>
<circle cx="571.58" cy="528.51" r="3"/>
<circle cx="593.64" cy="500.25" r="3"/>
<circle cx="585.74" cy="508.35" r="3"/>
<circle cx="578.93" cy="512.23" r="3"/>
<circle cx="559.57" cy="542.62" r="3"/>
<circle cx="595.92" cy="501.14" r="3"/>
<circle cx="520.74" cy="570.66" r="3"/>
<circle cx="558.12" cy="538.6" r="3"/>
<circle cx="557.76" cy="539.55" r="3"/>
<circle cx="574.54" cy="518.39" r="3"/>
<circle cx="579.9" cy="514.99" r="3"/>
<circle cx="572.14" cy="517.79" r="3"/>
<circle cx="534.35" cy="571.14" r="3"/>
<circle cx="522.62" cy="574.53" r="3"/>
<circle cx="556.26" cy="538.66" r="3"/>
<circle cx="582.3" cy="516.33" r="3"/>
<circle cx="555.61" cy="542.96" r="3"/>
<circle cx="582.9" cy="511.85" r="3"/>
<circle cx="595.05" cy="501.81" r="3"/>
<circle cx="570.79" cy="525.88" r="3"/>
<circle cx="577.6" cy="524.38" r="3"/>
<circle cx="621.47" cy="478.91" r="3"/>
<circle cx="528.39" cy="562.82" r="3"/>
<circle cx="602.19" cy="494.22" r="3"/>
<circle cx="611.5" cy="483.92" r="3"/>
<circle cx="581.69" cy="516.79" r="3"/>
<circle cx="525.23" cy="570.42" r="3"/>
<circle cx="581.13" cy="516.65" r="3"/>
<circle cx="521.62" cy="575.31" r="3"/>
<circle cx="539.8" cy="549.36" r="3"/>
<circle cx="585.29" cy="521.59" r="3"/>
<circle cx="594.66" cy="501.65" r="3"/>
<circle cx="603.32" cy="494.19" r="3"/>
<circle cx="539.22" cy="555.67" r="3"/>
<circle cx="579.54" cy="511.32" r="3"/>
<circle cx="585.27" cy="512.04" r="3"/>
<circle cx="612.84" cy="491.18" r="3"/>
<circle cx="538.72" cy="552.52" r="3"/>
<circle cx="554.78" cy="539.68" r="3"/>
<circle cx="568.13" cy="528.67" r="3"/>
<circle cx="573.98" cy="520.1" r="3"/>
<circle cx="551.19" cy="545.07" r="3"/>
<circle cx="552.01" cy="535.51" r="3"/>
<circle cx="597.14" cy="493.7" r="3"/>
<circle cx="539.71" cy="553.08" r="3"/>
<circle cx="595.7" cy="496.13" r="3"/>
<circle cx="607.7" cy="486.02" r="3"/>
<circle cx="615.09" cy="485.25" r="3"/>
<circle cx="560.9" cy="542.34" r="3"/>
<circle cx="580.7" cy="520.47" r="3"/>
<circle cx="552.79" cy="539.7" r="3"/>
<circle cx="605.18" cy="492.43" r="3"/>
<circle cx="607.42" cy="490.64" r="3"/>
<circle cx="587.65" cy="505.11" r="3"/>
<circle cx="519.76" cy="577.61" r="3"/>
<circle cx="572.64" cy="514.49" r="3"/>
<circle cx="585.62" cy="514.48" r="3"/>
<circle cx="585.81" cy="508.99" r="3"/>
<circle cx="582.72" cy="521.86" r="3"/>
<circle cx="545.51" cy="547.62" r="3"/>
<circle cx="569.23" cy="523.32" r="3"/>
<circle cx="563.52" cy="525.24" r="3"/>
<circle cx="553.47" cy="545.31" r="3"/>
<circle cx="544.77" cy="551.55" r="3"/>
<circle cx="540.85" cy="566.33" r="3"/>
<circle cx="570.22" cy="531.97" r="3"/>
<circle cx="595.79" cy="505.43" r="3"/>
<circle cx="603.61" cy="494.16" r="3"/>
<circle cx="599.48" cy="498.19" r="3"/>
<circle cx="595.98" cy="504.65" r="3"/>
<circle cx="613.63" cy="482.73" r="3"/>
<circle cx="597.65" cy="491.15" r="3"/>
<circle cx="551.75" cy="538.1" r="3"/>
<circle cx="560.96" cy="528.18" r="3"/>
<circle cx="593.63" cy="506.38" r="3"/>
<circle cx="583.26" cy="508.53" r="3"/>
<circle cx="575.49" cy="525.14" r="3"/>
<circle cx="565.83" cy="526.75" r="3"/>
<circle cx="583.13" cy="514.42" r="3"/>
<circle cx="550.38" cy="549.84" r="3"/>
<circle cx="611.74" cy="482.65" r="3"/>
<circle cx="564.75" cy="527.97" r="3"/>
<circle cx="603.92" cy="495.79" r="3"/>
<circle cx="535.62" cy="569.78" r="3"/>
<circle cx="579.14" cy="518.76" r="3"/>
<circle cx="564.29" cy="531.02" r="3"/>
<circle cx="521.77" cy="582.29" r="3"/>
<circle cx="572.97" cy="523.49" r="3"/>
<circle cx="574.64" cy="524.82" r="3"/>
<circle cx="576.74" cy="511.6" r="3"/>
<circle cx="552.22" cy="543.05" r="3"/>
<circle cx="621.69" cy="471.63" r="3"/>
<circle cx="606.94" cy="486.22" r="3"/>
<circle cx="534.4" cy="561.69" r="3"/>
<circle cx="585.51" cy="514.12" r="3"/>
<circle cx="567.34" cy="541.77" r="3"/>
<circle cx="595.84" cy="500.97" r="3"/>
<circle cx="547.87" cy="553.61" r="3"/>
<circle cx="586.89" cy="507.63" r="3"/>
<circle cx="522.5" cy="578.58" r="3"/>
<circle cx="627.15" cy="472.65" r="3"/>
<circle cx="565.26" cy="535.08" r="3"/>
<circle cx="536.76" cy="565.09" r="3"/>
<circle cx="595.97" cy="498.56" r="3"/>
<circle cx="557.96" cy="536.01" r="3"/>
<circle cx="532.13" cy="572.31" r="3"/>
<circle cx="594.05" cy="509.38" r="3"/>
<circle cx="566.29" cy="528.72" r="3"/>
<circle cx="604.95" cy="496.55" r="3"/>
<circle cx="584.42" cy="518.57" r="3"/>
<circle cx="560.7" cy="536.84" r="3"/>
<circle cx="538.7" cy="558.49" r="3"/>
<circle cx="556.62" cy="537.37" r="3"/>
<circle cx="533.53" cy="573.68" r="3"/>
<circle cx="609.17" cy="487.41" r="3"/>
<circle cx="602.12" cy="499.7" r="3"/>
<circle cx="610.2" cy="486.94" r="3"/>
<circle cx="606.18" cy="495.87" r="3"/>
<circle cx="551.46" cy="548.23" r="3"/>
<circle cx="557.03" cy="542.59" r="3"/>
<circle cx="597.58" cy="501.51" r="3"/>
<circle cx="587.92" cy="517.43" r="3"/>
<circle cx="555.19" cy="536.83" r="3"/>
<circle cx="602.91" cy="494.61" r="3"/>
<circle cx="530.95" cy="568.97" r="3"/>
<circle cx="584.77" cy="509.73" r="3"/>
<circle cx="558.91" cy="538.25" r="3"/>
<circle cx="576.93" cy="527.93" r="3"/>
<circle cx="570.45" cy="519.24" r="3"/>
<circle cx="595.41" cy="502.61" r="3"/>
<circle cx="546.88" cy="548.3" r="3"/>
<circle cx="558.95" cy="533.13" r="3"/>
<circle cx="553.44" cy="539.23" r="3"/>
<circle cx="516.61" cy="578.33" r="3"/>
<circle cx="608.56" cy="490.31" r="3"/>
<circle cx="560.35" cy="527.64" r="3"/>
<circle cx="614.54" cy="487.99" r="3"/>
<circle cx="581.13" cy="513.71" r="3"/>
<circle cx="582.22" cy="519.22" r="3"/>
<circle cx="571.87" cy="523.44" r="3"/>
<circle cx="616.21" cy="490.04" r="3"/>
<circle cx="598.67" cy="499.23" r="3"/>
<circle cx="536.94" cy="555.7" r="3"/>
<circle cx="572.84" cy="521.38" r="3"/>
<circle cx="599.5" cy="504.97" r="3"/>
<circle cx="527.44" cy="562.86" r="3"/>
<circle cx="555.13" cy="539.89" r="3"/>
<circle cx="601.61" cy="492.79" r="3"/>
<circle cx="588.44" cy="505.44" r="3"/>
<circle cx="586.1" cy="502.62" r="3"/>
<circle cx="546.64" cy="547.53" r="3"/>
<circle cx="522.92" cy="582.41" r="3"/>
<circle cx="585.21" cy="507.73" r="3"/>
<circle cx="589.64" cy="502.2" r="3"/>
<circle cx="561.55" cy="533.63" r="3"/>
<circle cx="553.41" cy="542.96" r="3"/>
<circle cx="551.53" cy="543.19" r="3"/>
<circle cx="565.33" cy="536.27" r="3"/>
<circle cx="557.71" cy="537.25" r="3"/>
<circle cx="625.94" cy="479.15" r="3"/>
<circle cx="581.48" cy="515.43" r="3"/>
<circle cx="579.22" cy="510" r="3"/>
<circle cx="550.46" cy="546.66" r="3"/>
<circle cx="600.41" cy="492.23" r="3"/>
<circle cx="526.66" cy="565.22" r="3"/>
<circle cx="544.32" cy="550.77" r="3"/>
<circle cx="594.3" cy="503.17" r="3"/>
<circle cx="609.54" cy="482.55" r="3"/>
<circle cx="557.78" cy="534.4" r="3"/>
<circle cx="569.59" cy="527.36" r="3"/>
<circle cx="545.69" cy="550.07" r="3"/>
<circle cx="528.05" cy="568.51" r="3"/>
<circle cx="559.64" cy="536.43" r="3"/>
<circle cx="606.73" cy="495.82" r="3"/>
<circle cx="583.61" cy="505.51" r="3"/>
<circle cx="574.57" cy="521.33" r="3"/>
<circle cx="582.97" cy="519.42" r="3"/>
<circle cx="537.36" cy="572.76" r="3"/>
<circle cx="515.61" cy="580.69" r="3"/>
<circle cx="608.81" cy="489.19" r="3"/>
<circle cx="545.89" cy="548.79" r="3"/>
<circle cx="532.04" cy="563.01" r="3"/>
<circle cx="535.42" cy="570.52" r="3"/>
<circle cx="568.43" cy="531.07" r="3"/>
<circle cx="600.76" cy="493.69" r="3"/>
<circle cx="589.17" cy="510.87" r="3"/>
<circle cx="588.56" cy="497.72" r="3"/>
<circle cx="552.43" cy="541.33" r="3"/>
<circle cx="602.08" cy="494.76" r="3"/>
<circle cx="591.96" cy="512.84" r="3"/>
<circle cx="590.96" cy="502.88" r="3"/>
<circle cx="607.49" cy="486.93" r="3"/>
<circle cx="515.01" cy="581.24" r="3"/>
<circle cx="584.86" cy="511.81" r="3"/>
<circle cx="611.47" cy="480.31" r="3"/>
<circle cx="607.4" cy="486.17" r="3"/>
<circle cx="561.22" cy="540.51" r="3"/>
<circle cx="549.92" cy="544.72" r="3"/>
<circle cx="585.24" cy="505.86" r="3"/>
<circle cx="574.06" cy="527.63" r="3"/>
<circle cx="567.23" cy="528.69" r="3"/>
<circle cx="532.13" cy="579.57" r="3"/>
<circle cx="563.27" cy="538.09" r="3"/>
<circle cx="590.27" cy="498.03" r="3"/>
<circle cx="530.58" cy="574.81" r="3"/>
<circle cx="548.46" cy="549.76" r="3"/>
<circle cx="607.34" cy="484.83" r="3"/>
<circle cx="605.94" cy="485.13" r="3"/>
<circle cx="591.11" cy="502.89" r="3"/>
<circle cx="582.73" cy="516.83" r="3"/>
<circle cx="582.85" cy="510.73" r="3"/>
<circle cx="555.34" cy="541.66" r="3"/>
<circle cx="570.71" cy="525.73" r="3"/>
<circle cx="574.77" cy="516.75" r="3"/>
<circle cx="529.8" cy="571.16" r="3"/>
<circle cx="566.21" cy="527.78" r="3"/>
<circle cx="563.71" cy="527.91" r="3"/>
<circle cx="568.58" cy="527.91" r="3"/>
<circle cx="584.75" cy="506.36" r="3"/>
<circle cx="587.73" cy="508.56" r="3"/>
<circle cx="573.77" cy="525.91" r="3"/>
<circle cx="594.87" cy="497.9" r="3"/>
<circle cx="566.36" cy="536.48" r="3"/>
<circle cx="576.49" cy="519.47" r="3"/>
<circle cx="607.19" cy="492.79" r="3"/>
<circle cx="517.31" cy="576.18" r="3"/>
<circle cx="565.61" cy="530.11" r="3"/>
<circle cx="551.74" cy="531.36" r="3"/>
<circle cx="524.12" cy="574.98" r="3"/>
<circle cx="593.77" cy="505.13" r="3"/>
<circle cx="571.86" cy="522.58" r="3"/>
<circle cx="536.18" cy="560.38" r="3"/>
<circle cx="590.83" cy="502.15" r="3"/>
<circle cx="549.38" cy="545.43" r="3"/>
<circle cx="573.11" cy="521.18" r="3"/>
<circle cx="581.85" cy="513.51" r="3"/>
<circle cx="522.77" cy="576.39" r="3"/>
<circle cx="594.9" cy="505.1" r="3"/>
<circle cx="576.43" cy="515.35" r="3"/>
<circle cx="592.71" cy="497.84" r="3"/>
<circle cx="578.16" cy="516.28" r="3"/>
<circle cx="571" cy="526.51" r="3"/>
<circle cx="566.65" cy="525.63" r="3"/>
<circle cx="570.69" cy="531.89" r="3"/>
<circle cx="595.34" cy="502.02" r="3"/>
<circle cx="535.83" cy="568.6" r="3"/>
<circle cx="571.48" cy="524.84" r="3"/>
<circle cx="540.04" cy="561.93" r="3"/>
<circle cx="597.59" cy="502.69" r="3"/>
<circle cx="529" cy="561.98" r="3"/>
<circle cx="614.48" cy="482.54" r="3"/>
<circle cx="558.26" cy="536.28" r="3"/>
<circle cx="595.52" cy="497.21" r="3"/>
<circle cx="589.25" cy="510.98" r="3"/>
<circle cx="569.06" cy="529.34" r="3"/>
<circle cx="567.36" cy="532.32" r="3"/>
<circle cx="561.75" cy="531.91" r="3"/>
<circle cx="592.46" cy="503.22" r="3"/>
<circle cx="619.66" cy="478.44" r="3"/>
<circle cx="568.73" cy="526.22" r="3"/>
<circle cx="548.07" cy="549.86" r="3"/>
<circle cx="551.35" cy="542.8" r="3"/>
<circle cx="585.37" cy="513.24" r="3"/>
<circle cx="565.46" cy="519.38" r="3"/>
<circle cx="536.03" cy="551.13" r="3"/>
<circle cx="546.74" cy="543.08" r="3"/>
<circle cx="599.7" cy="494.13" r="3"/>
<circle cx="610.22" cy="488.51" r="3"/>
<circle cx="577.16" cy="520.45" r="3"/>
<circle cx="548.86" cy="547.06" r="3"/>
<circle cx="523.94" cy="576.41" r="3"/>
<circle cx="566.18" cy="533.11" r="3"/>
<circle cx="572.61" cy="526.77" r="3"/>
<circle cx="603.85" cy="485.95" r="3"/>
<circle cx="521.3" cy="576.7" r="3"/>
<circle cx="530.75" cy="576.35" r="3"/>
<circle cx="565.95" cy="528.48" r="3"/>
<circle cx="530.11" cy="577.9" r="3"/>
<circle cx="566.17" cy="536.27" r="3"/>
<circle cx="541.47" cy="555.49" r="3"/>
<circle cx="587.28" cy="513.17" r="3"/>
<circle cx="591.59" cy="498.46" r="3"/>
<circle cx="584.94" cy="513.55" r="3"/>
<circle cx="568.76" cy="519.33" r="3"/>
<circle cx="564.36" cy="530.93" r="3"/>
<circle cx="530.74" cy="573.58" r="3"/>
<circle cx="520.78" cy="582.08" r="3"/>
<circle cx="595.27" cy="501.07" r="3"/>
<circle cx="554.36" cy="543.53" r="3"/>
<circle cx="545.39" cy="545.97" r="3"/>
<circle cx="567.01" cy="525.88" r="3"/>
<circle cx="591.96" cy="507.67" r="3"/>
<circle cx="592.7" cy="509.83" r="3"/>
<circle cx="570.33" cy="515.28" r="3"/>
<circle cx="610.88" cy="490.51" r="3"/>
<circle cx="545.99" cy="548.2" r="3"/>
<circle cx="555.81" cy="534.68" r="3"/>
<circle cx="565.33" cy="534.5" r="3"/>
<circle cx="553.14" cy="542.53" r="3"/>
<circle cx="529.51" cy="570.96" r="3"/>
<circle cx="585.74" cy="507.77" r="3"/>
<circle cx="597.05" cy="500.11" r="3"/>
<circle cx="549.77" cy="538.29" r="3"/>
<circle cx="559.36" cy="535.85" r="3"/>
<circle cx="582.58" cy="511.66" r="3"/>
<circle cx="610.94" cy="489.84" r="3"/>
<circle cx="530.96" cy="558.75" r="3"/>
<circle cx="609.55" cy="490.53" r="3"/>
<circle cx="519" cy="577.09" r="3"/>
<circle cx="563.07" cy="533.53" r="3"/>
<circle cx="595.56" cy="496.4" r="3"/>
<circle cx="526.45" cy="568.71" r="3"/>
<circle cx="606.18" cy="491.43" r="3"/>
<circle cx="595.66" cy="501.44" r="3"/>
<circle cx="562.82" cy="531.48" r="3"/>
<circle cx="504.92" cy="578.36" r="3"/>
<circle cx="546.89" cy="549.39" r="3"/>
<circle cx="562.64" cy="525.37" r="3"/>
<circle cx="548.47" cy="551.19" r="3"/>
<circle cx="608.54" cy="487.18" r="3"/>
<circle cx="568.28" cy="525.46" r="3"/>
<circle cx="524.65" cy="582.54" r="3"/>
<circle cx="586.75" cy="512.16" r="3"/>
<circle cx="528.95" cy="571.99" r="3"/>
<circle cx="596.61" cy="502.66" r="3"/>
<circle cx="555.91" cy="542.52" r="3"/>
<circle cx="611.04" cy="484.58" r="3"/>
<circle cx="552.23" cy="528.75" r="3"/>
<circle cx="570.3" cy="529.07" r="3"/>
<circle cx="549.68" cy="547.71" r="3"/>
<circle cx="526.38" cy="572.41" r="3"/>
<circle cx="599.57" cy="506.8" r="3"/>
<circle cx="610.25" cy="485.83" r="3"/>
<circle cx="590.93" cy="502.51" r="3"/>
<circle cx="518.72" cy="582.71" r="3"/>
<circle cx="596.88" cy="497.35" r="3"/>
<circle cx="528.92" cy="581.6" r="3"/>
<circle cx="533.47" cy="573.04" r="3"/>
<circle cx="538.48" cy="559.98" r="3"/>
<circle cx="571.82" cy="526.19" r="3"/>
<circle cx="588.82" cy="501.7" r="3"/>
<circle cx="576.17" cy="520.66" r="3"/>
<circle cx="560.17" cy="536.37" r="3"/>
<circle cx="572.19" cy="519.41" r="3"/>
<circle cx="535.08" cy="558.04" r="3"/>
<circle cx="553.51" cy="545.56" r="3"/>
<circle cx="523.24" cy="578.23" r="3"/>
<circle cx="555.01" cy="535.39" r="3"/>
<circle cx="599.86" cy="498.18" r="3"/>
<circle cx="523.13" cy="577.81" r="3"/>
<circle cx="559.9" cy="533.66" r="3"/>
<circle cx="613.49" cy="485.32" r="3"/>
<circle cx="592.15" cy="504.04" r="3"/>
<circle cx="577.99" cy="507.9" r="3"/>
<circle cx="572.53" cy="517.74" r="3"/>
<circle cx="573.66" cy="521.39" r="3"/>
<circle cx="614.98" cy="480.09" r="3"/>
<circle cx="572.75" cy="525.73" r="3"/>
<circle cx="589.93" cy="501.66" r="3"/>
<circle cx="569.99" cy="519.19" r="3"/>
<circle cx="571.56" cy="520.86" r="3"/>
<circle cx="554.38" cy="547.78" r="3"/>
<circle cx="606.63" cy="483.41" r="3"/>
<circle cx="565.65" cy="527.94" r="3"/>
<circle cx="597.1" cy="494.35" r="3"/>
<circle cx="528.36" cy="570.33" r="3"/>
<circle cx="525.86" cy="564.17" r="3"/>
<circle cx="532.37" cy="574.62" r="3"/>
<circle cx="598.43" cy="502.16" r="3"/>
<circle cx="603.41" cy="502.08" r="3"/>
<circle cx="595.92" cy="501.07" r="3"/>
<circle cx="629.8" cy="474.18" r="3"/>
<circle cx="570.84" cy="511.27" r="3"/>
<circle cx="621.86" cy="468.34" r="3"/>
<circle cx="660.84" cy="428.38" r="3"/>
<circle cx="656.08" cy="431.5" r="3"/>
<circle cx="635.28" cy="449.02" r="3"/>
<circle cx="627.49" cy="461.83" r="3"/>
<circle cx="632.18" cy="457.68" r="3"/>
<circle cx="645.26" cy="444.01" r="3"/>
<circle cx="655.09" cy="432.49" r="3"/>
<circle cx="658.16" cy="431.86" r="3"/>
<circle cx="661.19" cy="429.12" r="3"/>
<circle cx="659.23" cy="426.61" r="3"/>
<circle cx="659.58" cy="432.02" r="3"/>
<circle cx="626.71" cy="466.58" r="3"/>
<circle cx="617.71" cy="469.73" r="3"/>
<circle cx="664.78" cy="430.17" r="3"/>
<circle cx="626.4" cy="465.73" r="3"/>
<circle cx="663.2" cy="429.41" r="3"/>
<circle cx="650.18" cy="440.93" r="3"/>
<circle cx="666.39" cy="422.53" r="3"/>
<circle cx="625.05" cy="461.3" r="3"/>
<circle cx="649.92" cy="435.44" r="3"/>
<circle cx="627.34" cy="461.78" r="3"/>
<circle cx="508.61" cy="578.83" r="3"/>
<circle cx="593.25" cy="516.96" r="3"/>
<circle cx="608.84" cy="503.61" r="3"/>
<circle cx="595.33" cy="515.06" r="3"/>
<circle cx="534.33" cy="542.35" r="3"/>
<circle cx="548.03" cy="522.49" r="3"/>
<circle cx="635.3" cy="508.58" r="3"/>
<circle cx="536.6" cy="550.88" r="3"/>
<circle cx="586.73" cy="538.51" r="3"/>
<circle cx="573.79" cy="551.88" r="3"/>
</g><g fill="#ff1420" fill-opacity="0.45">
<circle cx="596.25" cy="503.39" r="3"/>
<circle cx="539.01" cy="537.18" r="3"/>
<circle cx="558.17" cy="551.17" r="3"/>
<circle cx="560.25" cy="547.23" r="3"/>
<circle cx="567.04" cy="532.87" r="3"/>
<circle cx="597.58" cy="508.46" r="3"/>
<circle cx="528.94" cy="562" r="3"/>
<circle cx="586.03" cy="502.12" r="3"/>
<circle cx="556.9" cy="537.28" r="3"/>
<circle cx="581.9" cy="519.04" r="3"/>
<circle cx="559.39" cy="541.24" r="3"/>
<circle cx="629.96" cy="471.83" r="3"/>
<circle cx="545.42" cy="560.05" r="3"/>
<circle cx="584.63" cy="529.72" r="3"/>
<circle cx="600.43" cy="510.45" r="3"/>
<circle cx="556.53" cy="547.94" r="3"/>
<circle cx="557.79" cy="515.28" r="3"/>
<circle cx="547.96" cy="561.31" r="3"/>
<circle cx="569.42" cy="519.32" r="3"/>
<circle cx="546.78" cy="539.81" r="3"/>
<circle cx="534.15" cy="559.11" r="3"/>
<circle cx="563.44" cy="521.42" r="3"/>
<circle cx="543.13" cy="548.91" r="3"/>
<circle cx="549.97" cy="546.17" r="3"/>
<circle cx="552.47" cy="542.18" r="3"/>
<circle cx="553.18" cy="551.09" r="3"/>
<circle cx="567.14" cy="520.58" r="3"/>
<circle cx="526.96" cy="557.77" r="3"/>
<circle cx="574.39" cy="529.77" r="3"/>
<circle cx="522.92" cy="557.3" r="3"/>
<circle cx="553.4" cy="534.6" r="3"/>
<circle cx="546.41" cy="548.57" r="3"/>
<circle cx="546.39" cy="523.64" r="3"/>
<circle cx="552.5" cy="545.14" r="3"/>
<circle cx="563.03" cy="529.06" r="3"/>
<circle cx="531.1" cy="549.13" r="3"/>
<circle cx="517.57" cy="567.05" r="3"/>
<circle cx="552.24" cy="552.1" r="3"/>
<circle cx="560.07" cy="529.87" r="3"/>
<circle cx="547.45" cy="547.28" r="3"/>
<circle cx="541.91" cy="551.52" r="3"/>
<circle cx="565.34" cy="537.47" r="3"/>
<circle cx="566.31" cy="539.74" r="3"/>
<circle cx="527.87" cy="563.54" r="3"/>
<circle cx="595.8" cy="507.51" r="3"/>
<circle cx="538.04" cy="559.82" r="3"/>
<circle cx="534.22" cy="561.56" r="3"/>
<circle cx="546.53" cy="542.32" r="3"/>
<circle cx="530.71" cy="575.48" r="3"/>
<circle cx="570.81" cy="525.03" r="3"/>
<circle cx="549.4" cy="543.91" r="3"/>
<circle cx="536.77" cy="562" r="3"/>
<circle cx="533.86" cy="546.09" r="3"/>
<circle cx="550.25" cy="559.35" r="3"/>
<circle cx="574.83" cy="532.98" r="3"/>
<circle cx="625.01" cy="461.57" r="3"/>
<circle cx="562.59" cy="541.91" r="3"/>
<circle cx="545.7" cy="557.18" r="3"/>
<circle cx="579.59" cy="512.71" r="3"/>
<circle cx="543.86" cy="545.66" r="3"/>
<circle cx="607.58" cy="486.34" r="3"/>
<circle cx="537.03" cy="552.94" r="3"/>
<circle cx="558.4" cy="524.25" r="3"/>
<circle cx="548.81" cy="559.48" r="3"/>
<circle cx="541.28" cy="549.04" r="3"/>
<circle cx="548.11" cy="541.1" r="3"/>
<circle cx="548.98" cy="556.26" r="3"/>
<circle cx="561.53" cy="521.9" r="3"/>
<circle cx="544.75" cy="580.73" r="3"/>
<circle cx="554.94" cy="545.76" r="3"/>
<circle cx="542.27" cy="547" r="3"/>
<circle cx="550.55" cy="529.78" r="3"/>
<circle cx="533.34" cy="539.02" r="3"/>
<circle cx="542.8" cy="548.77" r="3"/>
<circle cx="563.68" cy="533.56" r="3"/>
<circle cx="542.2" cy="552.27" r="3"/>
<circle cx="581.89" cy="522.99" r="3"/>
<circle cx="526.39" cy="576.08" r="3"/>
<circle cx="530.67" cy="552.73" r="3"/>
<circle cx="577.43" cy="539.75" r="3"/>
<circle cx="537.9" cy="568.82" r="3"/>
<circle cx="608.12" cy="484.55" r="3"/>
<circle cx="558.16" cy="535.47" r="3"/>
<circle cx="553.89" cy="551.67" r="3"/>
<circle cx="551.29" cy="533.24" r="3"/>
<circle cx="592.38" cy="523.43" r="3"/>
<circle cx="526.69" cy="579.27" r="3"/>
<circle cx="612.94" cy="481.89" r="3"/>
<circle cx="597.08" cy="499.32" r="3"/>
<circle cx="535.43" cy="544.34" r="3"/>
<circle cx="597.63" cy="497.44" r="3"/>
<circle cx="557.05" cy="526.18" r="3"/>
<circle cx="545.63" cy="554.49" r="3"/>
<circle cx="593.05" cy="520.08" r="3"/>
<circle cx="577.2" cy="520.71" r="3"/>
<circle cx="558.12" cy="522.05" r="3"/>
<circle cx="537.19" cy="559.16" r="3"/>
<circle cx="537.34" cy="563.43" r="3"/>
<circle cx="546.15" cy="539.52" r="3"/>
<circle cx="533.7" cy="551.53" r="3"/>
<circle cx="546.69" cy="540.19" r="3"/>
<circle cx="582.04" cy="489.83" r="3"/>
<circle cx="618.37" cy="464.25" r="3"/>
<circle cx="550.56" cy="553.58" r="3"/>
<circle cx="555.91" cy="561.07" r="3"/>
<circle cx="554.9" cy="537.52" r="3"/>
<circle cx="589.12" cy="513.19" r="3"/>
<circle cx="531.82" cy="562.34" r="3"/>
<circle cx="533.83" cy="563.81" r="3"/>
<circle cx="613.37" cy="474.68" r="3"/>
<circle cx="576.42" cy="521.33" r="3"/>
<circle cx="566.15" cy="514.6" r="3"/>
<circle cx="564.81" cy="539.48" r="3"/>
<circle cx="549.54" cy="535.37" r="3"/>
<circle cx="560.33" cy="543.75" r="3"/>
<circle cx="570.93" cy="531.32" r="3"/>
<circle cx="551.62" cy="550.54" r="3"/>
<circle cx="528.16" cy="566.41" r="3"/>
<circle cx="555.25" cy="566.98" r="3"/>
<circle cx="566.31" cy="507.55" r="3"/>
<circle cx="602.52" cy="488.05" r="3"/>
<circle cx="545.82" cy="562.96" r="3"/>
<circle cx="559.01" cy="546.52" r="3"/>
<circle cx="568.48" cy="530.37" r="3"/>
<circle cx="586.44" cy="506" r="3"/>
<circle cx="632.07" cy="485.5" r="3"/>
<circle cx="576.08" cy="537.78" r="3"/>
<circle cx="571.26" cy="520.16" r="3"/>
<circle cx="593.99" cy="499.66" r="3"/>
<circle cx="558.31" cy="540.7" r="3"/>
<circle cx="550.02" cy="549.12" r="3"/>
<circle cx="553.39" cy="538" r="3"/>
<circle cx="546.31" cy="539.85" r="3"/>
<circle cx="553.31" cy="543" r="3"/>
<circle cx="563.45" cy="525.52" r="3"/>
<circle cx="559.53" cy="518.96" r="3"/>
<circle cx="591.89" cy="506.51" r="3"/>
<circle cx="575.29" cy="530.31" r="3"/>
<circle cx="549.47" cy="543.35" r="3"/>
<circle cx="569.57" cy="533.43" r="3"/>
<circle cx="555.88" cy="551.65" r="3"/>
<circle cx="543.17" cy="545.94" r="3"/>
<circle cx="551.95" cy="531.32" r="3"/>
<circle cx="532.88" cy="567.44" r="3"/>
<circle cx="609.96" cy="500.14" r="3"/>
<circle cx="554.45" cy="518.99" r="3"/>
<circle cx="572.95" cy="515.27" r="3"/>
<circle cx="549.8" cy="550.98" r="3"/>
<circle cx="545.8" cy="550.74" r="3"/>
<circle cx="590.17" cy="493.5" r="3"/>
<circle cx="558.04" cy="535.98" r="3"/>
<circle cx="602.2" cy="493.44" r="3"/>
<circle cx="555.77" cy="553.38" r="3"/>
<circle cx="533.65" cy="556.04" r="3"/>
<circle cx="561.83" cy="536.76" r="3"/>
<circle cx="554.33" cy="526.14" r="3"/>
<circle cx="561.55" cy="554.69" r="3"/>
<circle cx="556.57" cy="548.34" r="3"/>
<circle cx="553.99" cy="559.44" r="3"/>
<circle cx="553.16" cy="528.65" r="3"/>
<circle cx="581.22" cy="519.5" r="3"/>
<circle cx="531.33" cy="582.41" r="3"/>
<circle cx="552.02" cy="539.1" r="3"/>
<circle cx="578.48" cy="513.45" r="3"/>
<circle cx="519.92" cy="557.04" r="3"/>
<circle cx="541.62" cy="556.61" r="3"/>
<circle cx="617.82" cy="472.05" r="3"/>
<circle cx="538.39" cy="545.74" r="3"/>
<circle cx="555.85" cy="543.36" r="3"/>
<circle cx="547.39" cy="557.26" r="3"/>
<circle cx="531.82" cy="558.42" r="3"/>
<circle cx="560.07" cy="534.51" r="3"/>
<circle cx="542.7" cy="567.66" r="3"/>
<circle cx="550.48" cy="544.29" r="3"/>
<circle cx="574.61" cy="528.5" r="3"/>
<circle cx="628.61" cy="487.27" r="3"/>
<circle cx="584.14" cy="508.61" r="3"/>
<circle cx="594.67" cy="480.55" r="3"/>
<circle cx="574.36" cy="515.44" r="3"/>
<circle cx="590" cy="489.72" r="3"/>
<circle cx="599.34" cy="483.83" r="3"/>
<circle cx="585.36" cy="494.56" r="3"/>
<circle cx="554.28" cy="551.12" r="3"/>
<circle cx="604.17" cy="523.53" r="3"/>
<circle cx="558.35" cy="518.26" r="3"/>
<circle cx="583.74" cy="522.53" r="3"/>
<circle cx="559" cy="551.93" r="3"/>
<circle cx="555.13" cy="545.82" r="3"/>
<circle cx="613.47" cy="459.14" r="3"/>
<circle cx="610.66" cy="475.1" r="3"/>
<circle cx="610.96" cy="490.3" r="3"/>
<circle cx="577.72" cy="484.81" r="3"/>
<circle cx="584.67" cy="469.58" r="3"/>
<circle cx="585.08" cy="523.67" r="3"/>
<circle cx="587.17" cy="511.24" r="3"/>
<circle cx="623.06" cy="480.87" r="3"/>
<circle cx="534.9" cy="528.94" r="3"/>
<circle cx="584.76" cy="509.82" r="3"/>
<circle cx="583.13" cy="529.53" r="3"/>
<circle cx="580.24" cy="526.98" r="3"/>
</g></g>
<rect x="500.8" y="413.7" width="181.2" height="180" fill="none" stroke="#141414" stroke-width="1.25"/>
<path d="M500.8,593.7h3 M500.8,593.7v-3 M500.8,567.99h1.6 M526.69,593.7v-1.6 M500.8,542.27h3 M552.57,593.7v-3 M500.8,516.56h1.6 M578.46,593.7v-1.6 M500.8,490.84h3 M604.34,593.7v-3 M500.8,465.13h1.6 M630.23,593.7v-1.6 M500.8,439.41h3 M656.11,593.7v-3 M500.8,413.7h1.6 M682,593.7v-1.6" stroke="#141414" stroke-width="1.1" fill="none"/>
<text x="497.2" y="596.77" font-size="9.3" text-anchor="end" font-weight="bold" fill="#000" >0</text>
<text x="500.8" y="604.9" font-size="9.3" text-anchor="middle" font-weight="bold" fill="#000" >0</text>
<text x="497.2" y="545.34" font-size="9.3" text-anchor="end" font-weight="bold" fill="#000" >200</text>
<text x="552.57" y="604.9" font-size="9.3" text-anchor="middle" font-weight="bold" fill="#000" >200</text>
<text x="497.2" y="493.91" font-size="9.3" text-anchor="end" font-weight="bold" fill="#000" >400</text>
<text x="604.34" y="604.9" font-size="9.3" text-anchor="middle" font-weight="bold" fill="#000" >400</text>
<text x="497.2" y="442.48" font-size="9.3" text-anchor="end" font-weight="bold" fill="#000" >600</text>
<text x="656.11" y="604.9" font-size="9.3" text-anchor="middle" font-weight="bold" fill="#000" >600</text>
<circle cx="508.8" cy="422.5" r="3.1" fill="#8cc6ff"/>
<circle cx="508.8" cy="436.1" r="3.1" fill="#ff8e8e"/>
<text x="519.1" y="425.4" font-size="11.2" text-anchor="start" font-weight="bold" fill="#000" >Train , RMSE = 33.3</text>
<text x="519.1" y="439.3" font-size="11.2" text-anchor="start" font-weight="bold" fill="#000" >Test , RMSE = 57.5</text>
<path transform="translate(593.6,574.5) scale(8)" d="M0.5,0.97 L0.12,0.56 C-0.06,0.37 -0.02,0.06 0.23,0.04 C0.36,0.03 0.46,0.12 0.5,0.23 C0.54,0.12 0.64,0.03 0.77,0.04 C1.02,0.06 1.06,0.37 0.88,0.56 Z" fill="#ff0a0a"/>
<text x="603.2" y="582.5" font-size="10.4" text-anchor="start" font-weight="bold" fill="#000" >A and B combine</text>
<text x="594.3" y="620" font-size="14" font-weight="bold" text-anchor="middle">Predicted <tspan font-style="italic">d</tspan><tspan font-size="8.4" dy="3.5">33</tspan><tspan dy="-3.5"> (pC N</tspan><tspan font-size="8.4" dy="-5">-1</tspan><tspan dy="5">)</tspan></text>
<text transform="translate(475.5,502.2) rotate(-90)" font-size="14" font-weight="bold" text-anchor="middle">Experimental <tspan font-style="italic">d</tspan><tspan font-size="8.4" dy="3.5">33</tspan><tspan dy="-3.5"> (pC N</tspan><tspan font-size="8.4" dy="-5">-1</tspan><tspan dy="5">)</tspan></text>
<text x="0.7" y="16.9" font-size="23.3" text-anchor="start" font-weight="bold" fill="#000" >(a)</text>
<text x="236.8" y="16.9" font-size="23.3" text-anchor="start" font-weight="bold" fill="#000" >(b)</text>
<text x="458.1" y="16.9" font-size="23.3" text-anchor="start" font-weight="bold" fill="#000" >(c)</text>
<text x="0.9" y="206.3" font-size="23.3" text-anchor="start" font-weight="bold" fill="#000" >(d)</text>
<text x="236.8" y="206.3" font-size="23.3" text-anchor="start" font-weight="bold" fill="#000" >(e)</text>
<text x="458.1" y="206.3" font-size="23.3" text-anchor="start" font-weight="bold" fill="#000" >(f)</text>
<text x="0.9" y="404" font-size="23.3" text-anchor="start" font-weight="bold" fill="#000" >(g)</text>
<text x="237" y="404" font-size="23.3" text-anchor="start" font-weight="bold" fill="#000" >(h)</text>
<text x="458.1" y="404" font-size="23.3" text-anchor="start" font-weight="bold" fill="#000" >(i)</text></svg></body></html>
